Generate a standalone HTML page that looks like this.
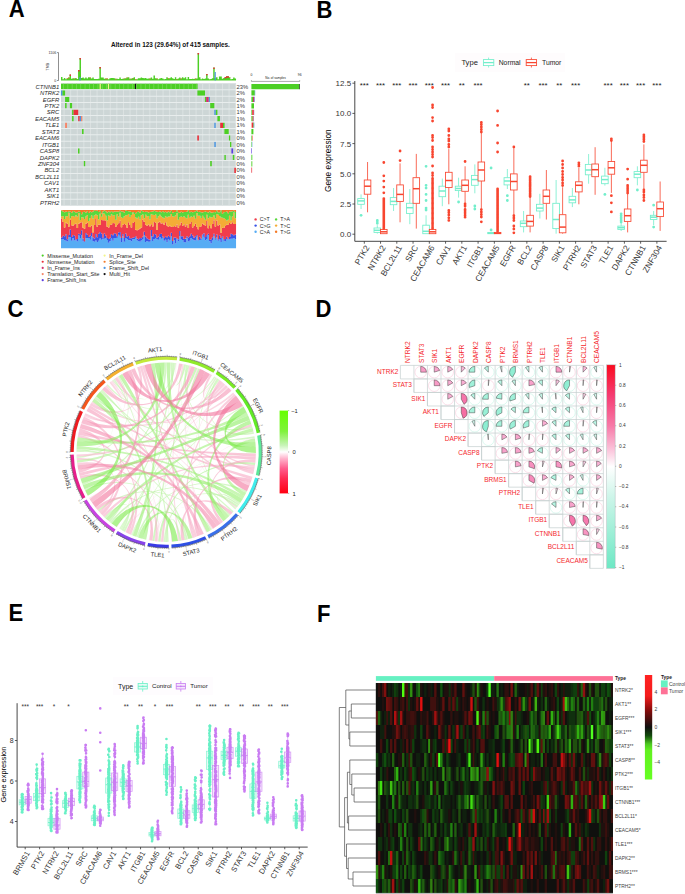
<!DOCTYPE html>
<html><head><meta charset="utf-8"><style>
html,body{margin:0;padding:0;background:#fff;overflow:hidden;width:685px;height:894px;}
svg{display:block;font-family:"Liberation Sans",sans-serif;}
</style></head><body>
<svg width="685" height="894" viewBox="0 0 685 894">
<rect width="685" height="894" fill="#fff"/>
<text x="0" y="0" font-size="24" font-weight="bold" transform="translate(8.8 16.9) scale(0.92 1)">A</text>
<text x="0" y="0" font-size="24" font-weight="bold" transform="translate(316.4 17.9) scale(0.92 1)">B</text>
<text x="0" y="0" font-size="24" font-weight="bold" transform="translate(7.6 316.5) scale(0.92 1)">C</text>
<text x="0" y="0" font-size="24" font-weight="bold" transform="translate(315.5 316.7) scale(0.92 1)">D</text>
<text x="0" y="0" font-size="24" font-weight="bold" transform="translate(8.5 621) scale(0.92 1)">E</text>
<text x="0" y="0" font-size="24" font-weight="bold" transform="translate(317 622.3) scale(0.92 1)">F</text>
<rect x="61" y="83.3" width="175" height="122.36" fill="#cdd6d6"/>
<path fill="#dde3e3" d="M63.6 83.3h0.9v122.36h-0.9zM70.2 83.3h0.9v122.36h-0.9zM76.8 83.3h0.9v122.36h-0.9zM83.4 83.3h0.9v122.36h-0.9zM90 83.3h0.9v122.36h-0.9zM96.6 83.3h0.9v122.36h-0.9zM103.2 83.3h0.9v122.36h-0.9zM109.8 83.3h0.9v122.36h-0.9zM116.4 83.3h0.9v122.36h-0.9zM123 83.3h0.9v122.36h-0.9zM129.6 83.3h0.9v122.36h-0.9zM136.2 83.3h0.9v122.36h-0.9zM142.8 83.3h0.9v122.36h-0.9zM149.4 83.3h0.9v122.36h-0.9zM156 83.3h0.9v122.36h-0.9zM162.6 83.3h0.9v122.36h-0.9zM169.2 83.3h0.9v122.36h-0.9zM175.8 83.3h0.9v122.36h-0.9zM182.4 83.3h0.9v122.36h-0.9zM189 83.3h0.9v122.36h-0.9zM195.6 83.3h0.9v122.36h-0.9zM202.2 83.3h0.9v122.36h-0.9zM208.8 83.3h0.9v122.36h-0.9zM215.4 83.3h0.9v122.36h-0.9zM222 83.3h0.9v122.36h-0.9zM228.6 83.3h0.9v122.36h-0.9zM235.2 83.3h0.9v122.36h-0.9z"/>
<path fill="#4ccf24" d="M61 83.8h136.6v5.44h-136.6zM62.3 90.24h2.8v5.44h-2.8zM197.4 90.24h7.6v5.44h-7.6zM65.1 96.68h4.1v5.44h-4.1zM204.9 96.68h1.2v5.44h-1.2zM65.1 103.12h1.5v5.44h-1.5zM69.9 103.12h2.2v5.44h-2.2zM210.2 103.12h4.1v5.44h-4.1zM72.1 109.56h1.5v5.44h-1.5zM215.7 109.56h1.7v5.44h-1.7zM72.1 116h1.5v5.44h-1.5zM217.4 116h2.5v5.44h-2.5zM223 122.44h1.6v5.44h-1.6zM82 128.88h1.6v5.44h-1.6zM224.4 128.88h4.3v5.44h-4.3zM228.9 135.32h1.3v5.44h-1.3zM230 141.76h1.3v5.44h-1.3zM78 148.2h1.5v5.44h-1.5zM224.4 154.64h1.4v5.44h-1.4zM232.8 154.64h1.5v5.44h-1.5zM83.8 161.08h1.4v5.44h-1.4zM210.2 161.08h1.6v5.44h-1.6z"/>
<path fill="#4b95e0" d="M60.9 90.24h1.4v5.44h-1.4zM208.7 96.68h1.2v5.44h-1.2zM214.3 109.56h1.4v5.44h-1.4zM79.6 116h1.4v5.44h-1.4zM214.3 122.44h1.4v5.44h-1.4zM214.3 141.76h1.5v5.44h-1.5z"/>
<path fill="#d2336e" d="M206.1 96.68h2.6v5.44h-2.6z"/>
<path fill="#e8303a" d="M73.6 109.56h4.6v5.44h-4.6zM78.2 116h1.4v5.44h-1.4zM220.2 122.44h2.8v5.44h-2.8zM197.3 135.32h1.6v5.44h-1.6zM234.3 167.52h1.6v5.44h-1.6z"/>
<path fill="#f5876a" d="M81 116h1.3v5.44h-1.3zM65.1 122.44h1.9v5.44h-1.9z"/>
<path fill="#5b3fe0" d="M231.4 148.2h1.7v5.44h-1.7z"/>
<path fill="#f2f58a" d="M99.6 83.8h1.2v5.44h-1.2zM107.9 83.8h1.2v5.44h-1.2z"/>
<path fill="#111111" d="M134.9 83.8h1.3v5.44h-1.3z"/>
<path fill="#7ada5a" d="M63.2 83.8h0.7v5.44h-0.7zM67.5 83.8h0.7v5.44h-0.7zM71.8 83.8h0.7v5.44h-0.7zM76.1 83.8h0.7v5.44h-0.7zM80.4 83.8h0.7v5.44h-0.7zM84.7 83.8h0.7v5.44h-0.7zM89 83.8h0.7v5.44h-0.7zM93.3 83.8h0.7v5.44h-0.7zM97.6 83.8h0.7v5.44h-0.7zM101.9 83.8h0.7v5.44h-0.7zM106.2 83.8h0.7v5.44h-0.7zM110.5 83.8h0.7v5.44h-0.7zM114.8 83.8h0.7v5.44h-0.7zM119.1 83.8h0.7v5.44h-0.7zM123.4 83.8h0.7v5.44h-0.7zM127.7 83.8h0.7v5.44h-0.7zM132 83.8h0.7v5.44h-0.7zM136.3 83.8h0.7v5.44h-0.7zM140.6 83.8h0.7v5.44h-0.7zM144.9 83.8h0.7v5.44h-0.7zM149.2 83.8h0.7v5.44h-0.7zM153.5 83.8h0.7v5.44h-0.7zM157.8 83.8h0.7v5.44h-0.7zM162.1 83.8h0.7v5.44h-0.7zM166.4 83.8h0.7v5.44h-0.7zM170.7 83.8h0.7v5.44h-0.7zM175 83.8h0.7v5.44h-0.7zM179.3 83.8h0.7v5.44h-0.7zM183.6 83.8h0.7v5.44h-0.7zM187.9 83.8h0.7v5.44h-0.7zM192.2 83.8h0.7v5.44h-0.7zM196.5 83.8h0.7v5.44h-0.7z"/>
<path fill="#e8eded" d="M61 89.24h175v1h-175zM61 95.68h175v1h-175zM61 102.12h175v1h-175zM61 108.56h175v1h-175zM61 115h175v1h-175zM61 121.44h175v1h-175zM61 127.88h175v1h-175zM61 134.32h175v1h-175zM61 140.76h175v1h-175zM61 147.2h175v1h-175zM61 153.64h175v1h-175zM61 160.08h175v1h-175zM61 166.52h175v1h-175zM61 172.96h175v1h-175zM61 179.4h175v1h-175zM61 185.84h175v1h-175zM61 192.28h175v1h-175zM61 198.72h175v1h-175z"/>
<defs><clipPath id="clA"><rect x="35.2" y="80" width="30" height="130"/></clipPath></defs>
<g clip-path="url(#clA)">
<text x="59.2" y="88.72" font-size="5.9" text-anchor="end" fill="#2a2a2a" font-style="italic">CTNNB1</text>
<text x="59.2" y="95.16" font-size="5.9" text-anchor="end" fill="#2a2a2a" font-style="italic">NTRK2</text>
<text x="59.2" y="101.6" font-size="5.9" text-anchor="end" fill="#2a2a2a" font-style="italic">EGFR</text>
<text x="59.2" y="108.04" font-size="5.9" text-anchor="end" fill="#2a2a2a" font-style="italic">PTK2</text>
<text x="59.2" y="114.48" font-size="5.9" text-anchor="end" fill="#2a2a2a" font-style="italic">SRC</text>
<text x="59.2" y="120.92" font-size="5.9" text-anchor="end" fill="#2a2a2a" font-style="italic">CEACAM5</text>
<text x="59.2" y="127.36" font-size="5.9" text-anchor="end" fill="#2a2a2a" font-style="italic">TLE1</text>
<text x="59.2" y="133.8" font-size="5.9" text-anchor="end" fill="#2a2a2a" font-style="italic">STAT3</text>
<text x="59.2" y="140.24" font-size="5.9" text-anchor="end" fill="#2a2a2a" font-style="italic">CEACAM6</text>
<text x="59.2" y="146.68" font-size="5.9" text-anchor="end" fill="#2a2a2a" font-style="italic">ITGB1</text>
<text x="59.2" y="153.12" font-size="5.9" text-anchor="end" fill="#2a2a2a" font-style="italic">CASP8</text>
<text x="59.2" y="159.56" font-size="5.9" text-anchor="end" fill="#2a2a2a" font-style="italic">DAPK2</text>
<text x="59.2" y="166" font-size="5.9" text-anchor="end" fill="#2a2a2a" font-style="italic">ZNF304</text>
<text x="59.2" y="172.44" font-size="5.9" text-anchor="end" fill="#2a2a2a" font-style="italic">BCL2</text>
<text x="59.2" y="178.88" font-size="5.9" text-anchor="end" fill="#2a2a2a" font-style="italic">BCL2L11</text>
<text x="59.2" y="185.32" font-size="5.9" text-anchor="end" fill="#2a2a2a" font-style="italic">CAV1</text>
<text x="59.2" y="191.76" font-size="5.9" text-anchor="end" fill="#2a2a2a" font-style="italic">AKT1</text>
<text x="59.2" y="198.2" font-size="5.9" text-anchor="end" fill="#2a2a2a" font-style="italic">SIK1</text>
<text x="59.2" y="204.64" font-size="5.9" text-anchor="end" fill="#2a2a2a" font-style="italic">PTRH2</text>
</g>
<text x="236.6" y="88.72" font-size="5.8" fill="#3a3a3a">23%</text>
<text x="236.6" y="95.16" font-size="5.8" fill="#3a3a3a">2%</text>
<text x="236.6" y="101.6" font-size="5.8" fill="#3a3a3a">2%</text>
<text x="236.6" y="108.04" font-size="5.8" fill="#3a3a3a">1%</text>
<text x="236.6" y="114.48" font-size="5.8" fill="#3a3a3a">1%</text>
<text x="236.6" y="120.92" font-size="5.8" fill="#3a3a3a">1%</text>
<text x="236.6" y="127.36" font-size="5.8" fill="#3a3a3a">1%</text>
<text x="236.6" y="133.8" font-size="5.8" fill="#3a3a3a">1%</text>
<text x="236.6" y="140.24" font-size="5.8" fill="#3a3a3a">0%</text>
<text x="236.6" y="146.68" font-size="5.8" fill="#3a3a3a">0%</text>
<text x="236.6" y="153.12" font-size="5.8" fill="#3a3a3a">0%</text>
<text x="236.6" y="159.56" font-size="5.8" fill="#3a3a3a">0%</text>
<text x="236.6" y="166" font-size="5.8" fill="#3a3a3a">0%</text>
<text x="236.6" y="172.44" font-size="5.8" fill="#3a3a3a">0%</text>
<text x="236.6" y="178.88" font-size="5.8" fill="#3a3a3a">0%</text>
<text x="236.6" y="185.32" font-size="5.8" fill="#3a3a3a">0%</text>
<text x="236.6" y="191.76" font-size="5.8" fill="#3a3a3a">0%</text>
<text x="236.6" y="198.2" font-size="5.8" fill="#3a3a3a">0%</text>
<text x="236.6" y="204.64" font-size="5.8" fill="#3a3a3a">0%</text>
<path d="M58.5 52.6V80.5M57 52.6h1.5M57 80.5h1.5" stroke="#444" stroke-width="0.6" fill="none"/>
<text x="56.2" y="54" font-size="3.6" text-anchor="end" fill="#333">1106</text>
<text x="56.2" y="81.9" font-size="3.6" text-anchor="end" fill="#333">0</text>
<text x="49.5" y="66.7" font-size="3.6" text-anchor="middle" fill="#333" transform="rotate(-90 49.5 66.7)">TMB</text>
<path fill="#4ccf24" d="M61 77.1h1.47v3.5h-1.47zM62.42 79.3h1.47v1.3h-1.47zM63.85 78h1.47v2.6h-1.47zM65.27 79.3h1.47v1.3h-1.47zM66.69 78.3h1.47v2.3h-1.47zM68.11 77.6h1.47v3h-1.47zM69.54 74.6h1.47v6h-1.47zM70.96 78.8h1.47v1.8h-1.47zM72.38 78.3h1.47v2.3h-1.47zM73.8 78.6h1.47v2h-1.47zM75.23 78h1.47v2.6h-1.47zM76.65 79h1.47v1.6h-1.47zM78.07 70h1.47v10.6h-1.47zM79.5 58.1h1.47v22.5h-1.47zM80.92 78h1.47v2.6h-1.47zM82.34 77.6h1.47v3h-1.47zM83.76 78.6h1.47v2h-1.47zM85.19 77.6h1.47v3h-1.47zM86.61 78.6h1.47v2h-1.47zM88.03 77.2h1.47v3.4h-1.47zM89.46 77.6h1.47v3h-1.47zM90.88 78.6h1.47v2h-1.47zM92.3 77.6h1.47v3h-1.47zM93.72 79h1.47v1.6h-1.47zM95.15 79h1.47v1.6h-1.47zM96.57 79h1.47v1.6h-1.47zM97.99 78.8h1.47v1.8h-1.47zM99.41 67h1.47v13.6h-1.47zM100.84 77.6h1.47v3h-1.47zM102.26 77.6h1.47v3h-1.47zM103.68 78.8h1.47v1.8h-1.47zM105.11 78.6h1.47v2h-1.47zM106.53 78.6h1.47v2h-1.47zM107.95 79.3h1.47v1.3h-1.47zM109.37 78.3h1.47v2.3h-1.47zM110.8 78h1.47v2.6h-1.47zM112.22 78h1.47v2.6h-1.47zM113.64 78.3h1.47v2.3h-1.47zM115.07 78.8h1.47v1.8h-1.47zM116.49 78.8h1.47v1.8h-1.47zM117.91 79h1.47v1.6h-1.47zM119.33 77.6h1.47v3h-1.47zM120.76 79h1.47v1.6h-1.47zM122.18 78.8h1.47v1.8h-1.47zM123.6 78.6h1.47v2h-1.47zM125.02 78.3h1.47v2.3h-1.47zM126.45 77.6h1.47v3h-1.47zM127.87 77.2h1.47v3.4h-1.47zM129.29 78.8h1.47v1.8h-1.47zM130.72 78.6h1.47v2h-1.47zM132.14 78h1.47v2.6h-1.47zM133.56 77.2h1.47v3.4h-1.47zM134.98 79.3h1.47v1.3h-1.47zM136.41 79.3h1.47v1.3h-1.47zM137.83 78.3h1.47v2.3h-1.47zM139.25 78.3h1.47v2.3h-1.47zM140.67 77.6h1.47v3h-1.47zM142.1 78h1.47v2.6h-1.47zM143.52 78.3h1.47v2.3h-1.47zM144.94 78h1.47v2.6h-1.47zM146.37 78.8h1.47v1.8h-1.47zM147.79 78.6h1.47v2h-1.47zM149.21 78.6h1.47v2h-1.47zM150.63 77.6h1.47v3h-1.47zM152.06 78.8h1.47v1.8h-1.47zM153.48 75.5h1.47v5.1h-1.47zM154.9 78.3h1.47v2.3h-1.47zM156.33 78.6h1.47v2h-1.47zM157.75 79.3h1.47v1.3h-1.47zM159.17 78.6h1.47v2h-1.47zM160.59 78h1.47v2.6h-1.47zM162.02 78.6h1.47v2h-1.47zM163.44 79.3h1.47v1.3h-1.47zM164.86 79h1.47v1.6h-1.47zM166.28 77.2h1.47v3.4h-1.47zM167.71 78.3h1.47v2.3h-1.47zM169.13 78.3h1.47v2.3h-1.47zM170.55 77.2h1.47v3.4h-1.47zM171.98 78.3h1.47v2.3h-1.47zM173.4 79h1.47v1.6h-1.47zM174.82 77.2h1.47v3.4h-1.47zM176.24 79h1.47v1.6h-1.47zM177.67 78.6h1.47v2h-1.47zM179.09 77.6h1.47v3h-1.47zM180.51 78.6h1.47v2h-1.47zM181.93 77.2h1.47v3.4h-1.47zM183.36 78.3h1.47v2.3h-1.47zM184.78 77.2h1.47v3.4h-1.47zM186.2 79.3h1.47v1.3h-1.47zM187.63 77h1.47v3.6h-1.47zM189.05 79h1.47v1.6h-1.47zM190.47 79h1.47v1.6h-1.47zM191.89 78.8h1.47v1.8h-1.47zM193.32 79h1.47v1.6h-1.47zM194.74 78.6h1.47v2h-1.47zM196.16 78.6h1.47v2h-1.47zM197.59 53h1.47v27.6h-1.47zM199.01 77.2h1.47v3.4h-1.47zM200.43 79.3h1.47v1.3h-1.47zM201.85 78.6h1.47v2h-1.47zM203.28 79h1.47v1.6h-1.47zM204.7 78.6h1.47v2h-1.47zM206.12 73.9h1.47v6.7h-1.47zM207.54 78.6h1.47v2h-1.47zM208.97 79.3h1.47v1.3h-1.47zM210.39 79h1.47v1.6h-1.47zM211.81 78.3h1.47v2.3h-1.47zM213.24 67.5h1.47v13.1h-1.47zM214.66 78.3h1.47v2.3h-1.47zM216.08 77.2h1.47v3.4h-1.47zM217.5 79.3h1.47v1.3h-1.47zM218.93 76.5h1.47v4.1h-1.47zM220.35 76.5h1.47v4.1h-1.47zM221.77 78.8h1.47v1.8h-1.47zM223.2 78h1.47v2.6h-1.47zM224.62 77h1.47v3.6h-1.47zM226.04 76.3h1.47v4.3h-1.47zM227.46 76.3h1.47v4.3h-1.47zM228.89 77.2h1.47v3.4h-1.47zM230.31 79.3h1.47v1.3h-1.47zM231.73 79h1.47v1.6h-1.47zM233.15 77.6h1.47v3h-1.47zM234.58 78.6h1.47v2h-1.47z"/>
<path fill="#e8704a" d="M66.69 78.3h1.47v0.6h-1.47zM68.11 77.6h1.47v0.6h-1.47zM73.8 78.6h1.47v0.6h-1.47zM89.46 77.6h1.47v0.6h-1.47zM105.11 78.6h1.47v0.6h-1.47zM106.53 78.6h1.47v0.6h-1.47zM115.07 78.8h1.47v0.6h-1.47zM123.6 78.6h1.47v0.6h-1.47zM126.45 77.6h1.47v0.6h-1.47zM129.29 78.8h1.47v0.6h-1.47zM132.14 78h1.47v0.6h-1.47zM134.98 79.3h1.47v0.6h-1.47zM149.21 78.6h1.47v0.6h-1.47zM156.33 78.6h1.47v0.6h-1.47zM167.71 78.3h1.47v0.6h-1.47zM176.24 79h1.47v0.6h-1.47zM180.51 78.6h1.47v0.6h-1.47zM194.74 78.6h1.47v0.6h-1.47zM228.89 77.2h1.47v0.6h-1.47z"/>
<path fill="#e8303a" d="M69.54 74.6h1.47v1.4h-1.47zM78.07 70h1.47v1.4h-1.47zM79.5 58.1h1.47v1.4h-1.47zM99.41 67h1.47v1.4h-1.47zM197.59 53h1.47v1.4h-1.47zM206.12 73.9h1.47v1.4h-1.47zM213.24 67.5h1.47v1.4h-1.47zM224.62 77h1.47v1.4h-1.47zM226.04 76.3h1.47v1.4h-1.47zM227.46 76.3h1.47v1.4h-1.47z"/>
<path fill="#4b95e0" d="M79.4 77h1.2v3.6h-1.2zM214.6 72h1.2v8.6h-1.2z"/>
<text x="170.4" y="47" font-size="6.4" text-anchor="middle" font-weight="bold" fill="#111">Altered in 123 (29.64%) of 415 samples.</text>
<path d="M251.4 81.4H299.7M251.4 80.2v1.2M299.7 80.2v1.2" stroke="#555" stroke-width="0.5" fill="none"/>
<text x="251.4" y="75.8" font-size="3.4" text-anchor="middle" fill="#222">0</text>
<text x="299.7" y="75.8" font-size="3.4" text-anchor="middle" fill="#222">96</text>
<text x="275.5" y="79.3" font-size="3.1" text-anchor="middle" fill="#222">No. of samples</text>
<path fill="#4ccf24" d="M251.4 83.9h48v5.24h-48zM251.4 90.34h3.4v5.24h-3.4zM251.4 96.78h1.6v5.24h-1.6zM251.4 103.22h2.6v5.24h-2.6zM251.4 109.66h0.8v5.24h-0.8zM251.4 116.1h1.2v5.24h-1.2zM253.2 122.54h0.6v5.24h-0.6zM251.4 128.98h2v5.24h-2zM251.4 135.42h0.6v5.24h-0.6zM251.4 141.86h0.5v5.24h-0.5zM251.4 154.74h0.9v5.24h-0.9zM251.4 161.18h0.9v5.24h-0.9z"/>
<path fill="#111111" d="M299.4 83.9h0.6v5.24h-0.6z"/>
<path fill="#4b95e0" d="M254.8 90.34h0.4v5.24h-0.4zM254.2 96.78h0.6v5.24h-0.6zM253.8 109.66h0.4v5.24h-0.4zM253.4 116.1h0.5v5.24h-0.5zM253.8 122.54h0.5v5.24h-0.5zM251.9 141.86h0.4v5.24h-0.4z"/>
<path fill="#d2336e" d="M253 96.78h1.2v5.24h-1.2z"/>
<path fill="#e8303a" d="M252.2 109.66h1.6v5.24h-1.6zM252.6 116.1h0.8v5.24h-0.8zM252 122.54h1.2v5.24h-1.2zM252 135.42h0.5v5.24h-0.5zM251.4 167.62h0.7v5.24h-0.7z"/>
<path fill="#f5876a" d="M251.4 122.54h0.6v5.24h-0.6z"/>
<path fill="#5b3fe0" d="M251.4 148.3h0.6v5.24h-0.6z"/>
<path fill="#56acf4" d="M61 239.55h1.47v8.65h-1.47zM62.42 238.96h1.47v9.24h-1.47zM63.85 240.15h1.47v8.05h-1.47zM65.27 240.69h1.47v7.51h-1.47zM66.69 241.5h1.47v6.7h-1.47zM68.11 237.56h1.47v10.64h-1.47zM69.54 237.13h1.47v11.07h-1.47zM70.96 240.81h1.47v7.39h-1.47zM72.38 237.89h1.47v10.31h-1.47zM73.8 240.58h1.47v7.62h-1.47zM75.23 240.27h1.47v7.93h-1.47zM76.65 241.45h1.47v6.75h-1.47zM78.07 235.54h1.47v12.66h-1.47zM79.5 238.51h1.47v9.69h-1.47zM80.92 235.49h1.47v12.71h-1.47zM82.34 241.36h1.47v6.84h-1.47zM83.76 241.95h1.47v6.25h-1.47zM85.19 238.24h1.47v9.96h-1.47zM86.61 238.22h1.47v9.98h-1.47zM88.03 237.98h1.47v10.22h-1.47zM89.46 239.86h1.47v8.34h-1.47zM90.88 236.32h1.47v11.88h-1.47zM92.3 240.96h1.47v7.24h-1.47zM93.72 241.64h1.47v6.56h-1.47zM95.15 240.54h1.47v7.66h-1.47zM96.57 242h1.47v6.2h-1.47zM97.99 240.83h1.47v7.37h-1.47zM99.41 238.45h1.47v9.75h-1.47zM100.84 239.8h1.47v8.4h-1.47zM102.26 238.78h1.47v9.42h-1.47zM103.68 238.87h1.47v9.33h-1.47zM105.11 238.33h1.47v9.87h-1.47zM106.53 239.95h1.47v8.25h-1.47zM107.95 242.78h1.47v5.42h-1.47zM109.37 241.25h1.47v6.95h-1.47zM110.8 238.44h1.47v9.76h-1.47zM112.22 240.81h1.47v7.39h-1.47zM113.64 238.01h1.47v10.19h-1.47zM115.07 238.12h1.47v10.08h-1.47zM116.49 237.71h1.47v10.49h-1.47zM117.91 234.8h1.47v13.4h-1.47zM119.33 236.86h1.47v11.34h-1.47zM120.76 241.9h1.47v6.3h-1.47zM122.18 236.26h1.47v11.94h-1.47zM123.6 241.66h1.47v6.54h-1.47zM125.02 238.12h1.47v10.08h-1.47zM126.45 239.3h1.47v8.9h-1.47zM127.87 240.05h1.47v8.15h-1.47zM129.29 240.21h1.47v7.99h-1.47zM130.72 241.24h1.47v6.96h-1.47zM132.14 239.18h1.47v9.02h-1.47zM133.56 238.99h1.47v9.21h-1.47zM134.98 237.8h1.47v10.4h-1.47zM136.41 240.53h1.47v7.67h-1.47zM137.83 240.9h1.47v7.3h-1.47zM139.25 241.7h1.47v6.5h-1.47zM140.67 240.6h1.47v7.6h-1.47zM142.1 239.52h1.47v8.68h-1.47zM143.52 235.06h1.47v13.14h-1.47zM144.94 242.05h1.47v6.15h-1.47zM146.37 240.94h1.47v7.26h-1.47zM147.79 241.67h1.47v6.53h-1.47zM149.21 241.86h1.47v6.34h-1.47zM150.63 236.08h1.47v12.12h-1.47zM152.06 241h1.47v7.2h-1.47zM153.48 239.03h1.47v9.17h-1.47zM154.9 238.38h1.47v9.82h-1.47zM156.33 239.53h1.47v8.67h-1.47zM157.75 239.78h1.47v8.42h-1.47zM159.17 236.88h1.47v11.32h-1.47zM160.59 238.84h1.47v9.36h-1.47zM162.02 237.85h1.47v10.35h-1.47zM163.44 240.66h1.47v7.54h-1.47zM164.86 239.79h1.47v8.41h-1.47zM166.28 242.37h1.47v5.83h-1.47zM167.71 239.52h1.47v8.68h-1.47zM169.13 240.88h1.47v7.32h-1.47zM170.55 236.43h1.47v11.77h-1.47zM171.98 244.58h1.47v3.62h-1.47zM173.4 239.93h1.47v8.27h-1.47zM174.82 243.59h1.47v4.61h-1.47zM176.24 239.3h1.47v8.9h-1.47zM177.67 241.22h1.47v6.98h-1.47zM179.09 236.32h1.47v11.88h-1.47zM180.51 239.61h1.47v8.59h-1.47zM181.93 239.93h1.47v8.27h-1.47zM183.36 241.91h1.47v6.29h-1.47zM184.78 242.46h1.47v5.74h-1.47zM186.2 238.33h1.47v9.87h-1.47zM187.63 241.42h1.47v6.78h-1.47zM189.05 240.78h1.47v7.42h-1.47zM190.47 237.9h1.47v10.3h-1.47zM191.89 239.5h1.47v8.7h-1.47zM193.32 240.36h1.47v7.84h-1.47zM194.74 240.57h1.47v7.63h-1.47zM196.16 236.79h1.47v11.41h-1.47zM197.59 240.49h1.47v7.71h-1.47zM199.01 239.92h1.47v8.28h-1.47zM200.43 239.78h1.47v8.42h-1.47zM201.85 235.41h1.47v12.79h-1.47zM203.28 237.58h1.47v10.62h-1.47zM204.7 240.32h1.47v7.88h-1.47zM206.12 238.93h1.47v9.27h-1.47zM207.54 234.99h1.47v13.21h-1.47zM208.97 241.26h1.47v6.94h-1.47zM210.39 243.21h1.47v4.99h-1.47zM211.81 240.41h1.47v7.79h-1.47zM213.24 236.6h1.47v11.6h-1.47zM214.66 239.74h1.47v8.46h-1.47zM216.08 237.47h1.47v10.73h-1.47zM217.5 240.85h1.47v7.35h-1.47zM218.93 239.54h1.47v8.66h-1.47zM220.35 242.01h1.47v6.19h-1.47zM221.77 237.86h1.47v10.34h-1.47zM223.2 240.77h1.47v7.43h-1.47zM224.62 241.5h1.47v6.7h-1.47zM226.04 239.5h1.47v8.7h-1.47zM227.46 239.57h1.47v8.63h-1.47zM228.89 239.42h1.47v8.78h-1.47zM230.31 238.72h1.47v9.48h-1.47zM231.73 238.86h1.47v9.34h-1.47zM233.15 238.11h1.47v10.09h-1.47zM234.58 239.3h1.47v8.9h-1.47z"/>
<path fill="#3a55e6" d="M61 237.45h1.47v2.1h-1.47zM62.42 235.84h1.47v3.13h-1.47zM63.85 236.16h1.47v3.99h-1.47zM65.27 234.19h1.47v6.5h-1.47zM66.69 239.13h1.47v2.37h-1.47zM68.11 235.03h1.47v2.52h-1.47zM69.54 229.42h1.47v7.71h-1.47zM70.96 237h1.47v3.81h-1.47zM72.38 234.88h1.47v3.01h-1.47zM73.8 235.67h1.47v4.91h-1.47zM75.23 239.55h1.47v0.72h-1.47zM76.65 238.99h1.47v2.46h-1.47zM78.07 233.83h1.47v1.71h-1.47zM79.5 234.19h1.47v4.32h-1.47zM80.92 230.34h1.47v5.15h-1.47zM82.34 238.48h1.47v2.89h-1.47zM83.76 241.15h1.47v0.8h-1.47zM85.19 232.91h1.47v5.33h-1.47zM86.61 234.67h1.47v3.55h-1.47zM88.03 236.99h1.47v0.99h-1.47zM89.46 235.42h1.47v4.43h-1.47zM90.88 232.92h1.47v3.39h-1.47zM92.3 237.36h1.47v3.6h-1.47zM93.72 238.43h1.47v3.2h-1.47zM95.15 234.04h1.47v6.5h-1.47zM96.57 237.14h1.47v4.86h-1.47zM97.99 233.82h1.47v7.01h-1.47zM99.41 232.02h1.47v6.42h-1.47zM100.84 233.59h1.47v6.21h-1.47zM102.26 237.38h1.47v1.4h-1.47zM103.68 233.62h1.47v5.25h-1.47zM105.11 235.56h1.47v2.77h-1.47zM106.53 238.05h1.47v1.9h-1.47zM107.95 239.01h1.47v3.77h-1.47zM109.37 237.86h1.47v3.39h-1.47zM110.8 234.31h1.47v4.13h-1.47zM112.22 235.26h1.47v5.55h-1.47zM113.64 233.29h1.47v4.73h-1.47zM115.07 233.84h1.47v4.28h-1.47zM116.49 236.35h1.47v1.36h-1.47zM117.91 232.59h1.47v2.21h-1.47zM119.33 231.93h1.47v4.93h-1.47zM120.76 237.92h1.47v3.97h-1.47zM122.18 233.94h1.47v2.32h-1.47zM123.6 237.98h1.47v3.69h-1.47zM125.02 233.5h1.47v4.61h-1.47zM126.45 236.48h1.47v2.82h-1.47zM127.87 235.98h1.47v4.06h-1.47zM129.29 238.33h1.47v1.88h-1.47zM130.72 238.17h1.47v3.07h-1.47zM132.14 237.87h1.47v1.31h-1.47zM133.56 237.19h1.47v1.8h-1.47zM134.98 236.23h1.47v1.57h-1.47zM136.41 238.49h1.47v2.04h-1.47zM137.83 239.27h1.47v1.63h-1.47zM139.25 237.91h1.47v3.79h-1.47zM140.67 238.22h1.47v2.38h-1.47zM142.1 236.75h1.47v2.77h-1.47zM143.52 231.68h1.47v3.37h-1.47zM144.94 236.52h1.47v5.53h-1.47zM146.37 238.28h1.47v2.66h-1.47zM147.79 239.23h1.47v2.45h-1.47zM149.21 239.75h1.47v2.11h-1.47zM150.63 230h1.47v6.08h-1.47zM152.06 236.46h1.47v4.54h-1.47zM153.48 234h1.47v5.03h-1.47zM154.9 234.39h1.47v3.99h-1.47zM156.33 237.77h1.47v1.76h-1.47zM157.75 236.62h1.47v3.16h-1.47zM159.17 233.98h1.47v2.9h-1.47zM160.59 233.79h1.47v5.05h-1.47zM162.02 236.45h1.47v1.4h-1.47zM163.44 238.09h1.47v2.57h-1.47zM164.86 236.2h1.47v3.59h-1.47zM166.28 237.35h1.47v5.02h-1.47zM167.71 235.69h1.47v3.83h-1.47zM169.13 236.95h1.47v3.92h-1.47zM170.55 232.77h1.47v3.67h-1.47zM171.98 240.93h1.47v3.65h-1.47zM173.4 237.58h1.47v2.35h-1.47zM174.82 237.43h1.47v6.17h-1.47zM176.24 238.38h1.47v0.92h-1.47zM177.67 239.31h1.47v1.91h-1.47zM179.09 231.07h1.47v5.25h-1.47zM180.51 236.2h1.47v3.41h-1.47zM181.93 236.26h1.47v3.67h-1.47zM183.36 239.06h1.47v2.85h-1.47zM184.78 238.63h1.47v3.83h-1.47zM186.2 236.23h1.47v2.1h-1.47zM187.63 237.51h1.47v3.91h-1.47zM189.05 236.13h1.47v4.65h-1.47zM190.47 233.65h1.47v4.25h-1.47zM191.89 235.48h1.47v4.01h-1.47zM193.32 237.7h1.47v2.66h-1.47zM194.74 236.31h1.47v4.26h-1.47zM196.16 235.12h1.47v1.67h-1.47zM197.59 239.63h1.47v0.86h-1.47zM199.01 236.75h1.47v3.17h-1.47zM200.43 238.5h1.47v1.27h-1.47zM201.85 234.55h1.47v0.86h-1.47zM203.28 233.13h1.47v4.45h-1.47zM204.7 236.99h1.47v3.33h-1.47zM206.12 234.93h1.47v4h-1.47zM207.54 233.86h1.47v1.13h-1.47zM208.97 239.91h1.47v1.35h-1.47zM210.39 239.2h1.47v4.01h-1.47zM211.81 237.29h1.47v3.12h-1.47zM213.24 233.79h1.47v2.82h-1.47zM214.66 238.22h1.47v1.52h-1.47zM216.08 234.46h1.47v3.01h-1.47zM217.5 239.21h1.47v1.64h-1.47zM218.93 235.15h1.47v4.39h-1.47zM220.35 237.92h1.47v4.09h-1.47zM221.77 236.3h1.47v1.56h-1.47zM223.2 239.19h1.47v1.57h-1.47zM224.62 239.11h1.47v2.4h-1.47zM226.04 236.69h1.47v2.82h-1.47zM227.46 238.63h1.47v0.94h-1.47zM228.89 237.06h1.47v2.36h-1.47zM230.31 233.84h1.47v4.88h-1.47zM231.73 234.35h1.47v4.51h-1.47zM233.15 235.37h1.47v2.74h-1.47zM234.58 234.62h1.47v4.68h-1.47z"/>
<path fill="#ef3c4c" d="M61 218.46h1.47v18.99h-1.47zM62.42 222.12h1.47v13.72h-1.47zM63.85 227.39h1.47v8.77h-1.47zM65.27 222.72h1.47v11.47h-1.47zM66.69 223.72h1.47v15.42h-1.47zM68.11 226.74h1.47v8.3h-1.47zM69.54 219.63h1.47v9.79h-1.47zM70.96 225.28h1.47v11.71h-1.47zM72.38 225.67h1.47v9.21h-1.47zM73.8 224.36h1.47v11.31h-1.47zM75.23 223.67h1.47v15.87h-1.47zM76.65 227.98h1.47v11.01h-1.47zM78.07 223.86h1.47v9.97h-1.47zM79.5 222.4h1.47v11.8h-1.47zM80.92 222.33h1.47v8h-1.47zM82.34 227.76h1.47v10.72h-1.47zM83.76 228.66h1.47v12.49h-1.47zM85.19 223.68h1.47v9.23h-1.47zM86.61 222.63h1.47v12.03h-1.47zM88.03 226.88h1.47v10.11h-1.47zM89.46 227.12h1.47v8.3h-1.47zM90.88 225.52h1.47v7.4h-1.47zM92.3 232.62h1.47v4.75h-1.47zM93.72 225.12h1.47v13.32h-1.47zM95.15 219.08h1.47v14.96h-1.47zM96.57 226.78h1.47v10.36h-1.47zM97.99 224.45h1.47v9.37h-1.47zM99.41 225.07h1.47v6.95h-1.47zM100.84 220.01h1.47v13.58h-1.47zM102.26 220.15h1.47v17.23h-1.47zM103.68 220.23h1.47v13.38h-1.47zM105.11 220.95h1.47v14.61h-1.47zM106.53 226.78h1.47v11.27h-1.47zM107.95 227.51h1.47v11.5h-1.47zM109.37 225.05h1.47v12.81h-1.47zM110.8 224.61h1.47v9.71h-1.47zM112.22 222.9h1.47v12.36h-1.47zM113.64 223.31h1.47v9.98h-1.47zM115.07 226.75h1.47v7.08h-1.47zM116.49 224.92h1.47v11.43h-1.47zM117.91 223.22h1.47v9.37h-1.47zM119.33 220.72h1.47v11.21h-1.47zM120.76 227.21h1.47v10.72h-1.47zM122.18 224.86h1.47v9.08h-1.47zM123.6 223.89h1.47v14.08h-1.47zM125.02 224.64h1.47v8.86h-1.47zM126.45 227.87h1.47v8.61h-1.47zM127.87 222.2h1.47v13.78h-1.47zM129.29 224.95h1.47v13.37h-1.47zM130.72 227.42h1.47v10.76h-1.47zM132.14 222.99h1.47v14.88h-1.47zM133.56 222.12h1.47v15.07h-1.47zM134.98 229.79h1.47v6.44h-1.47zM136.41 230.27h1.47v8.21h-1.47zM137.83 229.56h1.47v9.71h-1.47zM139.25 228.49h1.47v9.42h-1.47zM140.67 227.56h1.47v10.66h-1.47zM142.1 219.8h1.47v16.95h-1.47zM143.52 221.81h1.47v9.88h-1.47zM144.94 224.74h1.47v11.78h-1.47zM146.37 225.77h1.47v12.51h-1.47zM147.79 224.5h1.47v14.73h-1.47zM149.21 226.15h1.47v13.6h-1.47zM150.63 224.23h1.47v5.77h-1.47zM152.06 226.51h1.47v9.94h-1.47zM153.48 221.93h1.47v12.07h-1.47zM154.9 222.82h1.47v11.58h-1.47zM156.33 229.92h1.47v7.86h-1.47zM157.75 222.45h1.47v14.17h-1.47zM159.17 221.65h1.47v12.33h-1.47zM160.59 223.6h1.47v10.19h-1.47zM162.02 223.13h1.47v13.32h-1.47zM163.44 224.64h1.47v13.45h-1.47zM164.86 222.31h1.47v13.89h-1.47zM166.28 225.46h1.47v11.88h-1.47zM167.71 226.74h1.47v8.96h-1.47zM169.13 225.76h1.47v11.2h-1.47zM170.55 226.67h1.47v6.1h-1.47zM171.98 227.07h1.47v13.86h-1.47zM173.4 225.89h1.47v11.69h-1.47zM174.82 226.81h1.47v10.62h-1.47zM176.24 224.44h1.47v13.94h-1.47zM177.67 227.83h1.47v11.48h-1.47zM179.09 225.34h1.47v5.73h-1.47zM180.51 222.55h1.47v13.65h-1.47zM181.93 225.86h1.47v10.4h-1.47zM183.36 224.18h1.47v14.88h-1.47zM184.78 226.45h1.47v12.17h-1.47zM186.2 224.42h1.47v11.82h-1.47zM187.63 227.89h1.47v9.62h-1.47zM189.05 224.07h1.47v12.06h-1.47zM190.47 222.1h1.47v11.56h-1.47zM191.89 227.38h1.47v8.1h-1.47zM193.32 226.03h1.47v11.67h-1.47zM194.74 223.67h1.47v12.64h-1.47zM196.16 226.85h1.47v8.27h-1.47zM197.59 229.17h1.47v10.46h-1.47zM199.01 227.04h1.47v9.71h-1.47zM200.43 226.35h1.47v12.15h-1.47zM201.85 223.56h1.47v10.99h-1.47zM203.28 224.74h1.47v8.39h-1.47zM204.7 225.45h1.47v11.54h-1.47zM206.12 221.08h1.47v13.85h-1.47zM207.54 228.19h1.47v5.67h-1.47zM208.97 225.22h1.47v14.69h-1.47zM210.39 228.29h1.47v10.91h-1.47zM211.81 224.03h1.47v13.26h-1.47zM213.24 220.35h1.47v13.44h-1.47zM214.66 226.4h1.47v11.83h-1.47zM216.08 220.54h1.47v13.92h-1.47zM217.5 225.45h1.47v13.76h-1.47zM218.93 224.59h1.47v10.56h-1.47zM220.35 232.86h1.47v5.06h-1.47zM221.77 227.73h1.47v8.57h-1.47zM223.2 227.96h1.47v11.23h-1.47zM224.62 226.05h1.47v13.05h-1.47zM226.04 224.5h1.47v12.19h-1.47zM227.46 224.9h1.47v13.73h-1.47zM228.89 223h1.47v14.05h-1.47zM230.31 224.07h1.47v9.77h-1.47zM231.73 222.23h1.47v12.12h-1.47zM233.15 223.96h1.47v11.41h-1.47zM234.58 223.95h1.47v10.67h-1.47z"/>
<path fill="#f4ac36" d="M61 216.5h1.47v1.96h-1.47zM62.42 216.09h1.47v6.03h-1.47zM63.85 218.96h1.47v8.43h-1.47zM65.27 216.21h1.47v6.52h-1.47zM66.69 216.32h1.47v7.4h-1.47zM68.11 212.87h1.47v13.86h-1.47zM69.54 218.32h1.47v1.31h-1.47zM70.96 216.32h1.47v8.96h-1.47zM72.38 215.94h1.47v9.73h-1.47zM73.8 216.86h1.47v7.49h-1.47zM75.23 215.16h1.47v8.51h-1.47zM76.65 216.48h1.47v11.5h-1.47zM78.07 212.96h1.47v10.9h-1.47zM79.5 220.07h1.47v2.33h-1.47zM80.92 217.16h1.47v5.18h-1.47zM82.34 217.58h1.47v10.18h-1.47zM83.76 219.04h1.47v9.62h-1.47zM85.19 216.49h1.47v7.18h-1.47zM86.61 215.28h1.47v7.35h-1.47zM88.03 221.07h1.47v5.81h-1.47zM89.46 217.96h1.47v9.17h-1.47zM90.88 215.58h1.47v9.94h-1.47zM92.3 218.39h1.47v14.22h-1.47zM93.72 215.57h1.47v9.55h-1.47zM95.15 214.47h1.47v4.61h-1.47zM96.57 215.37h1.47v11.4h-1.47zM97.99 219.14h1.47v5.31h-1.47zM99.41 213.79h1.47v11.28h-1.47zM100.84 216.7h1.47v3.31h-1.47zM102.26 213.57h1.47v6.58h-1.47zM103.68 213.79h1.47v6.45h-1.47zM105.11 215.63h1.47v5.32h-1.47zM106.53 220.37h1.47v6.41h-1.47zM107.95 215.44h1.47v12.07h-1.47zM109.37 216.24h1.47v8.81h-1.47zM110.8 214.32h1.47v10.29h-1.47zM112.22 215.76h1.47v7.14h-1.47zM113.64 215.06h1.47v8.25h-1.47zM115.07 219.78h1.47v6.97h-1.47zM116.49 214.23h1.47v10.69h-1.47zM117.91 216.52h1.47v6.7h-1.47zM119.33 212.71h1.47v8.01h-1.47zM120.76 217.33h1.47v9.88h-1.47zM122.18 218.12h1.47v6.74h-1.47zM123.6 216.33h1.47v7.56h-1.47zM125.02 215.56h1.47v9.07h-1.47zM126.45 215.05h1.47v12.82h-1.47zM127.87 214.1h1.47v8.1h-1.47zM129.29 216.89h1.47v8.06h-1.47zM130.72 214.97h1.47v12.44h-1.47zM132.14 213.31h1.47v9.68h-1.47zM133.56 214.12h1.47v8h-1.47zM134.98 217.41h1.47v12.38h-1.47zM136.41 218.62h1.47v11.66h-1.47zM137.83 216.69h1.47v12.87h-1.47zM139.25 219.37h1.47v9.12h-1.47zM140.67 215.28h1.47v12.28h-1.47zM142.1 214.52h1.47v5.28h-1.47zM143.52 218.32h1.47v3.49h-1.47zM144.94 214.77h1.47v9.97h-1.47zM146.37 216.44h1.47v9.33h-1.47zM147.79 216.03h1.47v8.47h-1.47zM149.21 219.17h1.47v6.98h-1.47zM150.63 214.31h1.47v9.91h-1.47zM152.06 214.67h1.47v11.85h-1.47zM153.48 215h1.47v6.93h-1.47zM154.9 214.43h1.47v8.38h-1.47zM156.33 218.36h1.47v11.55h-1.47zM157.75 216.17h1.47v6.28h-1.47zM159.17 214.68h1.47v6.97h-1.47zM160.59 216.44h1.47v7.16h-1.47zM162.02 217.46h1.47v5.66h-1.47zM163.44 218.27h1.47v6.38h-1.47zM164.86 216.26h1.47v6.05h-1.47zM166.28 217.37h1.47v8.1h-1.47zM167.71 216.62h1.47v10.12h-1.47zM169.13 216.53h1.47v9.23h-1.47zM170.55 213.94h1.47v12.73h-1.47zM171.98 216.33h1.47v10.74h-1.47zM173.4 216.81h1.47v9.08h-1.47zM174.82 215.46h1.47v11.35h-1.47zM176.24 213.03h1.47v11.41h-1.47zM177.67 219.7h1.47v8.13h-1.47zM179.09 216.88h1.47v8.46h-1.47zM180.51 216.55h1.47v6h-1.47zM181.93 216.97h1.47v8.88h-1.47zM183.36 216.27h1.47v7.92h-1.47zM184.78 217.83h1.47v8.63h-1.47zM186.2 218.19h1.47v6.23h-1.47zM187.63 214.85h1.47v13.05h-1.47zM189.05 217.8h1.47v6.26h-1.47zM190.47 216.58h1.47v5.52h-1.47zM191.89 216.91h1.47v10.47h-1.47zM193.32 215.75h1.47v10.29h-1.47zM194.74 218.71h1.47v4.95h-1.47zM196.16 212.98h1.47v13.88h-1.47zM197.59 215.71h1.47v13.46h-1.47zM199.01 215.68h1.47v11.35h-1.47zM200.43 217.96h1.47v8.38h-1.47zM201.85 215.72h1.47v7.84h-1.47zM203.28 217.66h1.47v7.08h-1.47zM204.7 219.82h1.47v5.64h-1.47zM206.12 214.65h1.47v6.43h-1.47zM207.54 218.15h1.47v10.04h-1.47zM208.97 216.81h1.47v8.41h-1.47zM210.39 217.45h1.47v10.84h-1.47zM211.81 216.94h1.47v7.08h-1.47zM213.24 215.56h1.47v4.79h-1.47zM214.66 218.52h1.47v7.88h-1.47zM216.08 213.93h1.47v6.61h-1.47zM217.5 214.7h1.47v10.75h-1.47zM218.93 216.02h1.47v8.57h-1.47zM220.35 217.5h1.47v15.36h-1.47zM221.77 217.73h1.47v9.99h-1.47zM223.2 218.32h1.47v9.64h-1.47zM224.62 219.03h1.47v7.02h-1.47zM226.04 220.43h1.47v4.07h-1.47zM227.46 219.71h1.47v5.19h-1.47zM228.89 215.81h1.47v7.19h-1.47zM230.31 220.23h1.47v3.84h-1.47zM231.73 216.41h1.47v5.82h-1.47zM233.15 212.51h1.47v11.45h-1.47zM234.58 218.26h1.47v5.69h-1.47z"/>
<path fill="#58d83e" d="M61 210.44h1.47v6.06h-1.47zM62.42 211.39h1.47v4.7h-1.47zM63.85 212.15h1.47v6.81h-1.47zM65.27 211.39h1.47v4.82h-1.47zM66.69 212.02h1.47v4.3h-1.47zM68.11 211.31h1.47v1.56h-1.47zM69.54 211.63h1.47v6.69h-1.47zM70.96 212.69h1.47v3.63h-1.47zM72.38 210.92h1.47v5.02h-1.47zM73.8 211.81h1.47v5.05h-1.47zM75.23 212.41h1.47v2.75h-1.47zM76.65 212.24h1.47v4.24h-1.47zM78.07 211.62h1.47v1.34h-1.47zM79.5 211.98h1.47v8.09h-1.47zM80.92 214.25h1.47v2.91h-1.47zM82.34 212.02h1.47v5.56h-1.47zM83.76 211.81h1.47v7.23h-1.47zM85.19 212.83h1.47v3.66h-1.47zM86.61 211.16h1.47v4.12h-1.47zM88.03 213.04h1.47v8.03h-1.47zM89.46 211.4h1.47v6.56h-1.47zM90.88 212.16h1.47v3.42h-1.47zM92.3 211.48h1.47v6.91h-1.47zM93.72 210.3h1.47v5.27h-1.47zM95.15 210.89h1.47v3.59h-1.47zM96.57 210.62h1.47v4.75h-1.47zM97.99 211.94h1.47v7.2h-1.47zM99.41 210.85h1.47v2.94h-1.47zM100.84 213.72h1.47v2.99h-1.47zM102.26 211.53h1.47v2.04h-1.47zM103.68 210.61h1.47v3.18h-1.47zM105.11 211.36h1.47v4.27h-1.47zM106.53 212.61h1.47v7.76h-1.47zM107.95 211.53h1.47v3.91h-1.47zM109.37 212.22h1.47v4.03h-1.47zM110.8 211.32h1.47v3h-1.47zM112.22 212.17h1.47v3.59h-1.47zM113.64 211.45h1.47v3.61h-1.47zM115.07 211.68h1.47v8.11h-1.47zM116.49 211.4h1.47v2.84h-1.47zM117.91 211.81h1.47v4.71h-1.47zM119.33 210.71h1.47v2h-1.47zM120.76 211.51h1.47v5.82h-1.47zM122.18 211.62h1.47v6.5h-1.47zM123.6 212.49h1.47v3.84h-1.47zM125.02 210.4h1.47v5.17h-1.47zM126.45 211.02h1.47v4.03h-1.47zM127.87 211.24h1.47v2.85h-1.47zM129.29 211.38h1.47v5.5h-1.47zM130.72 212.05h1.47v2.93h-1.47zM132.14 212.48h1.47v0.83h-1.47zM133.56 212.01h1.47v2.1h-1.47zM134.98 213.16h1.47v4.26h-1.47zM136.41 211.99h1.47v6.63h-1.47zM137.83 211.5h1.47v5.19h-1.47zM139.25 212.86h1.47v6.51h-1.47zM140.67 210.62h1.47v4.66h-1.47zM142.1 211.18h1.47v3.35h-1.47zM143.52 212.07h1.47v6.25h-1.47zM144.94 211.71h1.47v3.05h-1.47zM146.37 211.74h1.47v4.7h-1.47zM147.79 212.45h1.47v3.58h-1.47zM149.21 212.12h1.47v7.05h-1.47zM150.63 211.78h1.47v2.53h-1.47zM152.06 211.54h1.47v3.13h-1.47zM153.48 210.78h1.47v4.22h-1.47zM154.9 211.34h1.47v3.09h-1.47zM156.33 211.76h1.47v6.61h-1.47zM157.75 211.94h1.47v4.23h-1.47zM159.17 211.32h1.47v3.36h-1.47zM160.59 212.29h1.47v4.16h-1.47zM162.02 211.14h1.47v6.32h-1.47zM163.44 212.31h1.47v5.95h-1.47zM164.86 211.75h1.47v4.5h-1.47zM166.28 212.49h1.47v4.87h-1.47zM167.71 211.45h1.47v5.17h-1.47zM169.13 212.34h1.47v4.19h-1.47zM170.55 210.69h1.47v3.25h-1.47zM171.98 212.72h1.47v3.61h-1.47zM173.4 212.12h1.47v4.69h-1.47zM174.82 212.12h1.47v3.34h-1.47zM176.24 210.32h1.47v2.71h-1.47zM177.67 212.24h1.47v7.46h-1.47zM179.09 212.64h1.47v4.24h-1.47zM180.51 211.63h1.47v4.93h-1.47zM181.93 212.54h1.47v4.43h-1.47zM183.36 212h1.47v4.27h-1.47zM184.78 212.12h1.47v5.7h-1.47zM186.2 211.76h1.47v6.42h-1.47zM187.63 210.34h1.47v4.51h-1.47zM189.05 212.17h1.47v5.63h-1.47zM190.47 211.87h1.47v4.71h-1.47zM191.89 212.15h1.47v4.75h-1.47zM193.32 211.96h1.47v3.79h-1.47zM194.74 211.25h1.47v7.46h-1.47zM196.16 210.41h1.47v2.57h-1.47zM197.59 212h1.47v3.7h-1.47zM199.01 211.81h1.47v3.88h-1.47zM200.43 212.28h1.47v5.68h-1.47zM201.85 212.4h1.47v3.32h-1.47zM203.28 211.92h1.47v5.74h-1.47zM204.7 211.42h1.47v8.4h-1.47zM206.12 212.06h1.47v2.6h-1.47zM207.54 212.43h1.47v5.71h-1.47zM208.97 211.5h1.47v5.32h-1.47zM210.39 212.59h1.47v4.86h-1.47zM211.81 212.64h1.47v4.3h-1.47zM213.24 211.98h1.47v3.59h-1.47zM214.66 212.23h1.47v6.29h-1.47zM216.08 210.49h1.47v3.44h-1.47zM217.5 212.17h1.47v2.53h-1.47zM218.93 212.36h1.47v3.66h-1.47zM220.35 210.33h1.47v7.17h-1.47zM221.77 213.66h1.47v4.07h-1.47zM223.2 212.19h1.47v6.13h-1.47zM224.62 211.88h1.47v7.16h-1.47zM226.04 211.45h1.47v8.98h-1.47zM227.46 213.35h1.47v6.37h-1.47zM228.89 211.69h1.47v4.12h-1.47zM230.31 211.61h1.47v8.63h-1.47zM231.73 211.34h1.47v5.07h-1.47zM233.15 210.73h1.47v1.77h-1.47zM234.58 211.99h1.47v6.27h-1.47z"/>
<path fill="#f47a26" d="M61 209.9h1.47v0.54h-1.47zM62.42 209.9h1.47v1.49h-1.47zM63.85 209.9h1.47v2.25h-1.47zM65.27 209.9h1.47v1.49h-1.47zM66.69 209.9h1.47v2.12h-1.47zM68.11 209.9h1.47v1.41h-1.47zM69.54 209.9h1.47v1.73h-1.47zM70.96 209.9h1.47v2.79h-1.47zM72.38 209.9h1.47v1.02h-1.47zM73.8 209.9h1.47v1.91h-1.47zM75.23 209.9h1.47v2.51h-1.47zM76.65 209.9h1.47v2.34h-1.47zM78.07 209.9h1.47v1.72h-1.47zM79.5 209.9h1.47v2.08h-1.47zM80.92 209.9h1.47v4.35h-1.47zM82.34 209.9h1.47v2.12h-1.47zM83.76 209.9h1.47v1.91h-1.47zM85.19 209.9h1.47v2.93h-1.47zM86.61 209.9h1.47v1.26h-1.47zM88.03 209.9h1.47v3.14h-1.47zM89.46 209.9h1.47v1.5h-1.47zM90.88 209.9h1.47v2.26h-1.47zM92.3 209.9h1.47v1.58h-1.47zM93.72 209.9h1.47v0.4h-1.47zM95.15 209.9h1.47v0.99h-1.47zM96.57 209.9h1.47v0.72h-1.47zM97.99 209.9h1.47v2.04h-1.47zM99.41 209.9h1.47v0.95h-1.47zM100.84 209.9h1.47v3.82h-1.47zM102.26 209.9h1.47v1.63h-1.47zM103.68 209.9h1.47v0.71h-1.47zM105.11 209.9h1.47v1.46h-1.47zM106.53 209.9h1.47v2.71h-1.47zM107.95 209.9h1.47v1.63h-1.47zM109.37 209.9h1.47v2.32h-1.47zM110.8 209.9h1.47v1.42h-1.47zM112.22 209.9h1.47v2.27h-1.47zM113.64 209.9h1.47v1.55h-1.47zM115.07 209.9h1.47v1.78h-1.47zM116.49 209.9h1.47v1.5h-1.47zM117.91 209.9h1.47v1.91h-1.47zM119.33 209.9h1.47v0.81h-1.47zM120.76 209.9h1.47v1.61h-1.47zM122.18 209.9h1.47v1.72h-1.47zM123.6 209.9h1.47v2.59h-1.47zM125.02 209.9h1.47v0.5h-1.47zM126.45 209.9h1.47v1.12h-1.47zM127.87 209.9h1.47v1.34h-1.47zM129.29 209.9h1.47v1.48h-1.47zM130.72 209.9h1.47v2.15h-1.47zM132.14 209.9h1.47v2.58h-1.47zM133.56 209.9h1.47v2.11h-1.47zM134.98 209.9h1.47v3.26h-1.47zM136.41 209.9h1.47v2.09h-1.47zM137.83 209.9h1.47v1.6h-1.47zM139.25 209.9h1.47v2.96h-1.47zM140.67 209.9h1.47v0.72h-1.47zM142.1 209.9h1.47v1.28h-1.47zM143.52 209.9h1.47v2.17h-1.47zM144.94 209.9h1.47v1.81h-1.47zM146.37 209.9h1.47v1.84h-1.47zM147.79 209.9h1.47v2.55h-1.47zM149.21 209.9h1.47v2.22h-1.47zM150.63 209.9h1.47v1.88h-1.47zM152.06 209.9h1.47v1.64h-1.47zM153.48 209.9h1.47v0.88h-1.47zM154.9 209.9h1.47v1.44h-1.47zM156.33 209.9h1.47v1.86h-1.47zM157.75 209.9h1.47v2.04h-1.47zM159.17 209.9h1.47v1.42h-1.47zM160.59 209.9h1.47v2.39h-1.47zM162.02 209.9h1.47v1.24h-1.47zM163.44 209.9h1.47v2.41h-1.47zM164.86 209.9h1.47v1.85h-1.47zM166.28 209.9h1.47v2.59h-1.47zM167.71 209.9h1.47v1.55h-1.47zM169.13 209.9h1.47v2.44h-1.47zM170.55 209.9h1.47v0.79h-1.47zM171.98 209.9h1.47v2.82h-1.47zM173.4 209.9h1.47v2.22h-1.47zM174.82 209.9h1.47v2.22h-1.47zM176.24 209.9h1.47v0.42h-1.47zM177.67 209.9h1.47v2.34h-1.47zM179.09 209.9h1.47v2.74h-1.47zM180.51 209.9h1.47v1.73h-1.47zM181.93 209.9h1.47v2.64h-1.47zM183.36 209.9h1.47v2.1h-1.47zM184.78 209.9h1.47v2.22h-1.47zM186.2 209.9h1.47v1.86h-1.47zM187.63 209.9h1.47v0.44h-1.47zM189.05 209.9h1.47v2.27h-1.47zM190.47 209.9h1.47v1.97h-1.47zM191.89 209.9h1.47v2.25h-1.47zM193.32 209.9h1.47v2.06h-1.47zM194.74 209.9h1.47v1.35h-1.47zM196.16 209.9h1.47v0.51h-1.47zM197.59 209.9h1.47v2.1h-1.47zM199.01 209.9h1.47v1.91h-1.47zM200.43 209.9h1.47v2.38h-1.47zM201.85 209.9h1.47v2.5h-1.47zM203.28 209.9h1.47v2.02h-1.47zM204.7 209.9h1.47v1.52h-1.47zM206.12 209.9h1.47v2.16h-1.47zM207.54 209.9h1.47v2.53h-1.47zM208.97 209.9h1.47v1.6h-1.47zM210.39 209.9h1.47v2.69h-1.47zM211.81 209.9h1.47v2.74h-1.47zM213.24 209.9h1.47v2.08h-1.47zM214.66 209.9h1.47v2.33h-1.47zM216.08 209.9h1.47v0.59h-1.47zM217.5 209.9h1.47v2.27h-1.47zM218.93 209.9h1.47v2.46h-1.47zM220.35 209.9h1.47v0.43h-1.47zM221.77 209.9h1.47v3.76h-1.47zM223.2 209.9h1.47v2.29h-1.47zM224.62 209.9h1.47v1.98h-1.47zM226.04 209.9h1.47v1.55h-1.47zM227.46 209.9h1.47v3.45h-1.47zM228.89 209.9h1.47v1.79h-1.47zM230.31 209.9h1.47v1.71h-1.47zM231.73 209.9h1.47v1.44h-1.47zM233.15 209.9h1.47v0.83h-1.47zM234.58 209.9h1.47v2.09h-1.47z"/>
<circle cx="255.6" cy="219.4" r="1.2" fill="#ef3c4c"/>
<text x="259.8" y="221.3" font-size="5.2" fill="#222">C&gt;T</text>
<circle cx="255.6" cy="225.6" r="1.2" fill="#3a55e6"/>
<text x="259.8" y="227.5" font-size="5.2" fill="#222">C&gt;G</text>
<circle cx="255.6" cy="231.8" r="1.2" fill="#56acf4"/>
<text x="259.8" y="233.7" font-size="5.2" fill="#222">C&gt;A</text>
<circle cx="276.1" cy="219.4" r="1.2" fill="#58d83e"/>
<text x="280.3" y="221.3" font-size="5.2" fill="#222">T&gt;A</text>
<circle cx="276.1" cy="225.6" r="1.2" fill="#f4ac36"/>
<text x="280.3" y="227.5" font-size="5.2" fill="#222">T&gt;C</text>
<circle cx="276.1" cy="231.8" r="1.2" fill="#f47a26"/>
<text x="280.3" y="233.7" font-size="5.2" fill="#222">T&gt;G</text>
<circle cx="42.7" cy="255.6" r="1.1" fill="#4ccf24"/>
<text x="47.3" y="257.5" font-size="5.3" fill="#222">Missense_Mutation</text>
<circle cx="42.7" cy="261.75" r="1.1" fill="#e8303a"/>
<text x="47.3" y="263.65" font-size="5.3" fill="#222">Nonsense_Mutation</text>
<circle cx="42.7" cy="267.9" r="1.1" fill="#d2336e"/>
<text x="47.3" y="269.8" font-size="5.3" fill="#222">In_Frame_Ins</text>
<circle cx="42.7" cy="274.05" r="1.1" fill="#f5876a"/>
<text x="47.3" y="275.95" font-size="5.3" fill="#222">Translation_Start_Site</text>
<circle cx="42.7" cy="280.2" r="1.1" fill="#5b3fe0"/>
<text x="47.3" y="282.1" font-size="5.3" fill="#222">Frame_Shift_Ins</text>
<circle cx="104.6" cy="255.6" r="1.1" fill="#f2f58a"/>
<text x="109.3" y="257.5" font-size="5.3" fill="#222">In_Frame_Del</text>
<circle cx="104.6" cy="261.75" r="1.1" fill="#f27a28"/>
<text x="109.3" y="263.65" font-size="5.3" fill="#222">Splice_Site</text>
<circle cx="104.6" cy="267.9" r="1.1" fill="#4b95e0"/>
<text x="109.3" y="269.8" font-size="5.3" fill="#222">Frame_Shift_Del</text>
<circle cx="104.6" cy="274.05" r="1.1" fill="#111111"/>
<text x="109.3" y="275.95" font-size="5.3" fill="#222">Multi_Hit</text>
<path d="M354.8 81V241.3H666.6" stroke="#333" stroke-width="0.9" fill="none"/>
<path d="M352.4 234.2h2.4" stroke="#333" stroke-width="0.8"/>
<text x="351.2" y="237.1" font-size="8" text-anchor="end" fill="#333">0.0</text>
<path d="M352.4 204h2.4" stroke="#333" stroke-width="0.8"/>
<text x="351.2" y="206.9" font-size="8" text-anchor="end" fill="#333">2.5</text>
<path d="M352.4 173.8h2.4" stroke="#333" stroke-width="0.8"/>
<text x="351.2" y="176.7" font-size="8" text-anchor="end" fill="#333">5.0</text>
<path d="M352.4 143.6h2.4" stroke="#333" stroke-width="0.8"/>
<text x="351.2" y="146.5" font-size="8" text-anchor="end" fill="#333">7.5</text>
<path d="M352.4 113.4h2.4" stroke="#333" stroke-width="0.8"/>
<text x="351.2" y="116.3" font-size="8" text-anchor="end" fill="#333">10.0</text>
<path d="M352.4 83.2h2.4" stroke="#333" stroke-width="0.8"/>
<text x="351.2" y="86.1" font-size="8" text-anchor="end" fill="#333">12.5</text>
<text x="331.3" y="160.7" font-size="8.3" text-anchor="middle" transform="rotate(-90 331.3 160.7)">Gene expression</text>
<path d="M364.3 241.3v2.4" stroke="#333" stroke-width="0.8"/>
<path d="M361.05 194.4V198.6M361.05 204.3V209" stroke="#72eecb" stroke-width="0.8"/>
<rect x="357.75" y="198.6" width="6.6" height="5.7" fill="#fff" stroke="#72eecb" stroke-width="0.85"/>
<path d="M357.75 200.9h6.6" stroke="#72eecb" stroke-width="1.5"/>
<path d="M361.05 215.3h0" stroke="#72eecb" stroke-width="2.8" stroke-linecap="round" fill="none"/>
<path d="M367.55 162V180M367.55 194.2V212.3" stroke="#f8452f" stroke-width="0.8"/>
<rect x="364.25" y="180" width="6.6" height="14.2" fill="#fff" stroke="#f8452f" stroke-width="0.85"/>
<path d="M364.25 186.2h6.6" stroke="#f8452f" stroke-width="1.5"/>
<text x="364.3" y="88" font-size="7.8" text-anchor="middle" fill="#1a1a1a">***</text>
<text x="0" y="0" font-size="8.3" text-anchor="end" fill="#333" transform="translate(369.7 247.4) rotate(-60)">PTK2</text>
<path d="M380.56 241.3v2.4" stroke="#333" stroke-width="0.8"/>
<path d="M377.31 225.2V228M377.31 232.4V233.6" stroke="#72eecb" stroke-width="0.8"/>
<rect x="374" y="228" width="6.6" height="4.4" fill="#fff" stroke="#72eecb" stroke-width="0.85"/>
<path d="M374 230.3h6.6" stroke="#72eecb" stroke-width="1.5"/>
<path d="M377.31 220.4h0M377.31 221.9h0M377.31 223.3h0" stroke="#72eecb" stroke-width="2.8" stroke-linecap="round" fill="none"/>
<path d="M383.81 198.6V229.4M383.81 233.7V233.9" stroke="#f8452f" stroke-width="0.8"/>
<rect x="380.5" y="229.4" width="6.6" height="4.3" fill="#fff" stroke="#f8452f" stroke-width="0.85"/>
<path d="M380.5 231.8h6.6" stroke="#f8452f" stroke-width="1.5"/>
<path d="M383.81 198.6h0M383.81 199.6h0M383.81 200.6h0M383.81 201.6h0M383.81 202.6h0M383.81 203.6h0M383.81 204.6h0M383.81 205.6h0M383.81 206.6h0M383.81 207.6h0M383.81 208.6h0M383.81 209.6h0M383.81 210.6h0M383.81 211.6h0M383.81 212.6h0M383.81 213.6h0M383.81 214.6h0M383.81 215.6h0M383.81 216.6h0M383.81 217.6h0M383.81 218.6h0M383.81 219.6h0M383.81 220.6h0M383.81 221.6h0M383.81 222.6h0M383.81 223.6h0M383.81 224.6h0M383.81 225.6h0M383.81 226.6h0M383.81 227.6h0M383.81 228.6h0M383.81 162.5h0M383.81 175.8h0M383.81 181.1h0M383.81 187.1h0M383.81 192.8h0" stroke="#f8452f" stroke-width="2.8" stroke-linecap="round" fill="none"/>
<text x="380.56" y="88" font-size="7.8" text-anchor="middle" fill="#1a1a1a">***</text>
<text x="0" y="0" font-size="8.3" text-anchor="end" fill="#333" transform="translate(385.95 247.4) rotate(-60)">NTRK2</text>
<path d="M396.81 241.3v2.4" stroke="#333" stroke-width="0.8"/>
<path d="M393.56 188V197.6M393.56 204.7V211" stroke="#72eecb" stroke-width="0.8"/>
<rect x="390.26" y="197.6" width="6.6" height="7.1" fill="#fff" stroke="#72eecb" stroke-width="0.85"/>
<path d="M390.26 201.4h6.6" stroke="#72eecb" stroke-width="1.5"/>
<path d="M400.06 163.4V184.9M400.06 201.4V222.3" stroke="#f8452f" stroke-width="0.8"/>
<rect x="396.76" y="184.9" width="6.6" height="16.5" fill="#fff" stroke="#f8452f" stroke-width="0.85"/>
<path d="M396.76 194.4h6.6" stroke="#f8452f" stroke-width="1.5"/>
<path d="M400.06 151h0M400.06 160.6h0" stroke="#f8452f" stroke-width="2.8" stroke-linecap="round" fill="none"/>
<text x="396.81" y="88" font-size="7.8" text-anchor="middle" fill="#1a1a1a">***</text>
<text x="0" y="0" font-size="8.3" text-anchor="end" fill="#333" transform="translate(402.21 247.4) rotate(-60)">BCL2L11</text>
<path d="M413.06 241.3v2.4" stroke="#333" stroke-width="0.8"/>
<path d="M409.81 189V203.3M409.81 213.4V224.2" stroke="#72eecb" stroke-width="0.8"/>
<rect x="406.51" y="203.3" width="6.6" height="10.1" fill="#fff" stroke="#72eecb" stroke-width="0.85"/>
<path d="M406.51 207.7h6.6" stroke="#72eecb" stroke-width="1.5"/>
<path d="M416.31 153.9V177.7M416.31 203.3V228.6" stroke="#f8452f" stroke-width="0.8"/>
<rect x="413.01" y="177.7" width="6.6" height="25.6" fill="#fff" stroke="#f8452f" stroke-width="0.85"/>
<path d="M413.01 188.7h6.6" stroke="#f8452f" stroke-width="1.5"/>
<text x="413.06" y="88" font-size="7.8" text-anchor="middle" fill="#1a1a1a">***</text>
<text x="0" y="0" font-size="8.3" text-anchor="end" fill="#333" transform="translate(418.46 247.4) rotate(-60)">SRC</text>
<path d="M429.32 241.3v2.4" stroke="#333" stroke-width="0.8"/>
<path d="M426.07 215.3V225.2M426.07 233.7V234" stroke="#72eecb" stroke-width="0.8"/>
<rect x="422.77" y="225.2" width="6.6" height="8.5" fill="#fff" stroke="#72eecb" stroke-width="0.85"/>
<path d="M422.77 231.3h6.6" stroke="#72eecb" stroke-width="1.5"/>
<path d="M426.07 166.3h0M426.07 185.3h0M426.07 188.1h0M426.07 194.4h0M426.07 200.5h0M426.07 208.1h0M426.07 210h0" stroke="#72eecb" stroke-width="2.8" stroke-linecap="round" fill="none"/>
<path d="M432.57 229.4V229.4M432.57 233.7V234" stroke="#f8452f" stroke-width="0.8"/>
<rect x="429.27" y="229.4" width="6.6" height="4.3" fill="#fff" stroke="#f8452f" stroke-width="0.85"/>
<path d="M429.27 231.8h6.6" stroke="#f8452f" stroke-width="1.5"/>
<path d="M432.57 178.4h0M432.57 179.65h0M432.57 180.9h0M432.57 182.15h0M432.57 183.4h0M432.57 184.65h0M432.57 185.9h0M432.57 187.15h0M432.57 188.4h0M432.57 189.65h0M432.57 190.9h0M432.57 192.15h0M432.57 193.4h0M432.57 194.65h0M432.57 195.9h0M432.57 197.15h0M432.57 198.4h0M432.57 199.65h0M432.57 200.9h0M432.57 202.15h0M432.57 203.4h0M432.57 204.65h0M432.57 205.9h0M432.57 207.15h0M432.57 208.4h0M432.57 209.65h0M432.57 210.9h0M432.57 212.15h0M432.57 213.4h0M432.57 214.65h0M432.57 215.9h0M432.57 217.15h0M432.57 218.4h0M432.57 219.65h0M432.57 220.9h0M432.57 222.15h0M432.57 223.4h0M432.57 224.65h0M432.57 225.9h0M432.57 227.15h0M432.57 228.4h0M432.57 87.5h0M432.57 105h0M432.57 107.5h0M432.57 117.6h0M432.57 121h0M432.57 135.5h0M432.57 137.5h0M432.57 140.5h0M432.57 147h0M432.57 149.5h0M432.57 152h0M432.57 154.5h0M432.57 157h0M432.57 166h0M432.57 173h0M432.57 175.5h0" stroke="#f8452f" stroke-width="2.8" stroke-linecap="round" fill="none"/>
<text x="429.32" y="88" font-size="7.8" text-anchor="middle" fill="#1a1a1a">***</text>
<text x="0" y="0" font-size="8.3" text-anchor="end" fill="#333" transform="translate(434.72 247.4) rotate(-60)">CEACAM6</text>
<path d="M445.57 241.3v2.4" stroke="#333" stroke-width="0.8"/>
<path d="M442.32 178.6V186.2M442.32 196.7V206.2" stroke="#72eecb" stroke-width="0.8"/>
<rect x="439.02" y="186.2" width="6.6" height="10.5" fill="#fff" stroke="#72eecb" stroke-width="0.85"/>
<path d="M439.02 191h6.6" stroke="#72eecb" stroke-width="1.5"/>
<path d="M448.82 149.1V172.3M448.82 187.5V204.3" stroke="#f8452f" stroke-width="0.8"/>
<rect x="445.52" y="172.3" width="6.6" height="15.2" fill="#fff" stroke="#f8452f" stroke-width="0.85"/>
<path d="M445.52 180.5h6.6" stroke="#f8452f" stroke-width="1.5"/>
<path d="M448.82 129h0M448.82 131h0M448.82 135.5h0M448.82 139h0M448.82 141h0M448.82 144.5h0M448.82 147h0M448.82 210.4h0M448.82 212.5h0M448.82 215h0M448.82 217.8h0M448.82 220.4h0" stroke="#f8452f" stroke-width="2.8" stroke-linecap="round" fill="none"/>
<text x="445.57" y="88" font-size="7.8" text-anchor="middle" fill="#1a1a1a">***</text>
<text x="0" y="0" font-size="8.3" text-anchor="end" fill="#333" transform="translate(450.97 247.4) rotate(-60)">CAV1</text>
<path d="M461.83 241.3v2.4" stroke="#333" stroke-width="0.8"/>
<path d="M458.58 177.7V186.2M458.58 190.6V197.6" stroke="#72eecb" stroke-width="0.8"/>
<rect x="455.28" y="186.2" width="6.6" height="4.4" fill="#fff" stroke="#72eecb" stroke-width="0.85"/>
<path d="M455.28 188.5h6.6" stroke="#72eecb" stroke-width="1.5"/>
<path d="M458.58 202h0" stroke="#72eecb" stroke-width="2.8" stroke-linecap="round" fill="none"/>
<path d="M465.08 166.3V180M465.08 191.3V208.1" stroke="#f8452f" stroke-width="0.8"/>
<rect x="461.78" y="180" width="6.6" height="11.3" fill="#fff" stroke="#f8452f" stroke-width="0.85"/>
<path d="M461.78 185.3h6.6" stroke="#f8452f" stroke-width="1.5"/>
<path d="M465.08 161.5h0M465.08 204h0M465.08 206h0M465.08 209.5h0M465.08 211h0M465.08 213h0M465.08 215.2h0M465.08 217.2h0" stroke="#f8452f" stroke-width="2.8" stroke-linecap="round" fill="none"/>
<text x="461.83" y="88" font-size="7.8" text-anchor="middle" fill="#1a1a1a">**</text>
<text x="0" y="0" font-size="8.3" text-anchor="end" fill="#333" transform="translate(467.23 247.4) rotate(-60)">AKT1</text>
<path d="M478.09 241.3v2.4" stroke="#333" stroke-width="0.8"/>
<path d="M474.84 164.4V175.4M474.84 185.3V193.3" stroke="#72eecb" stroke-width="0.8"/>
<rect x="471.54" y="175.4" width="6.6" height="9.9" fill="#fff" stroke="#72eecb" stroke-width="0.85"/>
<path d="M471.54 179.6h6.6" stroke="#72eecb" stroke-width="1.5"/>
<path d="M474.84 206h0M474.84 209h0" stroke="#72eecb" stroke-width="2.8" stroke-linecap="round" fill="none"/>
<path d="M481.34 133V162M481.34 181V209" stroke="#f8452f" stroke-width="0.8"/>
<rect x="478.04" y="162" width="6.6" height="19" fill="#fff" stroke="#f8452f" stroke-width="0.85"/>
<path d="M478.04 170h6.6" stroke="#f8452f" stroke-width="1.5"/>
<path d="M481.34 122.5h0M481.34 124.5h0M481.34 127h0M481.34 129.5h0M481.34 132h0M481.34 209.6h0M481.34 212h0M481.34 214.5h0M481.34 217h0M481.34 221.8h0" stroke="#f8452f" stroke-width="2.8" stroke-linecap="round" fill="none"/>
<text x="478.09" y="88" font-size="7.8" text-anchor="middle" fill="#1a1a1a">***</text>
<text x="0" y="0" font-size="8.3" text-anchor="end" fill="#333" transform="translate(483.49 247.4) rotate(-60)">ITGB1</text>
<path d="M494.34 241.3v2.4" stroke="#333" stroke-width="0.8"/>
<path d="M491.09 232V232.4M491.09 233.7V234" stroke="#72eecb" stroke-width="0.8"/>
<rect x="487.79" y="232.4" width="6.6" height="1.3" fill="#fff" stroke="#72eecb" stroke-width="0.85"/>
<path d="M487.79 233.2h6.6" stroke="#72eecb" stroke-width="1.5"/>
<path d="M491.09 230h0M491.09 168h0" stroke="#72eecb" stroke-width="2.8" stroke-linecap="round" fill="none"/>
<path d="M497.59 232V232.4M497.59 233.7V234" stroke="#f8452f" stroke-width="0.8"/>
<rect x="494.29" y="232.4" width="6.6" height="1.3" fill="#fff" stroke="#f8452f" stroke-width="0.85"/>
<path d="M494.29 233.2h6.6" stroke="#f8452f" stroke-width="1.5"/>
<path d="M497.59 189h0M497.59 189.9h0M497.59 190.8h0M497.59 191.7h0M497.59 192.6h0M497.59 193.5h0M497.59 194.4h0M497.59 195.3h0M497.59 196.2h0M497.59 197.1h0M497.59 198h0M497.59 198.9h0M497.59 199.8h0M497.59 200.7h0M497.59 201.6h0M497.59 202.5h0M497.59 203.4h0M497.59 204.3h0M497.59 205.2h0M497.59 206.1h0M497.59 207h0M497.59 207.9h0M497.59 208.8h0M497.59 209.7h0M497.59 210.6h0M497.59 211.5h0M497.59 212.4h0M497.59 213.3h0M497.59 214.2h0M497.59 215.1h0M497.59 216h0M497.59 216.9h0M497.59 217.8h0M497.59 218.7h0M497.59 219.6h0M497.59 220.5h0M497.59 221.4h0M497.59 222.3h0M497.59 223.2h0M497.59 224.1h0M497.59 225h0M497.59 225.9h0M497.59 226.8h0M497.59 227.7h0M497.59 228.6h0M497.59 229.5h0M497.59 230.4h0M497.59 231.3h0M497.59 111h0M497.59 125.4h0M497.59 143h0M497.59 152h0" stroke="#f8452f" stroke-width="2.8" stroke-linecap="round" fill="none"/>
<text x="0" y="0" font-size="8.3" text-anchor="end" fill="#333" transform="translate(499.74 247.4) rotate(-60)">CEACAM5</text>
<path d="M510.6 241.3v2.4" stroke="#333" stroke-width="0.8"/>
<path d="M507.35 169V177.7M507.35 184.9V189" stroke="#72eecb" stroke-width="0.8"/>
<rect x="504.05" y="177.7" width="6.6" height="7.2" fill="#fff" stroke="#72eecb" stroke-width="0.85"/>
<path d="M504.05 181h6.6" stroke="#72eecb" stroke-width="1.5"/>
<path d="M507.35 195.7h0M507.35 200.5h0" stroke="#72eecb" stroke-width="2.8" stroke-linecap="round" fill="none"/>
<path d="M513.85 147.2V173.9M513.85 190V215.7" stroke="#f8452f" stroke-width="0.8"/>
<rect x="510.55" y="173.9" width="6.6" height="16.1" fill="#fff" stroke="#f8452f" stroke-width="0.85"/>
<path d="M510.55 181.5h6.6" stroke="#f8452f" stroke-width="1.5"/>
<path d="M513.85 146.9h0M513.85 215.7h0M513.85 218h0M513.85 220.5h0M513.85 226h0M513.85 229h0M513.85 232.8h0" stroke="#f8452f" stroke-width="2.8" stroke-linecap="round" fill="none"/>
<text x="0" y="0" font-size="8.3" text-anchor="end" fill="#333" transform="translate(516 247.4) rotate(-60)">EGFR</text>
<path d="M526.85 241.3v2.4" stroke="#333" stroke-width="0.8"/>
<path d="M523.6 211V221M523.6 226.7V232.4" stroke="#72eecb" stroke-width="0.8"/>
<rect x="520.3" y="221" width="6.6" height="5.7" fill="#fff" stroke="#72eecb" stroke-width="0.85"/>
<path d="M520.3 223.3h6.6" stroke="#72eecb" stroke-width="1.5"/>
<path d="M530.1 196.7V215.3M530.1 226.1V232.4" stroke="#f8452f" stroke-width="0.8"/>
<rect x="526.8" y="215.3" width="6.6" height="10.8" fill="#fff" stroke="#f8452f" stroke-width="0.85"/>
<path d="M526.8 221.4h6.6" stroke="#f8452f" stroke-width="1.5"/>
<path d="M530.1 176.7h0M530.1 177.8h0M530.1 178.9h0M530.1 180h0M530.1 181.1h0M530.1 182.2h0M530.1 183.3h0M530.1 184.4h0M530.1 185.5h0M530.1 186.6h0M530.1 187.7h0M530.1 188.8h0M530.1 189.9h0M530.1 191h0M530.1 192.1h0M530.1 193.2h0M530.1 194.3h0M530.1 195.4h0M530.1 196.5h0" stroke="#f8452f" stroke-width="2.8" stroke-linecap="round" fill="none"/>
<text x="526.85" y="88" font-size="7.8" text-anchor="middle" fill="#1a1a1a">**</text>
<text x="0" y="0" font-size="8.3" text-anchor="end" fill="#333" transform="translate(532.25 247.4) rotate(-60)">BCL2</text>
<path d="M543.11 241.3v2.4" stroke="#333" stroke-width="0.8"/>
<path d="M539.86 193.8V204.3M539.86 211V218.5" stroke="#72eecb" stroke-width="0.8"/>
<rect x="536.56" y="204.3" width="6.6" height="6.7" fill="#fff" stroke="#72eecb" stroke-width="0.85"/>
<path d="M536.56 208.1h6.6" stroke="#72eecb" stroke-width="1.5"/>
<path d="M546.36 170V190M546.36 203.3V219.5" stroke="#f8452f" stroke-width="0.8"/>
<rect x="543.06" y="190" width="6.6" height="13.3" fill="#fff" stroke="#f8452f" stroke-width="0.85"/>
<path d="M543.06 196.3h6.6" stroke="#f8452f" stroke-width="1.5"/>
<text x="543.11" y="88" font-size="7.8" text-anchor="middle" fill="#1a1a1a">***</text>
<text x="0" y="0" font-size="8.3" text-anchor="end" fill="#333" transform="translate(548.5 247.4) rotate(-60)">CASP8</text>
<path d="M559.36 241.3v2.4" stroke="#333" stroke-width="0.8"/>
<path d="M556.11 180V203.3M556.11 228.6V233.7" stroke="#72eecb" stroke-width="0.8"/>
<rect x="552.81" y="203.3" width="6.6" height="25.3" fill="#fff" stroke="#72eecb" stroke-width="0.85"/>
<path d="M552.81 219.5h6.6" stroke="#72eecb" stroke-width="1.5"/>
<path d="M562.61 187.2V214.7M562.61 232.8V233.7" stroke="#f8452f" stroke-width="0.8"/>
<rect x="559.31" y="214.7" width="6.6" height="18.1" fill="#fff" stroke="#f8452f" stroke-width="0.85"/>
<path d="M559.31 227.1h6.6" stroke="#f8452f" stroke-width="1.5"/>
<path d="M562.61 161h0M562.61 164.5h0M562.61 168h0M562.61 171.5h0M562.61 174.5h0M562.61 177.5h0M562.61 180h0M562.61 183h0M562.61 185.5h0" stroke="#f8452f" stroke-width="2.8" stroke-linecap="round" fill="none"/>
<text x="559.36" y="88" font-size="7.8" text-anchor="middle" fill="#1a1a1a">**</text>
<text x="0" y="0" font-size="8.3" text-anchor="end" fill="#333" transform="translate(564.76 247.4) rotate(-60)">SIK1</text>
<path d="M575.62 241.3v2.4" stroke="#333" stroke-width="0.8"/>
<path d="M572.37 188V196.3M572.37 202.8V207.1" stroke="#72eecb" stroke-width="0.8"/>
<rect x="569.07" y="196.3" width="6.6" height="6.5" fill="#fff" stroke="#72eecb" stroke-width="0.85"/>
<path d="M569.07 199.9h6.6" stroke="#72eecb" stroke-width="1.5"/>
<path d="M578.87 168V181.8M578.87 191.9V204.3" stroke="#f8452f" stroke-width="0.8"/>
<rect x="575.57" y="181.8" width="6.6" height="10.1" fill="#fff" stroke="#f8452f" stroke-width="0.85"/>
<path d="M575.57 185.3h6.6" stroke="#f8452f" stroke-width="1.5"/>
<path d="M578.87 162.8h0M578.87 164.5h0M578.87 166.2h0" stroke="#f8452f" stroke-width="2.8" stroke-linecap="round" fill="none"/>
<text x="575.62" y="88" font-size="7.8" text-anchor="middle" fill="#1a1a1a">***</text>
<text x="0" y="0" font-size="8.3" text-anchor="end" fill="#333" transform="translate(581.01 247.4) rotate(-60)">PTRH2</text>
<path d="M591.87 241.3v2.4" stroke="#333" stroke-width="0.8"/>
<path d="M588.62 154V164.4M588.62 174.8V183.7" stroke="#72eecb" stroke-width="0.8"/>
<rect x="585.32" y="164.4" width="6.6" height="10.4" fill="#fff" stroke="#72eecb" stroke-width="0.85"/>
<path d="M585.32 170h6.6" stroke="#72eecb" stroke-width="1.5"/>
<path d="M595.12 147.2V164M595.12 176.7V194.8" stroke="#f8452f" stroke-width="0.8"/>
<rect x="591.82" y="164" width="6.6" height="12.7" fill="#fff" stroke="#f8452f" stroke-width="0.85"/>
<path d="M591.82 169.7h6.6" stroke="#f8452f" stroke-width="1.5"/>
<text x="0" y="0" font-size="8.3" text-anchor="end" fill="#333" transform="translate(597.27 247.4) rotate(-60)">STAT3</text>
<path d="M608.12 241.3v2.4" stroke="#333" stroke-width="0.8"/>
<path d="M604.88 167.8V176.1M604.88 183.7V185.6" stroke="#72eecb" stroke-width="0.8"/>
<rect x="601.58" y="176.1" width="6.6" height="7.6" fill="#fff" stroke="#72eecb" stroke-width="0.85"/>
<path d="M601.58 179.6h6.6" stroke="#72eecb" stroke-width="1.5"/>
<path d="M604.88 194.4h0" stroke="#72eecb" stroke-width="2.8" stroke-linecap="round" fill="none"/>
<path d="M611.38 140.6V161.5M611.38 174.2V192.9" stroke="#f8452f" stroke-width="0.8"/>
<rect x="608.08" y="161.5" width="6.6" height="12.7" fill="#fff" stroke="#f8452f" stroke-width="0.85"/>
<path d="M608.08 167.8h6.6" stroke="#f8452f" stroke-width="1.5"/>
<path d="M611.38 139h0M611.38 140.5h0M611.38 195.7h0M611.38 202.8h0M611.38 211.9h0" stroke="#f8452f" stroke-width="2.8" stroke-linecap="round" fill="none"/>
<text x="608.12" y="88" font-size="7.8" text-anchor="middle" fill="#1a1a1a">***</text>
<text x="0" y="0" font-size="8.3" text-anchor="end" fill="#333" transform="translate(613.52 247.4) rotate(-60)">TLE1</text>
<path d="M624.38 241.3v2.4" stroke="#333" stroke-width="0.8"/>
<path d="M621.13 213.8V226.1M621.13 229.4V231" stroke="#72eecb" stroke-width="0.8"/>
<rect x="617.83" y="226.1" width="6.6" height="3.3" fill="#fff" stroke="#72eecb" stroke-width="0.85"/>
<path d="M617.83 227.7h6.6" stroke="#72eecb" stroke-width="1.5"/>
<path d="M621.13 213.8h0M621.13 215.5h0M621.13 217.2h0M621.13 219h0M621.13 220.5h0M621.13 222h0" stroke="#72eecb" stroke-width="2.8" stroke-linecap="round" fill="none"/>
<path d="M627.63 185.3V209M627.63 221.4V232.4" stroke="#f8452f" stroke-width="0.8"/>
<rect x="624.33" y="209" width="6.6" height="12.4" fill="#fff" stroke="#f8452f" stroke-width="0.85"/>
<path d="M624.33 215.7h6.6" stroke="#f8452f" stroke-width="1.5"/>
<path d="M627.63 169.1h0M627.63 179.2h0M627.63 185.3h0M627.63 187h0M627.63 189h0M627.63 191h0M627.63 193h0" stroke="#f8452f" stroke-width="2.8" stroke-linecap="round" fill="none"/>
<text x="624.38" y="88" font-size="7.8" text-anchor="middle" fill="#1a1a1a">***</text>
<text x="0" y="0" font-size="8.3" text-anchor="end" fill="#333" transform="translate(629.78 247.4) rotate(-60)">DAPK2</text>
<path d="M640.63 241.3v2.4" stroke="#333" stroke-width="0.8"/>
<path d="M637.38 166.3V171.6M637.38 177.7V185.3" stroke="#72eecb" stroke-width="0.8"/>
<rect x="634.09" y="171.6" width="6.6" height="6.1" fill="#fff" stroke="#72eecb" stroke-width="0.85"/>
<path d="M634.09 174.2h6.6" stroke="#72eecb" stroke-width="1.5"/>
<path d="M637.38 190h0" stroke="#72eecb" stroke-width="2.8" stroke-linecap="round" fill="none"/>
<path d="M643.88 144.4V160.2M643.88 172.3V189" stroke="#f8452f" stroke-width="0.8"/>
<rect x="640.59" y="160.2" width="6.6" height="12.1" fill="#fff" stroke="#f8452f" stroke-width="0.85"/>
<path d="M640.59 165.3h6.6" stroke="#f8452f" stroke-width="1.5"/>
<path d="M643.88 134.9h0M643.88 136.5h0M643.88 138h0M643.88 139.5h0M643.88 141.5h0M643.88 190h0M643.88 192h0M643.88 195h0M643.88 197.5h0M643.88 200.5h0" stroke="#f8452f" stroke-width="2.8" stroke-linecap="round" fill="none"/>
<text x="640.63" y="88" font-size="7.8" text-anchor="middle" fill="#1a1a1a">***</text>
<text x="0" y="0" font-size="8.3" text-anchor="end" fill="#333" transform="translate(646.03 247.4) rotate(-60)">CTNNB1</text>
<path d="M656.89 241.3v2.4" stroke="#333" stroke-width="0.8"/>
<path d="M653.64 211V215.3M653.64 219.5V225.2" stroke="#72eecb" stroke-width="0.8"/>
<rect x="650.34" y="215.3" width="6.6" height="4.2" fill="#fff" stroke="#72eecb" stroke-width="0.85"/>
<path d="M650.34 217.2h6.6" stroke="#72eecb" stroke-width="1.5"/>
<path d="M653.64 205.2h0M653.64 227.1h0" stroke="#72eecb" stroke-width="2.8" stroke-linecap="round" fill="none"/>
<path d="M660.14 181.5V202M660.14 216.6V230.9" stroke="#f8452f" stroke-width="0.8"/>
<rect x="656.84" y="202" width="6.6" height="14.6" fill="#fff" stroke="#f8452f" stroke-width="0.85"/>
<path d="M656.84 208.7h6.6" stroke="#f8452f" stroke-width="1.5"/>
<text x="656.89" y="88" font-size="7.8" text-anchor="middle" fill="#1a1a1a">***</text>
<text x="0" y="0" font-size="8.3" text-anchor="end" fill="#333" transform="translate(662.29 247.4) rotate(-60)">ZNF304</text>
<rect x="455" y="53" width="110" height="19" fill="#fefcfd"/>
<text x="461.4" y="65.2" font-size="7.6" fill="#222">Type</text>
<path d="M488.6 57.6v2M488.6 65.6v1.9" stroke="#72eecb" stroke-width="0.8"/>
<rect x="483.4" y="59.6" width="10.4" height="6" fill="#fff" stroke="#72eecb" stroke-width="0.85"/>
<path d="M483.4 62.6h10.4" stroke="#72eecb" stroke-width="1.3"/>
<text x="498.7" y="65" font-size="6.8" fill="#222">Normal</text>
<path d="M531.4 57.6v2M531.4 65.6v1.9" stroke="#f8452f" stroke-width="0.8"/>
<rect x="526.2" y="59.6" width="10.4" height="6" fill="#fff" stroke="#f8452f" stroke-width="0.85"/>
<path d="M526.2 62.6h10.4" stroke="#f8452f" stroke-width="1.3"/>
<text x="542" y="65" font-size="6.8" fill="#222">Tumor</text>
<path d="M122.09 374.1A89.7 89.7 0 0 1 122.38 373.93C151.98 426.81 160.75 480.78 149.39 540.31A89.7 89.7 0 0 1 149.07 540.25C160.64 480.77 151.89 426.86 122.09 374.1Z" fill="#fad5e3" fill-opacity="0.58"/>
<path d="M113.28 379.77A89.7 89.7 0 0 1 113.66 379.49C146.46 424.88 199 444.41 253.47 431.47A89.7 89.7 0 0 1 253.58 431.93C199.04 444.58 146.31 424.98 113.28 379.77Z" fill="#fad3e1" fill-opacity="0.58"/>
<path d="M110.94 381.54A89.7 89.7 0 0 1 111.32 381.25C148.92 429.86 168.07 480.38 172.15 541.7A89.7 89.7 0 0 1 171.68 541.73C167.93 480.39 148.8 429.96 110.94 381.54Z" fill="#fad3e1" fill-opacity="0.58"/>
<path d="M176.03 363.04A89.7 89.7 0 0 1 176.51 363.09C172.45 398.19 196.78 407.25 216.66 378.04A89.7 89.7 0 0 1 217.04 378.3C197.02 407.41 172.16 398.16 176.03 363.04Z" fill="#fad3e1" fill-opacity="0.58"/>
<path d="M170.34 362.6A89.7 89.7 0 0 1 170.83 362.62C167.5 427.1 165.54 477.33 163.85 541.87A89.7 89.7 0 0 1 163.4 541.86C165.41 477.32 167.36 427.09 170.34 362.6Z" fill="#cff6bf" fill-opacity="0.58"/>
<path d="M183.84 364.25A89.7 89.7 0 0 1 184.29 364.34C172.91 419.59 193.04 471.91 238.5 505.29A89.7 89.7 0 0 1 238.21 505.69C192.93 472.06 172.75 419.55 183.84 364.25Z" fill="#cff6bf" fill-opacity="0.58"/>
<path d="M215.2 377.07A89.7 89.7 0 0 1 215.6 377.33C181.93 428.35 167.95 480.72 171.68 541.73A89.7 89.7 0 0 1 171.21 541.76C167.79 480.73 181.81 428.27 215.2 377.07Z" fill="#fad3e1" fill-opacity="0.58"/>
<path d="M225.6 384.99A89.7 89.7 0 0 1 225.95 385.3C184.68 431.51 160.9 479.43 149.07 540.25A89.7 89.7 0 0 1 148.62 540.16C160.76 479.4 184.57 431.42 225.6 384.99Z" fill="#fad3e1" fill-opacity="0.58"/>
<path d="M254.76 437.93A89.7 89.7 0 0 1 254.83 438.4C205.32 446.11 175.98 490.57 188.36 539.12A89.7 89.7 0 0 1 187.9 539.24C175.78 490.62 205.29 445.9 254.76 437.93Z" fill="#fad3e1" fill-opacity="0.58"/>
<path d="M255.9 453.07A89.7 89.7 0 0 1 255.89 453.53C200.02 452.7 153.12 483.39 131.51 534.92A89.7 89.7 0 0 1 131.04 534.72C152.94 483.32 200.02 452.53 255.9 453.07Z" fill="#cff6bf" fill-opacity="0.58"/>
<path d="M223.31 521.37A89.7 89.7 0 0 1 222.94 521.67C194.05 486.3 146.39 491.52 125.84 532.31A89.7 89.7 0 0 1 125.39 532.08C146.17 491.41 194.24 486.15 223.31 521.37Z" fill="#fad3e1" fill-opacity="0.58"/>
<path d="M161 541.75A89.7 89.7 0 0 1 160.55 541.72C162.7 507.67 140.91 501.7 125.39 532.08A89.7 89.7 0 0 1 124.94 531.85C140.64 501.55 162.98 507.69 161 541.75Z" fill="#fad3e1" fill-opacity="0.58"/>
<path d="M104.77 386.84A89.7 89.7 0 0 1 105.22 386.42C142.04 426.14 146.74 481.94 117.08 527.26A89.7 89.7 0 0 1 116.56 526.91C146.53 481.8 141.86 426.3 104.77 386.84Z" fill="#fad0df" fill-opacity="0.58"/>
<path d="M213.06 528.69A89.7 89.7 0 0 1 212.52 529.01C192.7 496.15 159.76 503.12 154.95 541.19A89.7 89.7 0 0 1 154.37 541.12C159.43 503.07 193.01 495.96 213.06 528.69Z" fill="#fad0df" fill-opacity="0.58"/>
<path d="M76.5 452.04A89.7 89.7 0 0 1 76.51 451.13C114.66 451.58 125.58 420.47 95.51 396.99A89.7 89.7 0 0 1 96.06 396.28C125.9 420.07 114.65 452.11 76.5 452.04Z" fill="#c8f5b6" fill-opacity="0.58"/>
<path d="M81.02 424.08A89.7 89.7 0 0 1 81.31 423.21C132.49 440.69 163.01 487.68 158.16 541.54A89.7 89.7 0 0 1 157.33 541.46C162.68 487.65 132.37 441.03 81.02 424.08Z" fill="#f9cbdc" fill-opacity="0.58"/>
<path d="M197.35 368.08A89.7 89.7 0 0 1 198.14 368.38C177.19 423.36 182.14 478.63 212.52 529.01A89.7 89.7 0 0 1 211.75 529.47C181.87 478.79 176.92 423.26 197.35 368.08Z" fill="#f9cbdc" fill-opacity="0.58"/>
<path d="M224.95 384.41A89.7 89.7 0 0 1 225.6 384.99C188.61 426.84 181.55 482.36 206.89 532.14A89.7 89.7 0 0 1 206.08 532.55C181.25 482.51 188.36 426.63 224.95 384.41Z" fill="#f9cbdc" fill-opacity="0.58"/>
<path d="M112.35 380.46A89.7 89.7 0 0 1 113.28 379.77C136.53 411.6 171.05 402.15 174.85 362.92A89.7 89.7 0 0 1 176.03 363.04C171.71 402.22 136.01 411.98 112.35 380.46Z" fill="#c4f4b0" fill-opacity="0.58"/>
<path d="M83.91 416.5A89.7 89.7 0 0 1 84.45 415.27C118 430.43 137.07 408.05 116.8 377.33A89.7 89.7 0 0 1 117.89 376.62C137.71 407.64 117.68 431.15 83.91 416.5Z" fill="#f9c4d6" fill-opacity="0.58"/>
<path d="M106.6 385.16A89.7 89.7 0 0 1 107.59 384.3C138.65 420.29 188.73 416.56 214.13 376.38A89.7 89.7 0 0 1 215.2 377.07C189.23 416.89 138.19 420.69 106.6 385.16Z" fill="#c2f4ac" fill-opacity="0.58"/>
<path d="M111.32 381.25A89.7 89.7 0 0 1 112.35 380.46C150.61 431.43 186.69 468.15 236.98 507.3A89.7 89.7 0 0 1 236.16 508.35C186.45 468.45 150.31 431.66 111.32 381.25Z" fill="#f9c4d6" fill-opacity="0.58"/>
<path d="M113.66 379.49A89.7 89.7 0 0 1 114.72 378.74C147.01 424.82 149.56 481.19 121.54 529.99A89.7 89.7 0 0 1 120.37 529.31C149.12 480.94 146.62 425.1 113.66 379.49Z" fill="#c2f4ac" fill-opacity="0.58"/>
<path d="M117.89 376.62A89.7 89.7 0 0 1 118.98 375.93C142.34 413.66 120.97 455.16 76.69 458.07A89.7 89.7 0 0 1 76.62 456.78C120.93 454.51 141.79 414.01 117.89 376.62Z" fill="#c2f4ac" fill-opacity="0.58"/>
<path d="M215.6 377.33A89.7 89.7 0 0 1 216.66 378.04C187.16 421.39 195.26 475.53 236.16 508.35A89.7 89.7 0 0 1 235.32 509.38C194.91 475.95 186.72 421.09 215.6 377.33Z" fill="#c2f4ac" fill-opacity="0.58"/>
<path d="M218.53 379.34A89.7 89.7 0 0 1 219.56 380.09C181.24 431.87 153.28 473.94 120.37 529.31A89.7 89.7 0 0 1 119.2 528.6C152.95 473.74 180.95 431.66 218.53 379.34Z" fill="#c2f4ac" fill-opacity="0.58"/>
<path d="M227.78 386.98A89.7 89.7 0 0 1 228.7 387.86C184.34 433.53 144.01 465.82 89.76 499.13A89.7 89.7 0 0 1 89.07 498C143.82 465.49 184.07 433.27 227.78 386.98Z" fill="#f9c4d6" fill-opacity="0.58"/>
<path d="M242.93 405.74A89.7 89.7 0 0 1 243.59 406.84C190.89 437.73 155.54 478.75 132.77 535.44A89.7 89.7 0 0 1 131.51 534.92C155.13 478.59 190.68 437.38 242.93 405.74Z" fill="#c2f4ac" fill-opacity="0.58"/>
<path d="M99.96 391.71A89.7 89.7 0 0 1 101.05 390.55C147.94 434.92 185.11 468.76 233.69 511.28A89.7 89.7 0 0 1 232.63 512.47C184.82 469.09 147.64 435.25 99.96 391.71Z" fill="#bdf3a6" fill-opacity="0.58"/>
<path d="M101.05 390.55A89.7 89.7 0 0 1 102.15 389.4C144.91 431.33 167.03 482.01 168.7 541.87A89.7 89.7 0 0 1 167.22 541.89C166.54 482.02 144.54 431.71 101.05 390.55Z" fill="#bdf3a6" fill-opacity="0.58"/>
<path d="M182.38 363.97A89.7 89.7 0 0 1 183.84 364.25C171.39 426.32 170.13 478.31 179.55 540.9A89.7 89.7 0 0 1 178.01 541.12C169.67 478.37 170.96 426.23 182.38 363.97Z" fill="#f8bfd3" fill-opacity="0.58"/>
<path d="M240.36 502.66A89.7 89.7 0 0 1 239.44 503.99C214.93 486.65 208.91 493.88 230.4 514.85A89.7 89.7 0 0 1 229.28 515.98C208.16 494.63 215.54 485.77 240.36 502.66Z" fill="#bdf3a6" fill-opacity="0.58"/>
<path d="M239.44 503.99A89.7 89.7 0 0 1 238.5 505.29C203.96 479.93 165.75 499.05 165.34 541.9A89.7 89.7 0 0 1 163.85 541.87C164.97 499.04 204.46 479.25 239.44 503.99Z" fill="#bdf3a6" fill-opacity="0.58"/>
<path d="M186.12 539.66A89.7 89.7 0 0 1 184.6 539.99C174.68 492.63 128.87 469.88 85.13 490.59A89.7 89.7 0 0 1 84.47 489.17C128.57 469.22 175.37 492.47 186.12 539.66Z" fill="#bdf3a6" fill-opacity="0.58"/>
<path d="M76.51 451.13A89.7 89.7 0 0 1 76.55 449.22C130.91 451.03 174.74 486.46 187.9 539.24A89.7 89.7 0 0 1 186.12 539.66C174.04 486.63 130.9 451.78 76.51 451.13Z" fill="#b9f3a0" fill-opacity="0.58"/>
<path d="M105.22 386.42A89.7 89.7 0 0 1 106.6 385.16C125.23 406.12 127.23 404.42 109.51 382.69A89.7 89.7 0 0 1 110.94 381.54C128.22 403.63 124.28 406.98 105.22 386.42Z" fill="#f8bacf" fill-opacity="0.58"/>
<path d="M91.2 402.99A89.7 89.7 0 0 1 92.24 401.44C137.14 432.26 192.52 428.75 233.17 392.53A89.7 89.7 0 0 1 234.37 393.9C192.99 429.29 136.73 432.87 91.2 402.99Z" fill="#f8bacf" fill-opacity="0.58"/>
<path d="M94.37 398.47A89.7 89.7 0 0 1 95.51 396.99C142.43 433.63 195.88 446.81 254.45 436.16A89.7 89.7 0 0 1 254.76 437.93C195.98 447.4 142.05 434.13 94.37 398.47Z" fill="#b9f3a0" fill-opacity="0.58"/>
<path d="M186.12 364.74A89.7 89.7 0 0 1 187.82 365.15C177.17 408.02 209.78 439.03 252.07 426.26A89.7 89.7 0 0 1 252.58 428.01C210.04 439.92 176.31 407.81 186.12 364.74Z" fill="#b9f3a0" fill-opacity="0.58"/>
<path d="M187.82 365.15A89.7 89.7 0 0 1 189.52 365.58C172.93 427.2 154.29 475.19 124.94 531.85A89.7 89.7 0 0 1 123.23 530.94C153.8 474.93 172.44 427.07 187.82 365.15Z" fill="#b9f3a0" fill-opacity="0.58"/>
<path d="M217.04 378.3A89.7 89.7 0 0 1 218.53 379.34C195.54 411.35 215.19 440.83 253.58 431.93A89.7 89.7 0 0 1 253.97 433.7C215.41 441.83 194.71 410.77 217.04 378.3Z" fill="#b9f3a0" fill-opacity="0.58"/>
<path d="M247 491.15A89.7 89.7 0 0 1 246.16 492.85C201.98 470.39 153.65 490.32 138.16 537.4A89.7 89.7 0 0 1 136.33 536.78C152.83 490.04 202.35 469.63 247 491.15Z" fill="#b9f3a0" fill-opacity="0.58"/>
<path d="M211.75 529.47A89.7 89.7 0 0 1 210.13 530.41C186.23 487.87 135.49 479.22 98.86 511.45A89.7 89.7 0 0 1 97.63 510.03C134.93 478.57 186.97 487.44 211.75 529.47Z" fill="#b9f3a0" fill-opacity="0.58"/>
<path d="M123.23 530.94A89.7 89.7 0 0 1 121.54 529.99C137.05 502.98 126.71 495.42 105.69 518.42A89.7 89.7 0 0 1 104.32 517.13C125.81 494.58 138.16 503.59 123.23 530.94Z" fill="#b9f3a0" fill-opacity="0.58"/>
<path d="M170.83 362.62A89.7 89.7 0 0 1 172.84 362.75C170.65 392.25 178.32 393.32 184.29 364.34A89.7 89.7 0 0 1 186.12 364.74C179.55 393.59 169.3 392.17 170.83 362.62Z" fill="#b6f29d" fill-opacity="0.58"/>
<path d="M172.84 362.75A89.7 89.7 0 0 1 174.85 362.92C168.93 424.05 148.49 474.25 110.03 522.14A89.7 89.7 0 0 1 108.47 520.85C148 473.85 168.29 424 172.84 362.75Z" fill="#b6f29d" fill-opacity="0.58"/>
<path d="M238.21 505.69A89.7 89.7 0 0 1 236.98 507.3C196.38 475.69 142.93 482.55 111.62 523.39A89.7 89.7 0 0 1 110.03 522.14C142.25 482.02 196.9 475 238.21 505.69Z" fill="#b6f29d" fill-opacity="0.58"/>
<path d="M181.48 540.59A89.7 89.7 0 0 1 179.55 540.9C175.12 511.49 166.88 512.16 167.22 541.89A89.7 89.7 0 0 1 165.34 541.9C165.62 512.16 176.42 511.28 181.48 540.59Z" fill="#b6f29d" fill-opacity="0.58"/>
<path d="M164.5 362.52A89.7 89.7 0 0 1 166.66 362.5C166.37 418.06 134.46 464.78 82.81 485.24A89.7 89.7 0 0 1 82.06 483.28C134.17 464.03 165.55 418.06 164.5 362.52Z" fill="#b4f29a" fill-opacity="0.58"/>
<path d="M189.52 365.58A89.7 89.7 0 0 1 191.45 366.13C177.45 413.84 205.76 457.94 254.97 465.08A89.7 89.7 0 0 1 254.65 467.12C205.61 458.85 176.59 413.6 189.52 365.58Z" fill="#f8b5cc" fill-opacity="0.58"/>
<path d="M198.14 368.38A89.7 89.7 0 0 1 200 369.11C175.95 428.24 162.79 477.84 154.37 541.12A89.7 89.7 0 0 1 152.38 540.83C162.22 477.76 175.41 428.02 198.14 368.38Z" fill="#b4f29a" fill-opacity="0.58"/>
<path d="M84.45 415.27A89.7 89.7 0 0 1 85.44 413.16C134.23 436.75 188.1 424.25 221.53 381.6A89.7 89.7 0 0 1 223.26 382.99C188.78 424.8 133.84 437.58 84.45 415.27Z" fill="#f7b2ca" fill-opacity="0.58"/>
<path d="M223.26 382.99A89.7 89.7 0 0 1 224.95 384.41C186 429.35 136 453.74 76.62 456.78A89.7 89.7 0 0 1 76.53 454.55C135.97 452.99 185.43 428.87 223.26 382.99Z" fill="#f7b2ca" fill-opacity="0.58"/>
<path d="M100.4 513.16A89.7 89.7 0 0 1 98.86 511.45C127.45 486.3 114.79 456.86 76.87 460.29A89.7 89.7 0 0 1 76.69 458.07C114.69 455.58 128.33 487.28 100.4 513.16Z" fill="#f7b2ca" fill-opacity="0.58"/>
<path d="M77.74 437.36A89.7 89.7 0 0 1 78.21 434.79C125.43 444.13 149.91 490.43 131.04 534.72A89.7 89.7 0 0 1 128.62 533.65C148.79 489.93 125.21 445.32 77.74 437.36Z" fill="#f7adc6" fill-opacity="0.58"/>
<path d="M89.83 405.15A89.7 89.7 0 0 1 91.2 402.99C123.47 424.17 149.65 403.85 137.14 367.34A89.7 89.7 0 0 1 139.59 366.54C151.04 403.4 122.69 425.39 89.83 405.15Z" fill="#f7adc6" fill-opacity="0.58"/>
<path d="M114.72 378.74A89.7 89.7 0 0 1 116.8 377.33C149.87 427.46 195.28 457.93 254.21 469.55A89.7 89.7 0 0 1 253.7 471.96C195.12 458.73 149.19 427.92 114.72 378.74Z" fill="#f7adc6" fill-opacity="0.58"/>
<path d="M142.06 365.81A89.7 89.7 0 0 1 144.55 365.15C158.63 421.79 195.61 463.02 250.39 483.16A89.7 89.7 0 0 1 249.46 485.58C195.29 463.86 157.77 422.02 142.06 365.81Z" fill="#f7adc6" fill-opacity="0.58"/>
<path d="M139.59 366.54A89.7 89.7 0 0 1 142.06 365.81C159.42 427.93 174.91 475.84 197.2 536.37A89.7 89.7 0 0 1 194.84 537.2C174.25 476.08 158.73 428.14 139.59 366.54Z" fill="#f7adc6" fill-opacity="0.58"/>
<path d="M209.92 373.88A89.7 89.7 0 0 1 212 375.07C196.27 401.56 205.43 408.28 225.95 385.3A89.7 89.7 0 0 1 227.78 386.98C206.63 409.38 194.91 400.77 209.92 373.88Z" fill="#f7adc6" fill-opacity="0.58"/>
<path d="M195.09 367.28A89.7 89.7 0 0 1 197.35 368.08C177.73 421.07 133.24 456.12 77.13 462.79A89.7 89.7 0 0 1 76.87 460.29C133.14 455.2 176.89 420.78 195.09 367.28Z" fill="#adf190" fill-opacity="0.58"/>
<path d="M219.56 380.09A89.7 89.7 0 0 1 221.53 381.6C193.37 417.53 209.17 461.9 253.7 471.96A89.7 89.7 0 0 1 253.12 474.36C208.88 463.08 192.4 416.79 219.56 380.09Z" fill="#f7adc6" fill-opacity="0.58"/>
<path d="M234.37 393.9A89.7 89.7 0 0 1 235.97 395.82C192.55 430.9 177.02 484.31 194.84 537.2A89.7 89.7 0 0 1 192.46 537.97C176.12 484.6 191.95 430.18 234.37 393.9Z" fill="#f7adc6" fill-opacity="0.58"/>
<path d="M251.31 423.88A89.7 89.7 0 0 1 252.07 426.26C198.96 442.3 165.13 486.4 163.4 541.86A89.7 89.7 0 0 1 161 541.75C164.22 486.36 198.67 441.4 251.31 423.88Z" fill="#f7adc6" fill-opacity="0.58"/>
<path d="M255.29 462.64A89.7 89.7 0 0 1 254.97 465.08C204.92 457.82 163.74 491.25 160.55 541.72A89.7 89.7 0 0 1 158.16 541.54C162.69 491.17 205.06 456.75 255.29 462.64Z" fill="#adf190" fill-opacity="0.58"/>
<path d="M254.65 467.12A89.7 89.7 0 0 1 254.21 469.55C197.24 458.32 144.37 475.1 104.32 517.13A89.7 89.7 0 0 1 102.47 515.33C143.72 474.47 197.4 457.46 254.65 467.12Z" fill="#f7adc6" fill-opacity="0.58"/>
<path d="M157.33 541.46A89.7 89.7 0 0 1 154.95 541.19C160.97 493.54 124.98 458.27 77.46 465.27A89.7 89.7 0 0 1 77.13 462.79C124.82 457.12 162.08 493.66 157.33 541.46Z" fill="#f7adc6" fill-opacity="0.58"/>
<path d="M82.75 419.3A89.7 89.7 0 0 1 83.91 416.5C125.8 434.67 134.91 483.19 102.47 515.33A89.7 89.7 0 0 1 100.4 513.16C133.89 482.13 125.23 436.05 82.75 419.3Z" fill="#f6a6c1" fill-opacity="0.58"/>
<path d="M88.31 407.7A89.7 89.7 0 0 1 89.83 405.15C144.13 438.61 191.13 459.3 252.47 476.77A89.7 89.7 0 0 1 251.6 479.65C190.87 460.13 143.7 439.34 88.31 407.7Z" fill="#f6a6c1" fill-opacity="0.58"/>
<path d="M255.58 459.79A89.7 89.7 0 0 1 255.29 462.64C215.19 457.94 197.4 490.41 222.94 521.67A89.7 89.7 0 0 1 220.6 523.52C196.12 491.42 215.35 456.37 255.58 459.79Z" fill="#f6a6c1" fill-opacity="0.58"/>
<path d="M128.62 533.65A89.7 89.7 0 0 1 125.84 532.31C144.24 495.79 119.6 466.71 80.55 478.86A89.7 89.7 0 0 1 79.73 476.07C119.15 465.19 145.75 496.52 128.62 533.65Z" fill="#f6a6c1" fill-opacity="0.58"/>
<path d="M78.21 434.79A89.7 89.7 0 0 1 78.91 431.55C141.25 446.3 191.84 452.58 255.89 453.53A89.7 89.7 0 0 1 255.79 456.66C191.81 453.48 141.05 447.22 78.21 434.79Z" fill="#f6a1bd" fill-opacity="0.58"/>
<path d="M76.55 449.22A89.7 89.7 0 0 1 76.72 445.91C138.91 450.28 190.05 465.59 244.41 496.12A89.7 89.7 0 0 1 242.75 498.96C189.54 466.46 138.86 451.29 76.55 449.22Z" fill="#a2f080" fill-opacity="0.58"/>
<path d="M78.91 431.55A89.7 89.7 0 0 1 79.73 428.33C113.46 437.64 112.98 464.88 78.94 472.98A89.7 89.7 0 0 1 78.26 469.87C112.56 462.98 112.96 439.6 78.91 431.55Z" fill="#f6a1bd" fill-opacity="0.58"/>
<path d="M255.79 456.66A89.7 89.7 0 0 1 255.58 459.79C192.44 454.43 140.82 459.21 79.73 476.07A89.7 89.7 0 0 1 78.94 472.98C140.58 458.3 192.5 453.51 255.79 456.66Z" fill="#f6a1bd" fill-opacity="0.58"/>
<path d="M232.63 512.47A89.7 89.7 0 0 1 230.4 514.85C203.49 488.58 176.89 503.19 184.6 539.99A89.7 89.7 0 0 1 181.48 540.59C175.08 503.54 204.78 487.21 232.63 512.47Z" fill="#f6a1bd" fill-opacity="0.58"/>
<path d="M152.38 540.83A89.7 89.7 0 0 1 149.39 540.31C156.7 501.96 127.47 484.86 97.63 510.03A89.7 89.7 0 0 1 95.56 507.49C126.3 483.42 158.4 502.26 152.38 540.83Z" fill="#f6a1bd" fill-opacity="0.58"/>
<path d="M77.19 441.06A89.7 89.7 0 0 1 77.74 437.36C138.44 447.54 191.42 439.7 246.57 412.36A89.7 89.7 0 0 1 248.09 415.59C191.9 440.71 138.27 448.7 77.19 441.06Z" fill="#9cef77" fill-opacity="0.58"/>
<path d="M102.15 389.4A89.7 89.7 0 0 1 104.77 386.84C133.83 417.76 172.94 405.42 178.99 363.42A89.7 89.7 0 0 1 182.38 363.97C174.73 405.71 132.45 419.11 102.15 389.4Z" fill="#f59ab8" fill-opacity="0.58"/>
<path d="M86.56 410.92A89.7 89.7 0 0 1 88.31 407.7C141.25 437.94 178.25 478.29 203.82 533.63A89.7 89.7 0 0 1 200.54 535.07C177.2 478.75 140.69 438.97 86.56 410.92Z" fill="#f59ab8" fill-opacity="0.58"/>
<path d="M92.24 401.44A89.7 89.7 0 0 1 94.37 398.47C139.01 431.86 158.62 485.3 146.17 539.64A89.7 89.7 0 0 1 142.49 538.71C157.22 484.95 138.2 432.99 92.24 401.44Z" fill="#9cef77" fill-opacity="0.58"/>
<path d="M118.98 375.93A89.7 89.7 0 0 1 122.09 374.1C153.82 430.28 178.53 474.15 210.13 530.41A89.7 89.7 0 0 1 206.89 532.14C177.62 474.64 152.95 430.79 118.98 375.93Z" fill="#9cef77" fill-opacity="0.58"/>
<path d="M166.66 362.5A89.7 89.7 0 0 1 170.34 362.6C167.58 422.41 187.17 473.4 229.28 515.98A89.7 89.7 0 0 1 226.61 518.51C186.28 474.24 166.35 422.38 166.66 362.5Z" fill="#9cef77" fill-opacity="0.58"/>
<path d="M150.87 363.82A89.7 89.7 0 0 1 154.52 363.26C162.61 424.84 157.01 478.22 136.33 536.78A89.7 89.7 0 0 1 132.77 535.44C155.92 477.81 161.49 425.01 150.87 363.82Z" fill="#9cef77" fill-opacity="0.58"/>
<path d="M252.58 428.01A89.7 89.7 0 0 1 253.47 431.47C193.68 445.67 148.02 473.82 108.47 520.85A89.7 89.7 0 0 1 105.69 518.42C147.15 473.05 193.4 444.58 252.58 428.01Z" fill="#9cef77" fill-opacity="0.58"/>
<path d="M254.83 438.4A89.7 89.7 0 0 1 255.31 441.89C217.97 446.21 212.66 475.81 246.16 492.85A89.7 89.7 0 0 1 244.41 496.12C211.64 477.72 217.69 444.18 254.83 438.4Z" fill="#9cef77" fill-opacity="0.58"/>
<path d="M251.6 479.65A89.7 89.7 0 0 1 250.39 483.16C211.57 468.89 184.71 496.86 200.54 535.07A89.7 89.7 0 0 1 197.2 536.37C182.91 497.56 212.22 467 251.6 479.65Z" fill="#f59ab8" fill-opacity="0.58"/>
<path d="M81.31 423.21A89.7 89.7 0 0 1 82.75 419.3C129.9 437.89 177.18 414.76 191.45 366.13A89.7 89.7 0 0 1 195.09 367.28C178.77 415.26 129.27 439.59 81.31 423.21Z" fill="#f592b3" fill-opacity="0.58"/>
<path d="M131.06 369.67A89.7 89.7 0 0 1 134.79 368.18C150.86 411.17 196.72 420.78 228.7 387.86A89.7 89.7 0 0 1 231.48 390.68C198.08 422.16 149.04 411.9 131.06 369.67Z" fill="#f592b3" fill-opacity="0.58"/>
<path d="M127.4 371.33A89.7 89.7 0 0 1 131.06 369.67C151.86 418.53 135.93 472.75 91.99 502.59A89.7 89.7 0 0 1 89.76 499.13C135.02 471.34 150.37 419.21 127.4 371.33Z" fill="#f592b3" fill-opacity="0.58"/>
<path d="M79.73 428.33A89.7 89.7 0 0 1 81.02 424.08C138.99 443.22 183.58 474.99 220.6 523.52A89.7 89.7 0 0 1 217.07 526.08C182.45 475.8 138.58 444.58 79.73 428.33Z" fill="#f48daf" fill-opacity="0.58"/>
<path d="M249.88 419.89A89.7 89.7 0 0 1 251.31 423.88C207.39 438.5 195.43 484.28 226.61 518.51A89.7 89.7 0 0 1 223.31 521.37C193.84 485.67 206.69 436.56 249.88 419.89Z" fill="#90ed67" fill-opacity="0.58"/>
<path d="M242.75 498.96A89.7 89.7 0 0 1 240.36 502.66C192.34 469.99 137.39 465.23 84.47 489.17A89.7 89.7 0 0 1 82.81 485.24C136.8 463.85 193.18 468.68 242.75 498.96Z" fill="#90ed67" fill-opacity="0.58"/>
<path d="M192.46 537.97A89.7 89.7 0 0 1 188.36 539.12C179.31 503.64 152.17 503.39 142.49 538.71A89.7 89.7 0 0 1 138.16 537.4C149.61 502.62 181.74 502.95 192.46 537.97Z" fill="#90ed67" fill-opacity="0.58"/>
<path d="M76.72 445.91A89.7 89.7 0 0 1 77.19 441.06C126.22 447.2 163.28 412.01 159.71 362.74A89.7 89.7 0 0 1 164.5 362.52C165.44 411.91 126 449.37 76.72 445.91Z" fill="#8aec5e" fill-opacity="0.58"/>
<path d="M248.09 415.59A89.7 89.7 0 0 1 249.88 419.89C189.74 443.11 142.53 460.94 82.06 483.28A89.7 89.7 0 0 1 80.55 478.86C142.11 459.7 189.24 441.9 248.09 415.59Z" fill="#8aec5e" fill-opacity="0.58"/>
<path d="M217.07 526.08A89.7 89.7 0 0 1 213.06 528.69C183.77 480.89 133.22 458.83 78.26 469.87A89.7 89.7 0 0 1 77.46 465.27C132.92 457.1 185.28 479.91 217.07 526.08Z" fill="#f386aa" fill-opacity="0.58"/>
<path d="M154.52 363.26A89.7 89.7 0 0 1 159.71 362.74C163.43 414.05 204.2 447.8 255.31 441.89A89.7 89.7 0 0 1 255.74 446.87C204.39 449.93 161.22 414.27 154.52 363.26Z" fill="#83eb54" fill-opacity="0.58"/>
<path d="M122.38 373.93A89.7 89.7 0 0 1 127.4 371.33C145.89 409.87 186.59 409.91 205.15 371.4A89.7 89.7 0 0 1 209.92 373.88C189.08 411.21 143.27 411.24 122.38 373.93Z" fill="#f2749d" fill-opacity="0.58"/>
<path d="M96.06 396.28A89.7 89.7 0 0 1 99.96 391.71C133.95 422.74 128.03 473.44 87.82 495.82A89.7 89.7 0 0 1 85.13 490.59C126.72 470.89 132.05 424.97 96.06 396.28Z" fill="#76ea42" fill-opacity="0.58"/>
<path d="M200 369.11A89.7 89.7 0 0 1 205.15 371.4C178.22 427.27 144.41 469.26 95.56 507.49A89.7 89.7 0 0 1 91.99 502.59C143.31 467.74 176.63 426.57 200 369.11Z" fill="#f2709a" fill-opacity="0.58"/>
<path d="M235.97 395.82A89.7 89.7 0 0 1 239.5 400.5C203.3 426.03 208.34 469.1 249.46 485.58A89.7 89.7 0 0 1 247 491.15C207.1 471.92 201.51 423.66 235.97 395.82Z" fill="#f2709a" fill-opacity="0.58"/>
<path d="M178.01 541.12A89.7 89.7 0 0 1 172.15 541.7C169.56 502.71 138.19 494.36 116.56 526.91A89.7 89.7 0 0 1 111.62 523.39C135.4 492.37 172.86 502.38 178.01 541.12Z" fill="#76ea42" fill-opacity="0.58"/>
<path d="M144.55 365.15A89.7 89.7 0 0 1 150.87 363.82C158.78 409.41 201.69 427.17 239.5 400.5A89.7 89.7 0 0 1 242.93 405.74C203.35 429.71 155.72 410.05 144.55 365.15Z" fill="#f2709a" fill-opacity="0.58"/>
<path d="M243.59 406.84A89.7 89.7 0 0 1 246.57 412.36C215.17 427.92 220.76 448.95 255.74 446.87A89.7 89.7 0 0 1 255.9 453.07C220.85 452.73 213.35 424.56 243.59 406.84Z" fill="#76ea42" fill-opacity="0.58"/>
<path d="M70.5 452.03A95.7 95.7 0 0 1 80.04 410.55L82.92 411.94A92.5 92.5 0 0 0 73.7 452.04Z" fill="#ee1c20"/>
<path d="M70.5 452.03L68.7 452.03M70.53 449.86L69.63 449.84M70.61 447.69L69.71 447.65M70.73 445.52L69.84 445.46M70.91 443.36L70.01 443.28M71.13 441.2L69.35 440.99M71.41 439.05L70.52 438.92M71.73 436.9L70.84 436.76M72.1 434.76L71.22 434.6M72.52 432.63L71.64 432.45M72.99 430.51L71.24 430.1M73.51 428.4L72.63 428.18M74.07 426.3L73.2 426.06M74.68 424.22L73.82 423.96M75.34 422.15L74.49 421.87M76.05 420.1L74.35 419.49M76.8 418.06L75.96 417.74M77.59 416.04L76.76 415.7M78.44 414.04L77.61 413.68M79.33 412.06L78.51 411.68" stroke="#333" stroke-width="0.35" fill="none"/>
<path d="M70.35 452.03A95.7 95.7 0 0 1 79.9 410.48" stroke="#333" stroke-width="0.45" fill="none"/>
<text x="66.9" y="452.93" font-size="2.6" fill="#444" text-anchor="middle" transform="rotate(-89.9 66.9 452.03)">0</text>
<text x="69.48" y="430.59" font-size="2.6" fill="#444" text-anchor="middle" transform="rotate(-76.9 69.48 429.69)">1</text>
<text x="65.82" y="431.12" font-size="5.8" fill="#222" text-anchor="middle" transform="rotate(-77.05 65.82 429.12)">PTK2</text>
<path d="M81.24 408.16A95.7 95.7 0 0 1 103.67 379.76L105.76 382.18A92.5 92.5 0 0 0 84.08 409.63Z" fill="#f4561c"/>
<path d="M81.24 408.16L79.64 407.33M82.26 406.24L81.47 405.81M83.32 404.35L82.54 403.9M84.43 402.48L83.66 402.01M85.58 400.64L84.82 400.15M86.77 398.82L85.27 397.82M88 397.04L87.26 396.52M89.27 395.28L88.55 394.74M90.58 393.54L89.87 392.99M91.93 391.84L91.23 391.28M93.32 390.17L91.95 389.01M94.75 388.54L94.07 387.94M96.21 386.93L95.55 386.32M97.71 385.36L97.06 384.73M99.24 383.82L98.61 383.18M100.81 382.32L99.58 381.01M102.41 380.86L101.81 380.19" stroke="#333" stroke-width="0.35" fill="none"/>
<path d="M81.1 408.09A95.7 95.7 0 0 1 103.57 379.64" stroke="#333" stroke-width="0.45" fill="none"/>
<text x="78.04" y="407.4" font-size="2.6" fill="#444" text-anchor="middle" transform="rotate(-62.6 78.04 406.5)">0</text>
<text x="90.58" y="388.74" font-size="2.6" fill="#444" text-anchor="middle" transform="rotate(-49.6 90.58 387.84)">1</text>
<text x="85.37" y="390.36" font-size="5.8" fill="#222" text-anchor="middle" transform="rotate(-51.7 85.37 388.36)">NTRK2</text>
<path d="M105.71 378.04A95.7 95.7 0 0 1 132.69 362.56L133.81 365.56A92.5 92.5 0 0 0 107.74 380.52Z" fill="#f4b030"/>
<path d="M105.71 378.04L104.58 376.64M107.41 376.68L106.86 375.97M109.14 375.37L108.6 374.65M110.9 374.1L110.38 373.36M112.69 372.86L112.18 372.11M114.5 371.67L113.53 370.15M116.34 370.52L115.87 369.75M118.21 369.41L117.75 368.63M120.1 368.34L119.66 367.55M122.01 367.31L121.6 366.51M123.95 366.33L123.15 364.72M125.91 365.4L125.53 364.58M127.89 364.5L127.53 363.68M129.89 363.66L129.54 362.82M131.9 362.86L131.58 362.02" stroke="#333" stroke-width="0.35" fill="none"/>
<path d="M105.62 377.92A95.7 95.7 0 0 1 132.63 362.42" stroke="#333" stroke-width="0.45" fill="none"/>
<text x="103.44" y="376.15" font-size="2.6" fill="#444" text-anchor="middle" transform="rotate(-39.2 103.44 375.25)">0</text>
<text x="122.36" y="364" font-size="2.6" fill="#444" text-anchor="middle" transform="rotate(-26.2 122.36 363.1)">1</text>
<text x="114.93" y="364.86" font-size="5.8" fill="#222" text-anchor="middle" transform="rotate(-29.85 114.93 362.86)">BCL2L11</text>
<path d="M135.2 361.66A95.7 95.7 0 0 1 177.2 357.13L176.83 360.31A92.5 92.5 0 0 0 136.24 364.69Z" fill="#c2ea3a"/>
<path d="M135.2 361.66L134.62 359.96M137.26 360.98L136.99 360.12M139.34 360.35L139.09 359.48M141.43 359.76L141.2 358.89M143.53 359.22L143.32 358.35M145.65 358.73L145.26 356.97M147.78 358.29L147.6 357.41M149.91 357.9L149.76 357.01M152.05 357.55L151.92 356.66M154.21 357.25L154.09 356.36M156.36 357.01L156.18 355.22M158.52 356.81L158.45 355.91M160.69 356.66L160.64 355.76M162.86 356.56L162.83 355.66M165.03 356.51L165.02 355.61M167.2 356.51L167.22 354.71M169.37 356.55L169.4 355.65M171.54 356.65L171.59 355.75M173.71 356.8L173.78 355.9M175.87 356.99L175.96 356.09" stroke="#333" stroke-width="0.35" fill="none"/>
<path d="M135.15 361.52A95.7 95.7 0 0 1 177.22 356.99" stroke="#333" stroke-width="0.45" fill="none"/>
<text x="134.04" y="359.15" font-size="2.6" fill="#444" text-anchor="middle" transform="rotate(-18.9 134.04 358.25)">0</text>
<text x="155.99" y="354.33" font-size="2.6" fill="#444" text-anchor="middle" transform="rotate(-5.9 155.99 353.43)">1</text>
<text x="155.17" y="351.79" font-size="5.8" fill="#222" text-anchor="middle" transform="rotate(-6.15 155.17 349.79)">AKT1</text>
<path d="M179.85 357.48A95.7 95.7 0 0 1 215.06 369.91L213.43 372.66A92.5 92.5 0 0 0 179.39 360.65Z" fill="#90ea2a"/>
<path d="M179.85 357.48L180.11 355.7M182 357.81L182.14 356.92M184.13 358.2L184.3 357.31M186.26 358.63L186.45 357.75M188.38 359.11L188.59 358.23M190.48 359.63L190.94 357.89M192.58 360.21L192.83 359.34M194.66 360.83L194.93 359.97M196.72 361.5L197.01 360.65M198.77 362.21L199.08 361.37M200.81 362.98L201.46 361.3M202.82 363.78L203.17 362.95M204.82 364.64L205.18 363.81M206.8 365.54L207.18 364.72M208.75 366.48L209.15 365.67M210.69 367.47L211.52 365.87M212.6 368.5L213.03 367.71M214.48 369.57L214.94 368.8" stroke="#333" stroke-width="0.35" fill="none"/>
<path d="M179.87 357.33A95.7 95.7 0 0 1 215.14 369.78" stroke="#333" stroke-width="0.45" fill="none"/>
<text x="180.36" y="354.82" font-size="2.6" fill="#444" text-anchor="middle" transform="rotate(8.2 180.36 353.92)">0</text>
<text x="202.11" y="360.52" font-size="2.6" fill="#444" text-anchor="middle" transform="rotate(21.2 202.11 359.62)">1</text>
<text x="200.5" y="357.08" font-size="5.8" fill="#222" text-anchor="middle" transform="rotate(19.45 200.5 355.08)">ITGB1</text>
<path d="M217.34 371.31A95.7 95.7 0 0 1 235.85 386.57L233.52 388.76A92.5 92.5 0 0 0 215.63 374.01Z" fill="#7aea24"/>
<path d="M217.34 371.31L218.3 369.79M219.16 372.49L219.66 371.74M220.95 373.71L221.47 372.97M222.72 374.97L223.25 374.25M224.46 376.28L225.01 375.56M226.17 377.62L227.29 376.21M227.84 379L228.42 378.31M229.49 380.41L230.08 379.74M231.1 381.87L231.71 381.21M232.68 383.36L233.3 382.71M234.22 384.89L235.5 383.62M235.73 386.45L236.39 385.83" stroke="#333" stroke-width="0.35" fill="none"/>
<path d="M217.42 371.18A95.7 95.7 0 0 1 235.96 386.46" stroke="#333" stroke-width="0.45" fill="none"/>
<text x="219.26" y="369.17" font-size="2.6" fill="#444" text-anchor="middle" transform="rotate(32.3 219.26 368.27)">0</text>
<text x="236.78" y="383.25" font-size="2.6" fill="#444" text-anchor="middle" transform="rotate(45.3 236.78 382.35)">1</text>
<text x="231.72" y="374.72" font-size="5.8" fill="#222" text-anchor="middle" transform="rotate(39.5 231.72 372.72)">CEACAM5</text>
<path d="M237.65 388.54A95.7 95.7 0 0 1 259.84 432.47L256.71 433.13A92.5 92.5 0 0 0 235.26 390.67Z" fill="#62ea26"/>
<path d="M237.65 388.54L239 387.34M239.08 390.17L239.76 389.59M240.47 391.84L241.17 391.28M241.82 393.54L242.53 392.99M243.13 395.28L243.85 394.74M244.4 397.04L245.87 396M245.63 398.82L246.38 398.32M246.82 400.64L247.58 400.15M247.97 402.48L248.74 402.01M249.08 404.35L249.86 403.9M250.14 406.24L251.72 405.38M251.16 408.16L251.96 407.74M252.14 410.1L252.95 409.7M253.07 412.06L253.89 411.68M253.96 414.04L254.79 413.68M254.81 416.04L256.47 415.36M255.6 418.06L256.44 417.74M256.35 420.1L257.2 419.8M257.06 422.15L257.91 421.87M257.72 424.22L258.58 423.96M258.33 426.3L260.06 425.82M258.89 428.4L259.77 428.18M259.41 430.51L260.29 430.31" stroke="#333" stroke-width="0.35" fill="none"/>
<path d="M237.77 388.44A95.7 95.7 0 0 1 259.99 432.44" stroke="#333" stroke-width="0.45" fill="none"/>
<text x="240.34" y="387.04" font-size="2.6" fill="#444" text-anchor="middle" transform="rotate(48.3 240.34 386.14)">0</text>
<text x="253.3" y="405.41" font-size="2.6" fill="#444" text-anchor="middle" transform="rotate(61.3 253.3 404.51)">1</text>
<text x="261.8" y="426.23" font-size="2.6" fill="#444" text-anchor="middle" transform="rotate(74.3 261.8 425.33)">2</text>
<text x="258.14" y="407.76" font-size="5.8" fill="#222" text-anchor="middle" transform="rotate(63.2 258.14 405.76)">EGFR</text>
<path d="M260.36 435.09A95.7 95.7 0 0 1 258.93 475.84L255.83 475.05A92.5 92.5 0 0 0 257.21 435.66Z" fill="#5ee89a"/>
<path d="M260.36 435.09L262.13 434.77M260.72 437.23L261.61 437.09M261.04 439.38L261.93 439.26M261.3 441.53L262.2 441.43M261.52 443.69L262.42 443.61M261.69 445.86L263.49 445.74M261.81 448.03L262.71 447.99M261.88 450.2L262.78 450.18M261.9 452.37L262.8 452.37M261.87 454.54L262.77 454.56M261.79 456.71L263.59 456.79M261.67 458.88L262.56 458.94M261.49 461.04L262.39 461.12M261.27 463.2L262.16 463.3M260.99 465.35L261.88 465.48M260.67 467.5L262.45 467.79M260.3 469.64L261.18 469.8M259.88 471.77L260.76 471.95M259.41 473.89L260.29 474.09" stroke="#333" stroke-width="0.35" fill="none"/>
<path d="M260.51 435.06A95.7 95.7 0 0 1 259.08 475.87" stroke="#333" stroke-width="0.45" fill="none"/>
<text x="263.9" y="435.34" font-size="2.6" fill="#444" text-anchor="middle" transform="rotate(79.7 263.9 434.44)">0</text>
<text x="265.39" y="457.78" font-size="2.6" fill="#444" text-anchor="middle" transform="rotate(-87.3 265.39 456.88)">1</text>
<text x="269.14" y="457.79" font-size="5.8" fill="#222" text-anchor="middle" transform="rotate(-88 269.14 455.79)">CASP8</text>
<path d="M258.24 478.42A95.7 95.7 0 0 1 239.94 513.2L237.47 511.16A92.5 92.5 0 0 0 255.16 477.54Z" fill="#40ecec"/>
<path d="M258.24 478.42L259.97 478.91M257.62 480.5L258.48 480.77M256.95 482.57L257.81 482.85M256.24 484.62L257.09 484.92M255.48 486.65L256.32 486.98M254.68 488.67L256.34 489.35M253.83 490.67L254.65 491.03M252.93 492.64L253.75 493.02M251.99 494.6L252.8 495M251.01 496.54L251.81 496.95M249.98 498.45L251.56 499.32M248.91 500.34L249.69 500.79M247.8 502.2L248.57 502.67M246.64 504.04L247.4 504.53M245.45 505.85L246.19 506.36M244.21 507.64L245.67 508.68M242.93 509.39L243.65 509.93M241.61 511.12L242.32 511.67M240.26 512.81L240.95 513.38" stroke="#333" stroke-width="0.35" fill="none"/>
<path d="M258.38 478.46A95.7 95.7 0 0 1 240.05 513.3" stroke="#333" stroke-width="0.45" fill="none"/>
<text x="261.7" y="480.3" font-size="2.6" fill="#444" text-anchor="middle" transform="rotate(-74.1 261.7 479.4)">0</text>
<text x="253.13" y="501.09" font-size="2.6" fill="#444" text-anchor="middle" transform="rotate(-61.1 253.13 500.19)">1</text>
<text x="257.35" y="502.16" font-size="5.8" fill="#222" text-anchor="middle" transform="rotate(-62.25 257.35 500.16)">SIK1</text>
<path d="M238.21 515.24A95.7 95.7 0 0 1 208.75 537.92L207.33 535.05A92.5 92.5 0 0 0 235.8 513.13Z" fill="#3a70ea"/>
<path d="M238.21 515.24L239.56 516.42M236.76 516.85L237.42 517.46M235.27 518.44L235.92 519.06M233.75 519.99L234.39 520.63M232.2 521.5L232.82 522.16M230.61 522.98L231.82 524.31M228.98 524.43L229.58 525.1M227.33 525.83L227.9 526.52M225.64 527.2L226.2 527.9M223.93 528.53L224.47 529.25M222.18 529.82L223.23 531.28M220.41 531.07L220.91 531.81M218.6 532.28L219.09 533.03M216.77 533.45L217.25 534.21M214.92 534.57L215.37 535.35M213.03 535.66L213.91 537.23M211.13 536.7L211.55 537.49M209.2 537.7L209.6 538.5" stroke="#333" stroke-width="0.35" fill="none"/>
<path d="M238.32 515.34A95.7 95.7 0 0 1 208.82 538.05" stroke="#333" stroke-width="0.45" fill="none"/>
<text x="240.91" y="518.51" font-size="2.6" fill="#444" text-anchor="middle" transform="rotate(-48.8 240.91 517.61)">0</text>
<text x="224.29" y="533.64" font-size="2.6" fill="#444" text-anchor="middle" transform="rotate(-35.8 224.29 532.74)">1</text>
<text x="229.04" y="535.81" font-size="5.8" fill="#222" text-anchor="middle" transform="rotate(-37.6 229.04 533.81)">PTRH2</text>
<path d="M206.34 539.07A95.7 95.7 0 0 1 171.54 547.75L171.36 544.56A92.5 92.5 0 0 0 205 536.17Z" fill="#2e50e4"/>
<path d="M206.34 539.07L207.1 540.71M204.36 539.96L204.72 540.79M202.36 540.81L202.7 541.64M200.34 541.6L200.66 542.44M198.3 542.35L198.6 543.2M196.25 543.06L196.81 544.77M194.18 543.72L194.44 544.58M192.1 544.33L192.34 545.2M190 544.89L190.22 545.77M187.89 545.41L188.09 546.29M185.77 545.88L186.14 547.64M183.64 546.3L183.8 547.18M181.5 546.67L181.64 547.56M179.35 546.99L179.48 547.88M177.2 547.27L177.3 548.16M175.04 547.49L175.21 549.28M172.88 547.67L172.94 548.56" stroke="#333" stroke-width="0.35" fill="none"/>
<path d="M206.4 539.21A95.7 95.7 0 0 1 171.55 547.9" stroke="#333" stroke-width="0.45" fill="none"/>
<text x="207.85" y="543.24" font-size="2.6" fill="#444" text-anchor="middle" transform="rotate(-24.8 207.85 542.34)">0</text>
<text x="186.51" y="550.3" font-size="2.6" fill="#444" text-anchor="middle" transform="rotate(-11.8 186.51 549.4)">1</text>
<text x="191.12" y="554.14" font-size="5.8" fill="#222" text-anchor="middle" transform="rotate(-14 191.12 552.14)">STAT3</text>
<path d="M168.87 547.86A95.7 95.7 0 0 1 147.45 546.04L148.07 542.91A92.5 92.5 0 0 0 168.78 544.66Z" fill="#3a3ae6"/>
<path d="M168.87 547.86L168.92 549.66M166.7 547.9L166.71 548.8M164.53 547.89L164.51 548.79M162.36 547.82L162.32 548.72M160.19 547.71L160.13 548.61M158.03 547.55L157.87 549.34M155.86 547.34L155.77 548.23M153.71 547.08L153.59 547.97M151.56 546.77L151.42 547.66M149.42 546.42L149.26 547.3" stroke="#333" stroke-width="0.35" fill="none"/>
<path d="M168.88 548.01A95.7 95.7 0 0 1 147.42 546.19" stroke="#333" stroke-width="0.45" fill="none"/>
<text x="168.97" y="552.36" font-size="2.6" fill="#444" text-anchor="middle" transform="rotate(-1.6 168.97 551.46)">0</text>
<text x="157.49" y="556.83" font-size="5.8" fill="#222" text-anchor="middle" transform="rotate(4.85 157.49 554.83)">TLE1</text>
<path d="M144.83 545.48A95.7 95.7 0 0 1 116.05 533.71L117.73 530.98A92.5 92.5 0 0 0 145.55 542.37Z" fill="#8844ea"/>
<path d="M144.83 545.48L144.43 547.24M142.72 544.98L142.5 545.85M140.63 544.42L140.38 545.29M138.54 543.82L138.28 544.68M136.47 543.16L136.19 544.02M134.41 542.47L133.81 544.16M132.37 541.72L132.05 542.56M130.35 540.93L130.01 541.77M128.35 540.1L127.99 540.92M126.36 539.21L125.99 540.03M124.4 538.29L123.61 539.91M122.46 537.32L122.04 538.12M120.54 536.3L120.11 537.09M118.64 535.25L118.19 536.03M116.77 534.14L116.3 534.92" stroke="#333" stroke-width="0.35" fill="none"/>
<path d="M144.8 545.63A95.7 95.7 0 0 1 115.98 533.84" stroke="#333" stroke-width="0.45" fill="none"/>
<text x="144.03" y="549.89" font-size="2.6" fill="#444" text-anchor="middle" transform="rotate(12.9 144.03 548.99)">0</text>
<text x="122.83" y="542.43" font-size="2.6" fill="#444" text-anchor="middle" transform="rotate(25.9 122.83 541.53)">1</text>
<text x="127.2" y="549.53" font-size="5.8" fill="#222" text-anchor="middle" transform="rotate(22.25 127.2 547.53)">DAPK2</text>
<path d="M113.8 532.28A95.7 95.7 0 0 1 83.91 501.06L86.66 499.43A92.5 92.5 0 0 0 115.55 529.6Z" fill="#c844e2"/>
<path d="M113.8 532.28L112.81 533.78M111.99 531.07L111.49 531.81M110.22 529.82L109.69 530.55M108.47 528.53L107.93 529.25M106.76 527.2L106.2 527.9M105.07 525.83L103.92 527.22M103.42 524.43L102.82 525.1M101.79 522.98L101.19 523.65M100.2 521.5L99.58 522.16M98.65 519.99L98.01 520.63M97.13 518.44L95.83 519.68M95.64 516.85L94.98 517.46M94.19 515.24L93.52 515.83M92.78 513.59L92.09 514.16M91.41 511.91L90.71 512.47M90.07 510.19L88.64 511.28M88.78 508.45L88.05 508.98M87.52 506.68L86.78 507.19M86.31 504.88L85.55 505.38M85.13 503.05L84.37 503.53M84 501.2L82.45 502.12" stroke="#333" stroke-width="0.35" fill="none"/>
<path d="M113.72 532.4A95.7 95.7 0 0 1 83.78 501.14" stroke="#333" stroke-width="0.45" fill="none"/>
<text x="111.83" y="536.19" font-size="2.6" fill="#444" text-anchor="middle" transform="rotate(33.2 111.83 535.29)">0</text>
<text x="94.53" y="521.83" font-size="2.6" fill="#444" text-anchor="middle" transform="rotate(46.2 94.53 520.93)">1</text>
<text x="80.91" y="503.95" font-size="2.6" fill="#444" text-anchor="middle" transform="rotate(59.2 80.91 503.05)">2</text>
<text x="91.8" y="525.43" font-size="5.8" fill="#222" text-anchor="middle" transform="rotate(46.25 91.8 523.43)">CTNNB1</text>
<path d="M82.58 498.74A95.7 95.7 0 0 1 70.53 454.71L73.73 454.62A92.5 92.5 0 0 0 85.38 497.19Z" fill="#e6208c"/>
<path d="M82.58 498.74L81.01 499.62M81.55 496.83L80.75 497.25M80.55 494.9L79.75 495.3M79.61 492.95L78.79 493.33M78.71 490.97L77.88 491.34M77.85 488.98L76.19 489.67M77.04 486.96L76.2 487.29M76.27 484.93L75.43 485.24M75.55 482.88L74.7 483.17M74.88 480.82L74.02 481.09M74.25 478.74L72.52 479.24M73.68 476.65L72.8 476.88M73.14 474.54L72.27 474.75M72.66 472.42L71.78 472.61M72.23 470.3L71.34 470.47M71.84 468.16L70.07 468.46M71.5 466.01L70.61 466.14M71.21 463.86L70.32 463.97M70.97 461.7L70.08 461.79M70.78 459.54L69.88 459.61M70.64 457.38L68.84 457.47M70.55 455.21L69.65 455.23" stroke="#333" stroke-width="0.35" fill="none"/>
<path d="M82.45 498.82A95.7 95.7 0 0 1 70.38 454.71" stroke="#333" stroke-width="0.45" fill="none"/>
<text x="79.43" y="501.39" font-size="2.6" fill="#444" text-anchor="middle" transform="rotate(60.9 79.43 500.49)">0</text>
<text x="70.79" y="480.64" font-size="2.6" fill="#444" text-anchor="middle" transform="rotate(73.9 70.79 479.74)">1</text>
<text x="67.05" y="458.47" font-size="2.6" fill="#444" text-anchor="middle" transform="rotate(86.9 67.05 457.57)">2</text>
<text x="66.85" y="481.38" font-size="5.8" fill="#222" text-anchor="middle" transform="rotate(74.7 66.85 479.38)">BRMS1</text>
<defs><linearGradient id="cbC" x1="0" y1="0" x2="0" y2="1"><stop offset="0" stop-color="#66ff00"/><stop offset="0.25" stop-color="#80f23c"/><stop offset="0.42" stop-color="#c8f4b8"/><stop offset="0.5" stop-color="#ffffff"/><stop offset="0.58" stop-color="#ffb4cc"/><stop offset="0.7" stop-color="#ff5c8c"/><stop offset="0.82" stop-color="#ff2a52"/><stop offset="1" stop-color="#ff0012"/></linearGradient></defs>
<rect x="279.6" y="410.6" width="8.4" height="82.8" fill="url(#cbC)"/>
<path d="M288 410.6h1.2M288 452h1.2M288 493.4h1.2" stroke="#444" stroke-width="0.4"/>
<text x="291.2" y="412.9" font-size="5.8" fill="#222">−1</text>
<text x="292.6" y="454.3" font-size="5.8" fill="#222">0</text>
<text x="292.6" y="495.7" font-size="5.8" fill="#222">1</text>
<path d="M400.4 365.4H603.35M400.4 365.4V378.93M413.93 378.93H603.35M413.93 378.93V392.46M427.46 392.46H603.35M427.46 392.46V405.99M440.99 405.99H603.35M440.99 405.99V419.52M454.52 419.52H603.35M454.52 419.52V433.05M468.05 433.05H603.35M468.05 433.05V446.58M481.58 446.58H603.35M481.58 446.58V460.11M495.11 460.11H603.35M495.11 460.11V473.64M508.64 473.64H603.35M508.64 473.64V487.17M522.17 487.17H603.35M522.17 487.17V500.7M535.7 500.7H603.35M535.7 500.7V514.23M549.23 514.23H603.35M549.23 514.23V527.76M562.76 527.76H603.35M562.76 527.76V541.29M576.29 541.29H603.35M576.29 541.29V554.82M589.82 554.82H603.35M589.82 554.82V568.35M400.4 378.93H427.46M413.93 392.46H440.99M427.46 405.99H454.52M440.99 419.52H468.05M454.52 433.05H481.58M468.05 446.58H495.11M481.58 460.11H508.64M495.11 473.64H522.17M508.64 487.17H535.7M522.17 500.7H549.23M535.7 514.23H562.76M549.23 527.76H576.29M562.76 541.29H589.82M576.29 554.82H603.35M589.82 568.35H603.35M413.93 365.4V392.46M427.46 365.4V405.99M440.99 365.4V419.52M454.52 365.4V433.05M468.05 365.4V446.58M481.58 365.4V460.11M495.11 365.4V473.64M508.64 365.4V487.17M522.17 365.4V500.7M535.7 365.4V514.23M549.23 365.4V527.76M562.76 365.4V541.29M576.29 365.4V554.82M589.82 365.4V568.35M603.35 365.4V568.35" stroke="#c4d0d0" stroke-width="0.7" fill="none"/>
<circle cx="420.69" cy="372.16" r="5.75" fill="none" stroke="#f7b9d0" stroke-width="0.45"/>
<path d="M420.69 372.16L420.69 366.41A5.75 5.75 0 0 1 426.45 372.16Z" fill="#f89bc6" stroke="#333" stroke-width="0.45"/>
<circle cx="434.22" cy="372.16" r="5.75" fill="none" stroke="#f7b9d0" stroke-width="0.45"/>
<path d="M434.22 372.16L434.22 366.41A5.75 5.75 0 0 1 439.69 370.39Z" fill="#f9a7ce" stroke="#333" stroke-width="0.45"/>
<circle cx="447.75" cy="372.16" r="5.75" fill="none" stroke="#f7b9d0" stroke-width="0.45"/>
<path d="M447.75 372.16L447.75 366.41A5.75 5.75 0 0 1 452.79 369.39Z" fill="#f9add2" stroke="#333" stroke-width="0.45"/>
<circle cx="461.28" cy="372.16" r="5.75" fill="none" stroke="#f7b9d0" stroke-width="0.45"/>
<path d="M461.28 372.16L461.28 366.41A5.75 5.75 0 0 1 465.22 367.97Z" fill="#fab9da" stroke="#333" stroke-width="0.45"/>
<circle cx="474.81" cy="372.16" r="5.75" fill="none" stroke="#b4f2de" stroke-width="0.45"/>
<path d="M474.81 372.16L474.81 366.41A5.75 5.75 0 0 0 469.06 372.16Z" fill="#a7f2dc" stroke="#333" stroke-width="0.45"/>
<circle cx="488.34" cy="372.16" r="5.75" fill="none" stroke="#b4f2de" stroke-width="0.45"/>
<path d="M488.34 372.16L488.34 366.41A5.75 5.75 0 0 0 484.41 367.97Z" fill="#b9f6e4" stroke="#333" stroke-width="0.45"/>
<circle cx="501.87" cy="372.16" r="5.75" fill="none" stroke="#b4f2de" stroke-width="0.45"/>
<path d="M501.87 372.16L501.87 366.41A5.75 5.75 0 0 0 500.1 366.7Z" fill="#e1fbf3" stroke="#333" stroke-width="0.45"/>
<circle cx="515.4" cy="372.16" r="5.75" fill="none" stroke="#b4f2de" stroke-width="0.45"/>
<path d="M515.4 372.16L515.4 366.41A5.75 5.75 0 0 0 512.63 377.2Z" fill="#90eed3" stroke="#333" stroke-width="0.45"/>
<circle cx="528.93" cy="372.16" r="5.75" fill="none" stroke="#b4f2de" stroke-width="0.45"/>
<path d="M528.93 372.16L528.93 366.41A5.75 5.75 0 0 0 525.56 367.51Z" fill="#c4f7e8" stroke="#333" stroke-width="0.45"/>
<circle cx="542.46" cy="372.16" r="5.75" fill="none" stroke="#b4f2de" stroke-width="0.45"/>
<path d="M542.46 372.16L542.46 366.41A5.75 5.75 0 0 0 539.09 367.51Z" fill="#c4f7e8" stroke="#333" stroke-width="0.45"/>
<circle cx="556" cy="372.16" r="5.75" fill="none" stroke="#f7b9d0" stroke-width="0.45"/>
<path d="M556 372.16L556 366.41A5.75 5.75 0 0 1 561.75 372.16Z" fill="#f89bc6" stroke="#333" stroke-width="0.45"/>
<circle cx="569.52" cy="372.16" r="5.75" fill="none" stroke="#f7b9d0" stroke-width="0.45"/>
<path d="M569.52 372.16L569.52 366.41A5.75 5.75 0 0 1 570.6 366.52Z" fill="#fdedf5" stroke="#333" stroke-width="0.45"/>
<circle cx="583.05" cy="372.16" r="5.75" fill="none" stroke="#f7b9d0" stroke-width="0.45"/>
<path d="M583.05 372.16L583.05 366.41A5.75 5.75 0 0 1 586.99 367.97Z" fill="#fab9da" stroke="#333" stroke-width="0.45"/>
<circle cx="596.58" cy="372.16" r="5.75" fill="none" stroke="#b4f2de" stroke-width="0.45"/>
<path d="M596.58 372.16L596.58 366.41A5.75 5.75 0 0 0 593.81 367.13Z" fill="#d0f9ed" stroke="#333" stroke-width="0.45"/>
<circle cx="434.22" cy="385.69" r="5.75" fill="none" stroke="#f7b9d0" stroke-width="0.45"/>
<path d="M434.22 385.69L434.22 379.94A5.75 5.75 0 0 1 439.98 385.69Z" fill="#f89bc6" stroke="#333" stroke-width="0.45"/>
<circle cx="447.75" cy="385.69" r="5.75" fill="none" stroke="#f7b9d0" stroke-width="0.45"/>
<path d="M447.75 385.69L447.75 379.94A5.75 5.75 0 0 1 452.79 382.92Z" fill="#f9add2" stroke="#333" stroke-width="0.45"/>
<circle cx="461.28" cy="385.69" r="5.75" fill="none" stroke="#f7b9d0" stroke-width="0.45"/>
<path d="M461.28 385.69L461.28 379.94A5.75 5.75 0 0 1 466.32 382.92Z" fill="#f9add2" stroke="#333" stroke-width="0.45"/>
<circle cx="474.81" cy="385.69" r="5.75" fill="none" stroke="#b4f2de" stroke-width="0.45"/>
<path d="M474.81 385.69L474.81 379.94A5.75 5.75 0 0 0 469.35 387.47Z" fill="#a0f1da" stroke="#333" stroke-width="0.45"/>
<circle cx="488.34" cy="385.69" r="5.75" fill="none" stroke="#f7b9d0" stroke-width="0.45"/>
<path d="M488.34 385.69L488.34 379.94A5.75 5.75 0 0 1 489.07 379.99Z" fill="#fef3f8" stroke="#333" stroke-width="0.45"/>
<circle cx="501.87" cy="385.69" r="5.75" fill="none" stroke="#b4f2de" stroke-width="0.45"/>
<path d="M501.87 385.69L501.87 379.94A5.75 5.75 0 0 0 497.94 381.5Z" fill="#b9f6e4" stroke="#333" stroke-width="0.45"/>
<circle cx="515.4" cy="385.69" r="5.75" fill="none" stroke="#b4f2de" stroke-width="0.45"/>
<path d="M515.4 385.69L515.4 379.94A5.75 5.75 0 0 0 512.03 381.04Z" fill="#c4f7e8" stroke="#333" stroke-width="0.45"/>
<circle cx="528.93" cy="385.69" r="5.75" fill="none" stroke="#f7b9d0" stroke-width="0.45"/>
<path d="M528.93 385.69L528.93 379.94A5.75 5.75 0 0 1 534.58 384.62Z" fill="#f8a2cb" stroke="#333" stroke-width="0.45"/>
<circle cx="542.46" cy="385.69" r="5.75" fill="none" stroke="#b4f2de" stroke-width="0.45"/>
<path d="M542.46 385.69L542.46 379.94A5.75 5.75 0 0 0 538.27 381.76Z" fill="#b7f5e3" stroke="#333" stroke-width="0.45"/>
<circle cx="556" cy="385.69" r="5.75" fill="none" stroke="#f7b9d0" stroke-width="0.45"/>
<path d="M556 385.69L556 379.94A5.75 5.75 0 0 1 559.37 381.04Z" fill="#fac4e0" stroke="#333" stroke-width="0.45"/>
<circle cx="569.52" cy="385.69" r="5.75" fill="none" stroke="#b4f2de" stroke-width="0.45"/>
<path d="M569.52 385.69L569.52 379.94A5.75 5.75 0 0 0 566.75 390.73Z" fill="#90eed3" stroke="#333" stroke-width="0.45"/>
<circle cx="583.05" cy="385.69" r="5.75" fill="none" stroke="#f7b9d0" stroke-width="0.45"/>
<path d="M583.05 385.69L583.05 379.94A5.75 5.75 0 0 1 583.78 379.99Z" fill="#fef3f8" stroke="#333" stroke-width="0.45"/>
<circle cx="596.58" cy="385.69" r="5.75" fill="none" stroke="#f7b9d0" stroke-width="0.45"/>
<path d="M596.58 385.69L596.58 379.94A5.75 5.75 0 0 1 597.31 379.99Z" fill="#fef3f8" stroke="#333" stroke-width="0.45"/>
<circle cx="447.75" cy="399.22" r="5.75" fill="none" stroke="#f7b9d0" stroke-width="0.45"/>
<path d="M447.75 399.22L447.75 393.47A5.75 5.75 0 0 1 452.79 396.45Z" fill="#f9add2" stroke="#333" stroke-width="0.45"/>
<circle cx="461.28" cy="399.22" r="5.75" fill="none" stroke="#f7b9d0" stroke-width="0.45"/>
<path d="M461.28 399.22L461.28 393.47A5.75 5.75 0 0 1 464.06 404.26Z" fill="#f674aa" stroke="#333" stroke-width="0.45"/>
<circle cx="474.81" cy="399.22" r="5.75" fill="none" stroke="#b4f2de" stroke-width="0.45"/>
<path d="M474.81 399.22L474.81 393.47A5.75 5.75 0 0 0 470.88 395.03Z" fill="#b9f6e4" stroke="#333" stroke-width="0.45"/>
<circle cx="488.34" cy="399.22" r="5.75" fill="none" stroke="#b4f2de" stroke-width="0.45"/>
<path d="M488.34 399.22L488.34 393.47A5.75 5.75 0 0 0 482.59 399.22Z" fill="#a7f2dc" stroke="#333" stroke-width="0.45"/>
<circle cx="501.87" cy="399.22" r="5.75" fill="none" stroke="#b4f2de" stroke-width="0.45"/>
<path d="M501.87 399.22L501.87 393.47A5.75 5.75 0 0 0 496.23 398.15Z" fill="#abf3de" stroke="#333" stroke-width="0.45"/>
<circle cx="515.4" cy="399.22" r="5.75" fill="none" stroke="#b4f2de" stroke-width="0.45"/>
<path d="M515.4 399.22L515.4 393.47A5.75 5.75 0 0 0 509.94 401Z" fill="#a0f1da" stroke="#333" stroke-width="0.45"/>
<circle cx="528.93" cy="399.22" r="5.75" fill="none" stroke="#b4f2de" stroke-width="0.45"/>
<path d="M528.93 399.22L528.93 393.47A5.75 5.75 0 0 0 525.56 394.57Z" fill="#c4f7e8" stroke="#333" stroke-width="0.45"/>
<circle cx="542.46" cy="399.22" r="5.75" fill="none" stroke="#b4f2de" stroke-width="0.45"/>
<path d="M542.46 399.22L542.46 393.47A5.75 5.75 0 0 0 539.09 394.57Z" fill="#c4f7e8" stroke="#333" stroke-width="0.45"/>
<circle cx="556" cy="399.22" r="5.75" fill="none" stroke="#b4f2de" stroke-width="0.45"/>
<path d="M556 399.22L556 393.47A5.75 5.75 0 0 0 555.27 393.52Z" fill="#f3fdfa" stroke="#333" stroke-width="0.45"/>
<circle cx="569.52" cy="399.22" r="5.75" fill="none" stroke="#b4f2de" stroke-width="0.45"/>
<path d="M569.52 399.22L569.52 393.47A5.75 5.75 0 0 0 565.33 395.29Z" fill="#b7f5e3" stroke="#333" stroke-width="0.45"/>
<circle cx="583.05" cy="399.22" r="5.75" fill="none" stroke="#f7b9d0" stroke-width="0.45"/>
<path d="M583.05 399.22L583.05 393.47A5.75 5.75 0 0 1 585.83 394.19Z" fill="#fbd0e6" stroke="#333" stroke-width="0.45"/>
<circle cx="596.58" cy="399.22" r="5.75" fill="none" stroke="#b4f2de" stroke-width="0.45"/>
<path d="M596.58 399.22L596.58 393.47A5.75 5.75 0 0 0 593.81 394.19Z" fill="#d0f9ed" stroke="#333" stroke-width="0.45"/>
<circle cx="461.28" cy="412.75" r="5.75" fill="none" stroke="#f7b9d0" stroke-width="0.45"/>
<path d="M461.28 412.75L461.28 407A5.75 5.75 0 0 1 463.06 418.22Z" fill="#f56da2" stroke="#333" stroke-width="0.45"/>
<circle cx="474.81" cy="412.75" r="5.75" fill="none" stroke="#b4f2de" stroke-width="0.45"/>
<path d="M474.81 412.75L474.81 407A5.75 5.75 0 0 0 469.06 412.75Z" fill="#a7f2dc" stroke="#333" stroke-width="0.45"/>
<circle cx="488.34" cy="412.75" r="5.75" fill="none" stroke="#b4f2de" stroke-width="0.45"/>
<path d="M488.34 412.75L488.34 407A5.75 5.75 0 0 0 483.91 416.42Z" fill="#98f0d6" stroke="#333" stroke-width="0.45"/>
<circle cx="501.87" cy="412.75" r="5.75" fill="none" stroke="#b4f2de" stroke-width="0.45"/>
<path d="M501.87 412.75L501.87 407A5.75 5.75 0 0 0 496.84 415.53Z" fill="#9cf0d8" stroke="#333" stroke-width="0.45"/>
<circle cx="515.4" cy="412.75" r="5.75" fill="none" stroke="#b4f2de" stroke-width="0.45"/>
<path d="M515.4 412.75L515.4 407A5.75 5.75 0 0 0 510.97 409.09Z" fill="#b6f5e2" stroke="#333" stroke-width="0.45"/>
<circle cx="528.93" cy="412.75" r="5.75" fill="none" stroke="#b4f2de" stroke-width="0.45"/>
<path d="M528.93 412.75L528.93 407A5.75 5.75 0 0 0 523.18 412.75Z" fill="#a7f2dc" stroke="#333" stroke-width="0.45"/>
<circle cx="542.46" cy="412.75" r="5.75" fill="none" stroke="#b4f2de" stroke-width="0.45"/>
<path d="M542.46 412.75L542.46 407A5.75 5.75 0 0 0 541.74 407.05Z" fill="#f3fdfa" stroke="#333" stroke-width="0.45"/>
<circle cx="556" cy="412.75" r="5.75" fill="none" stroke="#b4f2de" stroke-width="0.45"/>
<path d="M556 412.75L556 407A5.75 5.75 0 0 0 551.8 408.82Z" fill="#b7f5e3" stroke="#333" stroke-width="0.45"/>
<circle cx="569.52" cy="412.75" r="5.75" fill="none" stroke="#b4f2de" stroke-width="0.45"/>
<path d="M569.52 412.75L569.52 407A5.75 5.75 0 0 0 565.33 408.82Z" fill="#b7f5e3" stroke="#333" stroke-width="0.45"/>
<circle cx="583.05" cy="412.75" r="5.75" fill="none" stroke="#b4f2de" stroke-width="0.45"/>
<path d="M583.05 412.75L583.05 407A5.75 5.75 0 0 0 580.61 407.55Z" fill="#d6f9ef" stroke="#333" stroke-width="0.45"/>
<circle cx="596.58" cy="412.75" r="5.75" fill="none" stroke="#f7b9d0" stroke-width="0.45"/>
<path d="M596.58 412.75L596.58 407A5.75 5.75 0 0 1 597.31 407.05Z" fill="#fef3f8" stroke="#333" stroke-width="0.45"/>
<circle cx="474.81" cy="426.28" r="5.75" fill="none" stroke="#b4f2de" stroke-width="0.45"/>
<path d="M474.81 426.28L474.81 420.53A5.75 5.75 0 0 0 472.04 421.25Z" fill="#d0f9ed" stroke="#333" stroke-width="0.45"/>
<circle cx="488.34" cy="426.28" r="5.75" fill="none" stroke="#b4f2de" stroke-width="0.45"/>
<path d="M488.34 426.28L488.34 420.53A5.75 5.75 0 0 0 486.57 431.75Z" fill="#8ceed2" stroke="#333" stroke-width="0.45"/>
<circle cx="501.87" cy="426.28" r="5.75" fill="none" stroke="#b4f2de" stroke-width="0.45"/>
<path d="M501.87 426.28L501.87 420.53A5.75 5.75 0 0 0 496.12 426.28Z" fill="#a7f2dc" stroke="#333" stroke-width="0.45"/>
<circle cx="515.4" cy="426.28" r="5.75" fill="none" stroke="#b4f2de" stroke-width="0.45"/>
<path d="M515.4 426.28L515.4 420.53A5.75 5.75 0 0 0 510.37 429.06Z" fill="#9cf0d8" stroke="#333" stroke-width="0.45"/>
<circle cx="528.93" cy="426.28" r="5.75" fill="none" stroke="#b4f2de" stroke-width="0.45"/>
<path d="M528.93 426.28L528.93 420.53A5.75 5.75 0 0 0 523.47 428.06Z" fill="#a0f1da" stroke="#333" stroke-width="0.45"/>
<circle cx="542.46" cy="426.28" r="5.75" fill="none" stroke="#f7b9d0" stroke-width="0.45"/>
<path d="M542.46 426.28L542.46 420.53A5.75 5.75 0 0 1 547.5 423.51Z" fill="#f9add2" stroke="#333" stroke-width="0.45"/>
<circle cx="556" cy="426.28" r="5.75" fill="none" stroke="#b4f2de" stroke-width="0.45"/>
<path d="M556 426.28L556 420.53A5.75 5.75 0 0 0 552.06 422.09Z" fill="#b9f6e4" stroke="#333" stroke-width="0.45"/>
<circle cx="569.52" cy="426.28" r="5.75" fill="none" stroke="#b4f2de" stroke-width="0.45"/>
<path d="M569.52 426.28L569.52 420.53A5.75 5.75 0 0 0 563.77 426.28Z" fill="#a7f2dc" stroke="#333" stroke-width="0.45"/>
<circle cx="583.05" cy="426.28" r="5.75" fill="none" stroke="#f7b9d0" stroke-width="0.45"/>
<path d="M583.05 426.28L583.05 420.53A5.75 5.75 0 0 1 583.78 420.58Z" fill="#fef3f8" stroke="#333" stroke-width="0.45"/>
<circle cx="596.58" cy="426.28" r="5.75" fill="none" stroke="#b4f2de" stroke-width="0.45"/>
<path d="M596.58 426.28L596.58 420.53A5.75 5.75 0 0 0 592.65 422.09Z" fill="#b9f6e4" stroke="#333" stroke-width="0.45"/>
<circle cx="488.34" cy="439.81" r="5.75" fill="none" stroke="#b4f2de" stroke-width="0.45"/>
<path d="M488.34 439.81L488.34 434.06A5.75 5.75 0 0 0 487.62 434.11Z" fill="#f3fdfa" stroke="#333" stroke-width="0.45"/>
<circle cx="501.87" cy="439.81" r="5.75" fill="none" stroke="#f7b9d0" stroke-width="0.45"/>
<path d="M501.87 439.81L501.87 434.06A5.75 5.75 0 0 1 506.91 437.04Z" fill="#f9add2" stroke="#333" stroke-width="0.45"/>
<circle cx="515.4" cy="439.81" r="5.75" fill="none" stroke="#f7b9d0" stroke-width="0.45"/>
<path d="M515.4 439.81L515.4 434.06A5.75 5.75 0 0 1 520.87 438.04Z" fill="#f9a7ce" stroke="#333" stroke-width="0.45"/>
<circle cx="528.93" cy="439.81" r="5.75" fill="none" stroke="#f7b9d0" stroke-width="0.45"/>
<path d="M528.93 439.81L528.93 434.06A5.75 5.75 0 0 1 529.66 434.11Z" fill="#fef3f8" stroke="#333" stroke-width="0.45"/>
<circle cx="542.46" cy="439.81" r="5.75" fill="none" stroke="#f7b9d0" stroke-width="0.45"/>
<path d="M542.46 439.81L542.46 434.06A5.75 5.75 0 0 1 543.19 434.11Z" fill="#fef3f8" stroke="#333" stroke-width="0.45"/>
<circle cx="556" cy="439.81" r="5.75" fill="none" stroke="#b4f2de" stroke-width="0.45"/>
<path d="M556 439.81L556 434.06A5.75 5.75 0 0 0 552.06 435.62Z" fill="#b9f6e4" stroke="#333" stroke-width="0.45"/>
<circle cx="569.52" cy="439.81" r="5.75" fill="none" stroke="#b4f2de" stroke-width="0.45"/>
<path d="M569.52 439.81L569.52 434.06A5.75 5.75 0 0 0 565.59 435.62Z" fill="#b9f6e4" stroke="#333" stroke-width="0.45"/>
<circle cx="583.05" cy="439.81" r="5.75" fill="none" stroke="#b4f2de" stroke-width="0.45"/>
<path d="M583.05 439.81L583.05 434.06A5.75 5.75 0 0 0 580.28 434.78Z" fill="#d0f9ed" stroke="#333" stroke-width="0.45"/>
<circle cx="596.58" cy="439.81" r="5.75" fill="none" stroke="#b4f2de" stroke-width="0.45"/>
<path d="M596.58 439.81L596.58 434.06A5.75 5.75 0 0 0 593.81 434.78Z" fill="#d0f9ed" stroke="#333" stroke-width="0.45"/>
<circle cx="501.87" cy="453.34" r="5.75" fill="none" stroke="#f7b9d0" stroke-width="0.45"/>
<path d="M501.87 453.34L501.87 447.59A5.75 5.75 0 0 1 507.52 452.27Z" fill="#f8a2cb" stroke="#333" stroke-width="0.45"/>
<circle cx="515.4" cy="453.34" r="5.75" fill="none" stroke="#f7b9d0" stroke-width="0.45"/>
<path d="M515.4 453.34L515.4 447.59A5.75 5.75 0 0 1 521.05 452.27Z" fill="#f8a2cb" stroke="#333" stroke-width="0.45"/>
<circle cx="528.93" cy="453.34" r="5.75" fill="none" stroke="#f7b9d0" stroke-width="0.45"/>
<path d="M528.93 453.34L528.93 447.59A5.75 5.75 0 0 1 534.4 451.57Z" fill="#f9a7ce" stroke="#333" stroke-width="0.45"/>
<circle cx="542.46" cy="453.34" r="5.75" fill="none" stroke="#b4f2de" stroke-width="0.45"/>
<path d="M542.46 453.34L542.46 447.59A5.75 5.75 0 0 0 537.43 450.57Z" fill="#b2f4e1" stroke="#333" stroke-width="0.45"/>
<circle cx="556" cy="453.34" r="5.75" fill="none" stroke="#f7b9d0" stroke-width="0.45"/>
<path d="M556 453.34L556 447.59A5.75 5.75 0 0 1 560.43 449.68Z" fill="#f9b4d7" stroke="#333" stroke-width="0.45"/>
<circle cx="569.52" cy="453.34" r="5.75" fill="none" stroke="#f7b9d0" stroke-width="0.45"/>
<path d="M569.52 453.34L569.52 447.59A5.75 5.75 0 0 1 574.56 450.57Z" fill="#f9add2" stroke="#333" stroke-width="0.45"/>
<circle cx="583.05" cy="453.34" r="5.75" fill="none" stroke="#f7b9d0" stroke-width="0.45"/>
<path d="M583.05 453.34L583.05 447.59A5.75 5.75 0 0 1 588.09 450.57Z" fill="#f9add2" stroke="#333" stroke-width="0.45"/>
<circle cx="596.58" cy="453.34" r="5.75" fill="none" stroke="#f7b9d0" stroke-width="0.45"/>
<path d="M596.58 453.34L596.58 447.59A5.75 5.75 0 0 1 601.62 450.57Z" fill="#f9add2" stroke="#333" stroke-width="0.45"/>
<circle cx="515.4" cy="466.87" r="5.75" fill="none" stroke="#f7b9d0" stroke-width="0.45"/>
<path d="M515.4 466.87L515.4 461.12A5.75 5.75 0 0 1 521.05 465.8Z" fill="#f8a2cb" stroke="#333" stroke-width="0.45"/>
<circle cx="528.93" cy="466.87" r="5.75" fill="none" stroke="#f7b9d0" stroke-width="0.45"/>
<path d="M528.93 466.87L528.93 461.12A5.75 5.75 0 0 1 534.4 468.65Z" fill="#f890bf" stroke="#333" stroke-width="0.45"/>
<circle cx="542.46" cy="466.87" r="5.75" fill="none" stroke="#f7b9d0" stroke-width="0.45"/>
<path d="M542.46 466.87L542.46 461.12A5.75 5.75 0 0 1 544.24 461.41Z" fill="#fce1ef" stroke="#333" stroke-width="0.45"/>
<circle cx="556" cy="466.87" r="5.75" fill="none" stroke="#f7b9d0" stroke-width="0.45"/>
<path d="M556 466.87L556 461.12A5.75 5.75 0 0 1 561.64 467.95Z" fill="#f895c2" stroke="#333" stroke-width="0.45"/>
<circle cx="569.52" cy="466.87" r="5.75" fill="none" stroke="#f7b9d0" stroke-width="0.45"/>
<path d="M569.52 466.87L569.52 461.12A5.75 5.75 0 0 1 574.99 465.1Z" fill="#f9a7ce" stroke="#333" stroke-width="0.45"/>
<circle cx="583.05" cy="466.87" r="5.75" fill="none" stroke="#f7b9d0" stroke-width="0.45"/>
<path d="M583.05 466.87L583.05 461.12A5.75 5.75 0 0 1 585.83 461.84Z" fill="#fbd0e6" stroke="#333" stroke-width="0.45"/>
<circle cx="596.58" cy="466.87" r="5.75" fill="none" stroke="#f7b9d0" stroke-width="0.45"/>
<path d="M596.58 466.87L596.58 461.12A5.75 5.75 0 0 1 601.24 463.5Z" fill="#f9b2d5" stroke="#333" stroke-width="0.45"/>
<circle cx="528.93" cy="480.4" r="5.75" fill="none" stroke="#f7b9d0" stroke-width="0.45"/>
<path d="M528.93 480.4L528.93 474.65A5.75 5.75 0 0 1 533.97 483.18Z" fill="#f789ba" stroke="#333" stroke-width="0.45"/>
<circle cx="542.46" cy="480.4" r="5.75" fill="none" stroke="#f7b9d0" stroke-width="0.45"/>
<path d="M542.46 480.4L542.46 474.65A5.75 5.75 0 0 1 547.5 477.63Z" fill="#f9add2" stroke="#333" stroke-width="0.45"/>
<circle cx="556" cy="480.4" r="5.75" fill="none" stroke="#b4f2de" stroke-width="0.45"/>
<path d="M556 480.4L556 474.65A5.75 5.75 0 0 0 550.96 477.63Z" fill="#b2f4e1" stroke="#333" stroke-width="0.45"/>
<circle cx="569.52" cy="480.4" r="5.75" fill="none" stroke="#f7b9d0" stroke-width="0.45"/>
<path d="M569.52 480.4L569.52 474.65A5.75 5.75 0 0 1 574.18 477.03Z" fill="#f9b2d5" stroke="#333" stroke-width="0.45"/>
<circle cx="583.05" cy="480.4" r="5.75" fill="none" stroke="#b4f2de" stroke-width="0.45"/>
<path d="M583.05 480.4L583.05 474.65A5.75 5.75 0 0 0 580.28 475.37Z" fill="#d0f9ed" stroke="#333" stroke-width="0.45"/>
<circle cx="596.58" cy="480.4" r="5.75" fill="none" stroke="#f7b9d0" stroke-width="0.45"/>
<path d="M596.58 480.4L596.58 474.65A5.75 5.75 0 0 1 601.24 477.03Z" fill="#f9b2d5" stroke="#333" stroke-width="0.45"/>
<circle cx="542.46" cy="493.93" r="5.75" fill="none" stroke="#f7b9d0" stroke-width="0.45"/>
<path d="M542.46 493.93L542.46 488.18A5.75 5.75 0 0 1 543.54 488.29Z" fill="#fdedf5" stroke="#333" stroke-width="0.45"/>
<circle cx="556" cy="493.93" r="5.75" fill="none" stroke="#f7b9d0" stroke-width="0.45"/>
<path d="M556 493.93L556 488.18A5.75 5.75 0 0 1 557.77 488.47Z" fill="#fce1ef" stroke="#333" stroke-width="0.45"/>
<circle cx="569.52" cy="493.93" r="5.75" fill="none" stroke="#b4f2de" stroke-width="0.45"/>
<path d="M569.52 493.93L569.52 488.18A5.75 5.75 0 0 0 565.59 489.74Z" fill="#b9f6e4" stroke="#333" stroke-width="0.45"/>
<circle cx="583.05" cy="493.93" r="5.75" fill="none" stroke="#b4f2de" stroke-width="0.45"/>
<path d="M583.05 493.93L583.05 488.18A5.75 5.75 0 0 0 577.3 493.93Z" fill="#a7f2dc" stroke="#333" stroke-width="0.45"/>
<circle cx="596.58" cy="493.93" r="5.75" fill="none" stroke="#f7b9d0" stroke-width="0.45"/>
<path d="M596.58 493.93L596.58 488.18A5.75 5.75 0 0 1 598.36 488.47Z" fill="#fce1ef" stroke="#333" stroke-width="0.45"/>
<circle cx="556" cy="507.46" r="5.75" fill="none" stroke="#b4f2de" stroke-width="0.45"/>
<path d="M556 507.46L556 501.71A5.75 5.75 0 0 0 551.56 503.8Z" fill="#b6f5e2" stroke="#333" stroke-width="0.45"/>
<circle cx="569.52" cy="507.46" r="5.75" fill="none" stroke="#f7b9d0" stroke-width="0.45"/>
<path d="M569.52 507.46L569.52 501.71A5.75 5.75 0 0 1 575.17 506.39Z" fill="#f8a2cb" stroke="#333" stroke-width="0.45"/>
<circle cx="583.05" cy="507.46" r="5.75" fill="none" stroke="#f7b9d0" stroke-width="0.45"/>
<path d="M583.05 507.46L583.05 501.71A5.75 5.75 0 0 1 583.42 501.73Z" fill="#fef9fb" stroke="#333" stroke-width="0.45"/>
<circle cx="596.58" cy="507.46" r="5.75" fill="none" stroke="#f7b9d0" stroke-width="0.45"/>
<path d="M596.58 507.46L596.58 501.71A5.75 5.75 0 0 1 597.31 501.76Z" fill="#fef3f8" stroke="#333" stroke-width="0.45"/>
<circle cx="569.52" cy="521" r="5.75" fill="none" stroke="#f7b9d0" stroke-width="0.45"/>
<path d="M569.52 521L569.52 515.24A5.75 5.75 0 0 1 572.3 526.03Z" fill="#f674aa" stroke="#333" stroke-width="0.45"/>
<circle cx="583.05" cy="521" r="5.75" fill="none" stroke="#f7b9d0" stroke-width="0.45"/>
<path d="M583.05 521L583.05 515.24A5.75 5.75 0 0 1 586.43 525.65Z" fill="#f77ab0" stroke="#333" stroke-width="0.45"/>
<circle cx="596.58" cy="521" r="5.75" fill="none" stroke="#f7b9d0" stroke-width="0.45"/>
<path d="M596.58 521L596.58 515.24A5.75 5.75 0 0 1 601.62 518.22Z" fill="#f9add2" stroke="#333" stroke-width="0.45"/>
<circle cx="583.05" cy="534.52" r="5.75" fill="none" stroke="#f7b9d0" stroke-width="0.45"/>
<path d="M583.05 534.52L583.05 528.77A5.75 5.75 0 0 1 588.7 535.6Z" fill="#f895c2" stroke="#333" stroke-width="0.45"/>
<circle cx="596.58" cy="534.52" r="5.75" fill="none" stroke="#f7b9d0" stroke-width="0.45"/>
<path d="M596.58 534.52L596.58 528.77A5.75 5.75 0 0 1 599.36 529.49Z" fill="#fbd0e6" stroke="#333" stroke-width="0.45"/>
<circle cx="596.58" cy="548.05" r="5.75" fill="none" stroke="#f7b9d0" stroke-width="0.45"/>
<path d="M596.58 548.05L596.58 542.3A5.75 5.75 0 0 1 602.23 549.13Z" fill="#f895c2" stroke="#333" stroke-width="0.45"/>
<text x="398.4" y="373.56" font-size="6.5" text-anchor="end" fill="#f41f2c">NTRK2</text>
<text x="410.06" y="363" font-size="6.6" fill="#f41f2c" transform="rotate(-90 410.06 363)">NTRK2</text>
<text x="411.93" y="387.09" font-size="6.5" text-anchor="end" fill="#f41f2c">STAT3</text>
<text x="423.59" y="363" font-size="6.6" fill="#f41f2c" transform="rotate(-90 423.59 363)">STAT3</text>
<text x="425.46" y="400.62" font-size="6.5" text-anchor="end" fill="#f41f2c">SIK1</text>
<text x="437.12" y="363" font-size="6.6" fill="#f41f2c" transform="rotate(-90 437.12 363)">SIK1</text>
<text x="438.99" y="414.15" font-size="6.5" text-anchor="end" fill="#f41f2c">AKT1</text>
<text x="450.65" y="363" font-size="6.6" fill="#f41f2c" transform="rotate(-90 450.65 363)">AKT1</text>
<text x="452.52" y="427.68" font-size="6.5" text-anchor="end" fill="#f41f2c">EGFR</text>
<text x="464.18" y="363" font-size="6.6" fill="#f41f2c" transform="rotate(-90 464.18 363)">EGFR</text>
<text x="466.05" y="441.21" font-size="6.5" text-anchor="end" fill="#f41f2c">DAPK2</text>
<text x="477.71" y="363" font-size="6.6" fill="#f41f2c" transform="rotate(-90 477.71 363)">DAPK2</text>
<text x="479.58" y="454.74" font-size="6.5" text-anchor="end" fill="#f41f2c">CASP8</text>
<text x="491.24" y="363" font-size="6.6" fill="#f41f2c" transform="rotate(-90 491.24 363)">CASP8</text>
<text x="493.11" y="468.27" font-size="6.5" text-anchor="end" fill="#f41f2c">PTK2</text>
<text x="504.77" y="363" font-size="6.6" fill="#f41f2c" transform="rotate(-90 504.77 363)">PTK2</text>
<text x="506.64" y="481.8" font-size="6.5" text-anchor="end" fill="#f41f2c">BRMS1</text>
<text x="518.3" y="363" font-size="6.6" fill="#f41f2c" transform="rotate(-90 518.3 363)">BRMS1</text>
<text x="520.17" y="495.33" font-size="6.5" text-anchor="end" fill="#f41f2c">PTRH2</text>
<text x="531.83" y="363" font-size="6.6" fill="#f41f2c" transform="rotate(-90 531.83 363)">PTRH2</text>
<text x="533.7" y="508.86" font-size="6.5" text-anchor="end" fill="#f41f2c">TLE1</text>
<text x="545.36" y="363" font-size="6.6" fill="#f41f2c" transform="rotate(-90 545.36 363)">TLE1</text>
<text x="547.23" y="522.39" font-size="6.5" text-anchor="end" fill="#f41f2c">ITGB1</text>
<text x="558.89" y="363" font-size="6.6" fill="#f41f2c" transform="rotate(-90 558.89 363)">ITGB1</text>
<text x="560.76" y="535.92" font-size="6.5" text-anchor="end" fill="#f41f2c">CTNNB1</text>
<text x="572.42" y="363" font-size="6.6" fill="#f41f2c" transform="rotate(-90 572.42 363)">CTNNB1</text>
<text x="574.29" y="549.45" font-size="6.5" text-anchor="end" fill="#f41f2c">BCL2L11</text>
<text x="585.95" y="363" font-size="6.6" fill="#f41f2c" transform="rotate(-90 585.95 363)">BCL2L11</text>
<text x="587.82" y="562.98" font-size="6.5" text-anchor="end" fill="#f41f2c">CEACAM5</text>
<text x="599.48" y="363" font-size="6.6" fill="#f41f2c" transform="rotate(-90 599.48 363)">CEACAM5</text>
<defs><linearGradient id="cbD" x1="0" y1="0" x2="0" y2="1"><stop offset="0" stop-color="#fb0a1e"/><stop offset="0.15" stop-color="#f53c72"/><stop offset="0.3" stop-color="#f77aa8"/><stop offset="0.42" stop-color="#fbc6dc"/><stop offset="0.5" stop-color="#ffffff"/><stop offset="0.65" stop-color="#cdf5e9"/><stop offset="1" stop-color="#6ee8c4"/></linearGradient></defs>
<rect x="606.8" y="364.9" width="8.3" height="203.3" fill="url(#cbD)" stroke="#9aa" stroke-width="0.4"/>
<path d="M615.1 365h1.2" stroke="#666" stroke-width="0.4"/>
<text x="619" y="366.7" font-size="4.8" fill="#333">1</text>
<path d="M615.1 385.25h1.2" stroke="#666" stroke-width="0.4"/>
<text x="619" y="386.95" font-size="4.8" fill="#333">0.8</text>
<path d="M615.1 405.5h1.2" stroke="#666" stroke-width="0.4"/>
<text x="619" y="407.2" font-size="4.8" fill="#333">0.6</text>
<path d="M615.1 425.75h1.2" stroke="#666" stroke-width="0.4"/>
<text x="619" y="427.45" font-size="4.8" fill="#333">0.4</text>
<path d="M615.1 446h1.2" stroke="#666" stroke-width="0.4"/>
<text x="619" y="447.7" font-size="4.8" fill="#333">0.2</text>
<path d="M615.1 466.25h1.2" stroke="#666" stroke-width="0.4"/>
<text x="619" y="467.95" font-size="4.8" fill="#333">0</text>
<path d="M615.1 486.5h1.2" stroke="#666" stroke-width="0.4"/>
<text x="619" y="488.2" font-size="4.8" fill="#333">−0.2</text>
<path d="M615.1 506.75h1.2" stroke="#666" stroke-width="0.4"/>
<text x="619" y="508.45" font-size="4.8" fill="#333">−0.4</text>
<path d="M615.1 527h1.2" stroke="#666" stroke-width="0.4"/>
<text x="619" y="528.7" font-size="4.8" fill="#333">−0.6</text>
<path d="M615.1 547.25h1.2" stroke="#666" stroke-width="0.4"/>
<text x="619" y="548.95" font-size="4.8" fill="#333">−0.8</text>
<path d="M615.1 567.5h1.2" stroke="#666" stroke-width="0.4"/>
<text x="619" y="569.2" font-size="4.8" fill="#333">−1</text>
<path d="M17.1 703.2V847.1H307.7" stroke="#333" stroke-width="0.9" fill="none"/>
<path d="M14.9 821.5h2.2" stroke="#333" stroke-width="0.8"/>
<text x="13.6" y="824" font-size="7" text-anchor="end" fill="#333">4</text>
<path d="M14.9 781h2.2" stroke="#333" stroke-width="0.8"/>
<text x="13.6" y="783.5" font-size="7" text-anchor="end" fill="#333">6</text>
<path d="M14.9 740.5h2.2" stroke="#333" stroke-width="0.8"/>
<text x="13.6" y="743" font-size="7" text-anchor="end" fill="#333">8</text>
<text x="6.5" y="774.6" font-size="7.4" text-anchor="middle" transform="rotate(-90 6.5 774.6)">Gene expression</text>
<path d="M25.2 847.1v2.2" stroke="#333" stroke-width="0.8"/>
<rect x="19.15" y="799.8" width="6.2" height="5.1" fill="#68f0c6" fill-opacity="0.18" stroke="#68f0c6" stroke-opacity="0.75" stroke-width="0.7"/>
<path d="M22.25 794V799.8M22.25 804.9V812.4" stroke="#68f0c6" stroke-opacity="0.75" stroke-width="0.7"/>
<path d="M22.36 798.72h0M21.77 801.32h0M21.96 803.94h0M22.62 802.65h0M22.4 799.76h0M22.28 797.12h0M22.44 796.43h0M22.03 802.62h0M22.65 797.11h0M22.49 800.78h0M22.58 801.27h0M22.73 794.44h0M21.85 795.79h0M22.39 806.45h0M22.26 801.45h0M22.34 799.27h0M22.72 806.55h0M22.44 812.23h0M22.65 806.54h0M22.33 810.65h0M22.33 804.14h0M21.77 809.54h0M21.8 812.21h0M21.87 801.55h0M21.75 803.29h0M21.75 794.44h0M22.78 798.41h0M22.8 809.42h0M21.73 807.05h0M22.15 804.82h0M22.65 802.99h0M22.75 803.31h0M22.21 800.95h0M22.32 799.09h0M22.73 798.2h0M21.96 796.66h0M22.78 804.97h0M22.16 801.78h0M21.72 802.17h0M22.39 801.42h0M22.45 801.33h0M21.72 800.63h0M22.44 796.16h0M22.2 798.62h0M22.04 800.76h0M22.36 805.73h0M21.73 797.51h0M22.51 807.06h0M21.96 803.57h0M22.18 809.33h0M22.25 794h0M22.25 812.4h0" stroke="#68f0c6" stroke-width="2.6" stroke-linecap="round" fill="none"/>
<path d="M19.15 802.3h6.2" stroke="#68f0c6" stroke-opacity="0.8" stroke-width="1.0"/>
<rect x="25.05" y="796.5" width="6.2" height="6.7" fill="#c97cf2" fill-opacity="0.18" stroke="#c97cf2" stroke-opacity="0.75" stroke-width="0.7"/>
<path d="M28.15 783.9V796.5M28.15 803.2V809.9" stroke="#c97cf2" stroke-opacity="0.75" stroke-width="0.7"/>
<path d="M27.97 803.49h0M28.54 795.3h0M27.97 802.56h0M27.85 804.08h0M28.18 796.11h0M27.8 803.29h0M28.49 790.63h0M27.74 801.49h0M28.47 795.4h0M28.06 796.8h0M28.61 804.25h0M28.57 809.9h0M28.65 795.19h0M28.42 789.67h0M28.17 801.14h0M27.98 800.21h0M27.92 806.1h0M28.59 785.07h0M28.62 802.7h0M28.23 807.29h0M27.93 799.76h0M28.18 796.69h0M27.98 806.43h0M28.55 797.2h0M27.82 800.82h0M28.5 795.15h0M28.49 802.86h0M28.29 784.1h0M27.9 785.2h0M28.18 788.61h0M27.6 791.06h0M27.74 801.36h0M28.54 809.9h0M28.15 805.67h0M28.31 797.96h0M28 804.26h0M28.21 798.59h0M28.02 802.18h0M28.26 802.01h0M28.48 793.79h0M28.07 804.34h0M28.06 791.82h0M28.11 800.04h0M27.68 792.11h0M28.07 798.08h0M28.01 808.25h0M27.89 804.46h0M28.33 806.6h0M28.33 804.5h0M28.22 806.45h0M27.76 799.41h0M27.7 785.05h0M28.57 799.58h0M27.73 809.64h0M28.52 801.41h0M28.48 798.96h0M28.44 801.3h0M28.42 799.32h0M27.96 785.49h0M28.51 797.46h0M28.28 801.52h0M28 794.14h0M27.99 803.38h0M28.67 805.11h0M28.42 802.88h0M28.34 796.71h0M28.15 783.9h0M28.15 809.9h0" stroke="#c97cf2" stroke-width="2.6" stroke-linecap="round" fill="none"/>
<path d="M25.05 799.3h6.2" stroke="#c97cf2" stroke-opacity="0.8" stroke-width="1.0"/>
<text x="25.2" y="709.4" font-size="6.4" text-anchor="middle" fill="#333">***</text>
<text x="0" y="0" font-size="7.6" text-anchor="end" fill="#333" transform="translate(30.2 853.2) rotate(-60)">BRMS1</text>
<path d="M39.62 847.1v2.2" stroke="#333" stroke-width="0.8"/>
<rect x="33.57" y="793.6" width="6.2" height="7.1" fill="#68f0c6" fill-opacity="0.18" stroke="#68f0c6" stroke-opacity="0.75" stroke-width="0.7"/>
<path d="M36.67 764.6V793.6M36.67 800.7V808.2" stroke="#68f0c6" stroke-opacity="0.75" stroke-width="0.7"/>
<path d="M36.65 788.6h0M36.23 799.63h0M37.13 795.28h0M36.32 789h0M36.34 800.2h0M36.88 795.58h0M36.9 777.5h0M37.06 800.8h0M36.15 796.74h0M36.54 800.95h0M36.97 794.07h0M37.21 800.85h0M37.04 792.16h0M36.65 788.89h0M37.06 793.57h0M36.63 795.72h0M36.38 783.35h0M37.06 790.92h0M36.33 784.85h0M37.06 800.43h0M37.07 775.72h0M36.59 805.02h0M37.04 799.22h0M36.51 798.39h0M36.49 796.86h0M36.65 796.58h0M36.55 785.43h0M36.25 790.21h0M37.1 795.8h0M37.16 768.83h0M36.97 794.85h0M36.86 777.49h0M36.95 798.63h0M36.71 793.94h0M36.66 793.12h0M36.74 795.51h0M36.83 789.09h0M36.84 802.09h0M37.15 807.5h0M36.78 792.88h0M36.83 804.75h0M36.2 795.85h0M36.95 800.29h0M36.41 796.81h0M37.08 792.01h0M36.97 793.04h0M36.49 797.03h0M36.51 788.08h0M36.42 769.49h0M36.24 794.73h0M36.32 796.31h0M37.02 789.35h0M36.77 801.65h0M36.7 794.27h0M36.34 799.28h0M37 797.42h0M36.54 805.99h0M36.76 795.83h0M36.45 805.38h0M36.78 785.71h0M36.12 795.95h0M36.66 793.46h0M36.7 793.68h0M36.67 798.03h0M37.17 790.52h0M36.99 770.51h0M36.18 799.57h0M36.71 797.38h0M37.08 778.69h0M36.27 799.34h0M37.14 790.81h0M37.01 796.83h0M36.6 802.16h0M36.24 785.75h0M36.21 792.15h0M36.89 800.55h0M36.58 802.57h0M36.95 795.1h0M36.32 802.9h0M36.52 795.98h0M36.37 789.92h0M36.35 795.8h0M36.63 770.86h0M36.56 798h0M36.15 800.38h0M36.19 800.27h0M36.61 802.67h0M36.56 796.64h0M36.15 795.46h0M36.22 774.14h0M36.5 801.04h0M36.18 803.71h0M36.63 795.64h0M36.39 777.7h0M37.02 806.65h0M36.87 795.79h0M36.12 790.42h0M36.22 799.16h0M36.84 798.92h0M37.19 773.35h0M37 797.56h0M36.67 764.6h0M36.67 808.2h0" stroke="#68f0c6" stroke-width="2.6" stroke-linecap="round" fill="none"/>
<path d="M33.57 797h6.2" stroke="#68f0c6" stroke-opacity="0.8" stroke-width="1.0"/>
<rect x="39.47" y="778.9" width="6.2" height="14.7" fill="#c97cf2" fill-opacity="0.18" stroke="#c97cf2" stroke-opacity="0.75" stroke-width="0.7"/>
<path d="M42.57 753.7V778.9M42.57 793.6V809" stroke="#c97cf2" stroke-opacity="0.75" stroke-width="0.7"/>
<path d="M42.06 805.69h0M42.12 764.83h0M42.95 769.21h0M42.77 778.4h0M42.83 763.36h0M42.94 792.76h0M42.48 795.77h0M42.88 781.29h0M42.81 785.41h0M42.8 793.1h0M42.8 779.73h0M42.53 786.78h0M42.13 791.16h0M42.99 795.25h0M43.01 778.58h0M42.39 772.76h0M43.07 796.52h0M42.65 791.24h0M42.28 800.55h0M42.19 794.21h0M42.27 784.76h0M42.64 765.87h0M42.88 785.36h0M42.23 789.62h0M42.11 772.66h0M42.05 759.92h0M43 764.72h0M42.93 778.41h0M42.73 787.99h0M42.4 801.91h0M42.94 781.08h0M42.92 788.09h0M42.82 774h0M42.4 783.17h0M42.83 799.17h0M42.73 792.48h0M43.12 788.6h0M42.49 796.49h0M43.04 787.61h0M42.98 792.91h0M43.04 787.55h0M43.01 762.26h0M42.87 780.48h0M43.12 799.69h0M43.05 769.85h0M42.34 801.17h0M42.72 796.51h0M42.5 785.98h0M42.84 777.17h0M42.35 785.02h0M42.11 791.39h0M43.09 787.65h0M42.43 802.15h0M42.36 768.75h0M42.42 772.3h0M42.53 769.47h0M42.35 798.33h0M42.91 783.96h0M42.61 795.68h0M42.08 796.48h0M43.1 787.84h0M42.06 807.85h0M42.03 773.69h0M42.62 784.32h0M42.36 789.37h0M42.31 790.04h0M42.49 775.11h0M42.91 774.95h0M42.17 763.99h0M42.58 797.36h0M42.33 784.22h0M43.01 802.39h0M42.75 779.55h0M42.68 798.71h0M42.59 787.99h0M43.11 793.27h0M42.47 801.91h0M42.52 766.68h0M42.37 762.29h0M42.47 791.95h0M43.04 799.47h0M42.62 800.76h0M42.33 789.07h0M42.76 790.72h0M42.59 783.48h0M42.73 806.81h0M42.44 792.53h0M42.32 771.19h0M42.37 805.89h0M42.33 782.83h0M42.11 786.21h0M42.24 809h0M42.94 767.86h0M42.92 783.19h0M42.1 780.46h0M42.55 809h0M42.28 782.88h0M43.02 761.68h0M43.11 785.25h0M42.08 782.47h0M42.23 763.44h0M42.07 802.08h0M42.44 783.27h0M42.45 781.25h0M42.16 769.23h0M43.03 793.61h0M42.23 793.79h0M43.1 808.83h0M42.55 769.32h0M42.36 808.25h0M42.88 775.66h0M42.53 801.76h0M42.94 773.18h0M42.67 791.21h0M42.22 800.61h0M42.2 800.15h0M43.1 787.35h0M42.98 789.82h0M42.89 808.99h0M42.6 791.61h0M42.61 758.82h0M42.18 788.24h0M42.43 780.29h0M42.41 798.29h0M42.57 753.7h0M42.57 809h0" stroke="#c97cf2" stroke-width="2.6" stroke-linecap="round" fill="none"/>
<path d="M39.47 787.6h6.2" stroke="#c97cf2" stroke-opacity="0.8" stroke-width="1.0"/>
<text x="39.62" y="709.4" font-size="6.4" text-anchor="middle" fill="#333">***</text>
<text x="0" y="0" font-size="7.6" text-anchor="end" fill="#333" transform="translate(44.62 853.2) rotate(-60)">PTK2</text>
<path d="M54.04 847.1v2.2" stroke="#333" stroke-width="0.8"/>
<rect x="47.99" y="818.3" width="6.2" height="7.5" fill="#68f0c6" fill-opacity="0.18" stroke="#68f0c6" stroke-opacity="0.75" stroke-width="0.7"/>
<path d="M51.09 793V818.3M51.09 825.8V830.9" stroke="#68f0c6" stroke-opacity="0.75" stroke-width="0.7"/>
<path d="M51.49 830.9h0M51.61 803.87h0M50.68 820.4h0M51.25 821.46h0M51.6 816.81h0M51.5 815.01h0M51.03 813.03h0M50.62 823.03h0M50.61 827.8h0M51.62 807.55h0M50.78 813.87h0M51.49 826.62h0M50.94 817.96h0M50.95 816.23h0M51.5 821.85h0M50.95 824.52h0M50.69 825.28h0M50.57 820.03h0M51.55 826.3h0M51.46 821.19h0M51.29 809.73h0M51.51 811.25h0M50.86 810.07h0M51.45 823.92h0M50.93 823.24h0M51.46 822.75h0M51.1 821.18h0M51.23 827.71h0M51.62 819.65h0M50.63 823.07h0M50.61 822.45h0M51.07 804.18h0M50.9 830.56h0M51.18 815.4h0M50.97 800.65h0M51.57 821.21h0M51.17 821.01h0M51.48 822.77h0M50.85 828.5h0M51.12 818.07h0M50.69 818.33h0M51.22 830.9h0M51.48 823.53h0M50.76 809.48h0M50.75 817.5h0M51.45 801.19h0M51.54 797.54h0M50.77 824.09h0M50.96 828.64h0M50.6 824.57h0M50.97 823.64h0M51.3 822.03h0M50.66 826.56h0M50.81 815.09h0M50.78 824.69h0M51.37 819.28h0M51.13 819.77h0M50.6 817.73h0M51.08 825.58h0M50.84 817.56h0M50.78 818.99h0M50.92 830.37h0M50.74 811.31h0M51.18 817.09h0M51.12 829.99h0M51.13 811.11h0M51.08 809.93h0M50.64 823.79h0M50.87 813.94h0M51.14 826.53h0M51.36 824.68h0M50.55 818.57h0M51.07 821.55h0M50.81 816.71h0M50.66 816.79h0M50.89 819.87h0M50.76 824.75h0M51.17 827.16h0M50.76 828.28h0M50.72 824.28h0M51.5 809.34h0M50.98 819h0M51.58 821.22h0M51.58 826.99h0M51.6 817.93h0M51.17 823.86h0M51.62 823.33h0M51.53 820.8h0M51.31 825.94h0M51.09 793h0M51.09 830.9h0" stroke="#68f0c6" stroke-width="2.6" stroke-linecap="round" fill="none"/>
<path d="M47.99 822.5h6.2" stroke="#68f0c6" stroke-opacity="0.8" stroke-width="1.0"/>
<rect x="53.89" y="818.3" width="6.2" height="10.9" fill="#c97cf2" fill-opacity="0.18" stroke="#c97cf2" stroke-opacity="0.75" stroke-width="0.7"/>
<path d="M56.99 789V818.3M56.99 829.2V832.5" stroke="#c97cf2" stroke-opacity="0.75" stroke-width="0.7"/>
<path d="M56.94 798.8h0M57.28 803.21h0M57 820.45h0M57.4 817.99h0M56.91 810.97h0M57.04 800.2h0M56.87 823.42h0M56.67 829.53h0M57.49 810.96h0M56.85 820.64h0M57.05 832.5h0M56.61 828.71h0M56.97 821.17h0M56.6 821.06h0M56.62 818.17h0M57.13 813.8h0M56.45 795.01h0M56.94 825.58h0M56.73 815.58h0M56.44 815.61h0M56.48 822.12h0M56.8 818.88h0M57.32 793.42h0M57.17 826.85h0M56.69 815.2h0M56.69 826.14h0M56.55 816.41h0M57.1 814.3h0M56.47 819.1h0M57.07 820.81h0M57.28 828.45h0M57.01 816.59h0M56.78 812.1h0M56.55 826.47h0M57.13 814.32h0M56.58 814.26h0M56.84 796.32h0M56.99 794.31h0M56.9 824.03h0M56.96 832.5h0M57.44 819.39h0M57.18 807.42h0M56.78 816.77h0M57.13 824.96h0M57.5 826.2h0M56.53 823.19h0M57 809.67h0M56.53 820.98h0M56.45 802.35h0M57.18 822.07h0M57.22 807.34h0M57.1 816.49h0M56.78 829.69h0M56.72 823.27h0M57.16 832.5h0M56.66 832.5h0M56.5 821.19h0M56.71 813.81h0M56.55 817.91h0M57.41 817.31h0M56.81 823.69h0M57.27 832.5h0M57.24 827.14h0M56.66 824.9h0M57.15 829.67h0M56.97 832.5h0M56.99 832.42h0M57.15 826.34h0M57.45 831.75h0M57.22 832.5h0M57.29 795h0M57.09 794.31h0M57.38 801.75h0M56.6 807.93h0M57.35 814.23h0M57.46 820.11h0M56.46 832.06h0M56.86 802.79h0M56.53 801.26h0M56.68 799.61h0M57.43 798.98h0M57.04 821.83h0M56.88 829.27h0M57.47 818.99h0M56.52 824.66h0M56.66 832.5h0M57.45 832.5h0M56.57 820.16h0M56.73 832.5h0M57.48 830.04h0M57.17 830.15h0M57.43 820.37h0M57.09 816.88h0M56.58 832.5h0M56.82 832.5h0M56.8 826.37h0M56.89 819.48h0M56.76 832.5h0M57.28 825.36h0M56.57 814.9h0M56.86 829.26h0M56.99 789h0M56.99 832.5h0" stroke="#c97cf2" stroke-width="2.6" stroke-linecap="round" fill="none"/>
<path d="M53.89 825h6.2" stroke="#c97cf2" stroke-opacity="0.8" stroke-width="1.0"/>
<text x="54.04" y="709.4" font-size="6.4" text-anchor="middle" fill="#333">*</text>
<text x="0" y="0" font-size="7.6" text-anchor="end" fill="#333" transform="translate(59.04 853.2) rotate(-60)">NTRK2</text>
<path d="M68.46 847.1v2.2" stroke="#333" stroke-width="0.8"/>
<rect x="62.41" y="800.7" width="6.2" height="6.7" fill="#68f0c6" fill-opacity="0.18" stroke="#68f0c6" stroke-opacity="0.75" stroke-width="0.7"/>
<path d="M65.51 793V800.7M65.51 807.4V813.2" stroke="#68f0c6" stroke-opacity="0.75" stroke-width="0.7"/>
<path d="M65.89 799.24h0M64.97 800.88h0M65.49 807.81h0M65.75 798.49h0M66.04 805.8h0M65.83 806.18h0M65.05 801.67h0M65.92 809.33h0M65.38 794.07h0M65.79 795.61h0M66.06 803.71h0M65.92 794.87h0M65.06 813.2h0M65.87 809.32h0M65.19 803.4h0M65 802.99h0M65.74 807.36h0M65.64 802.68h0M64.98 807.1h0M65.2 793h0M65.1 800.96h0M65.53 801.99h0M65.84 809.5h0M65.22 798.68h0M65.95 810.35h0M65.73 799.24h0M65.33 808.04h0M65.29 808.69h0M65.61 811.55h0M66.01 800.41h0M65.35 804.54h0M65.36 806.37h0M65.46 806.13h0M65.5 798.32h0M65.5 799.79h0M65.82 796.88h0M65.49 805.22h0M65.74 802.42h0M65.58 803.83h0M64.96 806.79h0M65.46 808.08h0M65.28 813.2h0M64.96 807.01h0M65.5 796.96h0M65.28 805.17h0M65.6 799.68h0M65.34 808h0M65.57 799.23h0M64.97 799.41h0M65.13 802.96h0M65.22 808.09h0M65.66 798.59h0M66.06 804.08h0M65.27 800.33h0M65.51 793h0M65.51 813.2h0" stroke="#68f0c6" stroke-width="2.6" stroke-linecap="round" fill="none"/>
<path d="M62.41 803.2h6.2" stroke="#68f0c6" stroke-opacity="0.8" stroke-width="1.0"/>
<rect x="68.31" y="798.2" width="6.2" height="7.5" fill="#c97cf2" fill-opacity="0.18" stroke="#c97cf2" stroke-opacity="0.75" stroke-width="0.7"/>
<path d="M71.41 790.6V798.2M71.41 805.7V818.3" stroke="#c97cf2" stroke-opacity="0.75" stroke-width="0.7"/>
<path d="M71.5 808.86h0M71.33 793.83h0M71.79 814.1h0M71.54 809.95h0M71.2 797.99h0M71.06 806.58h0M71.68 793.24h0M71.62 808.95h0M71.15 791.78h0M71.33 795.18h0M71.88 808.82h0M71.25 795.43h0M71.27 801.85h0M71.54 791.35h0M71.57 802h0M71.07 801.9h0M71.83 790.6h0M71.82 804.34h0M71.77 795.18h0M71.7 818.05h0M71.09 804.22h0M71.77 806.51h0M71.19 810.03h0M71.28 808.95h0M71.43 794.34h0M71.94 805.21h0M71.17 811.62h0M71.58 800.68h0M71.65 791.3h0M71.35 796.57h0M71.69 807.45h0M71.49 793.68h0M71.5 808.8h0M71.73 791.47h0M71.54 797.65h0M71.44 799.44h0M71.38 811.43h0M71.44 801.26h0M71.8 797.61h0M70.95 811.65h0M71.48 790.93h0M71.84 807.57h0M71.21 804.15h0M71.85 800.45h0M70.94 815.56h0M71.71 809.17h0M71.51 790.97h0M71.69 798.82h0M71.55 806.65h0M71.93 790.6h0M71.08 811.78h0M71.05 802.98h0M71.94 795.28h0M71.85 798.23h0M71.72 796.34h0M71.63 802.26h0M71.19 803.69h0M71.35 796.06h0M71.41 794.88h0M71.12 811.63h0M70.93 799.86h0M71.76 807.83h0M70.94 813.82h0M70.98 801.03h0M71.8 814.92h0M71.82 805.97h0M71.47 801h0M71.13 804.42h0M70.99 802.33h0M71.41 790.6h0M71.41 818.3h0" stroke="#c97cf2" stroke-width="2.6" stroke-linecap="round" fill="none"/>
<path d="M68.31 801.5h6.2" stroke="#c97cf2" stroke-opacity="0.8" stroke-width="1.0"/>
<text x="68.46" y="709.4" font-size="6.4" text-anchor="middle" fill="#333">*</text>
<text x="0" y="0" font-size="7.6" text-anchor="end" fill="#333" transform="translate(73.46 853.2) rotate(-60)">BCL2L11</text>
<path d="M82.88 847.1v2.2" stroke="#333" stroke-width="0.8"/>
<rect x="76.83" y="776.3" width="6.2" height="12.6" fill="#68f0c6" fill-opacity="0.18" stroke="#68f0c6" stroke-opacity="0.75" stroke-width="0.7"/>
<path d="M79.93 760.4V776.3M79.93 788.9V802.3" stroke="#68f0c6" stroke-opacity="0.75" stroke-width="0.7"/>
<path d="M80.19 784.56h0M80.35 769.88h0M79.52 771.61h0M80.26 797.68h0M79.64 778.78h0M80.2 779.75h0M80.45 784.75h0M80.28 781.56h0M79.9 800.39h0M79.5 777.81h0M79.45 785.22h0M79.45 773.64h0M79.41 800.3h0M80.07 775.38h0M80.17 794.85h0M79.66 760.4h0M80.19 776.33h0M80.02 780.69h0M79.66 778.69h0M79.61 778.55h0M80.44 791.99h0M80.42 780.5h0M79.59 782.86h0M80.02 767.92h0M80.25 771.22h0M80.15 766.41h0M80.41 764.68h0M79.79 794.97h0M80.03 802.3h0M80.46 771.06h0M80.25 787.29h0M80.2 779.46h0M80.44 763.74h0M79.67 769.78h0M80.3 788.37h0M80.33 786.62h0M79.93 789.96h0M79.71 788.55h0M80.25 775.69h0M80.03 778.56h0M79.95 793.26h0M79.79 785.52h0M79.55 793.26h0M79.5 792.27h0M80.15 780.16h0M79.77 772.42h0M80.42 793.03h0M80.07 786.72h0M80.03 773.69h0M80.21 771.77h0M79.42 776.48h0M80.46 760.4h0M79.46 787.88h0M79.39 770.96h0M80.4 773.07h0M79.82 766.12h0M79.46 782.81h0M80.32 778.27h0M79.99 777.93h0M80.42 792.05h0M79.65 763.53h0M80.3 785.51h0M79.79 796.62h0M79.49 771.29h0M79.76 778.94h0M79.52 785.57h0M80.07 802.1h0M79.59 772.84h0M80 797.98h0M80.38 782.46h0M80.29 789.08h0M79.5 794.55h0M79.76 766.94h0M80.21 793.59h0M79.39 788.45h0M79.43 799.38h0M80.37 774.74h0M79.87 777.1h0M80.32 796.27h0M79.59 798.52h0M80 772.8h0M79.6 777.33h0M79.5 775.77h0M80.12 781.8h0M80.3 787.77h0M80.38 789.61h0M79.87 787.46h0M79.54 778.93h0M79.62 774.64h0M79.73 791.63h0M79.84 763.79h0M79.66 784.37h0M79.53 764.94h0M79.69 764.81h0M80.26 789.75h0M79.48 796.82h0M79.54 784.16h0M79.93 760.4h0M79.93 802.3h0" stroke="#68f0c6" stroke-width="2.6" stroke-linecap="round" fill="none"/>
<path d="M76.83 781.9h6.2" stroke="#68f0c6" stroke-opacity="0.8" stroke-width="1.0"/>
<rect x="82.73" y="772.1" width="6.2" height="14.3" fill="#c97cf2" fill-opacity="0.18" stroke="#c97cf2" stroke-opacity="0.75" stroke-width="0.7"/>
<path d="M85.83 745V772.1M85.83 786.4V807.4" stroke="#c97cf2" stroke-opacity="0.75" stroke-width="0.7"/>
<path d="M85.58 786.43h0M86.05 769.53h0M85.84 779.93h0M86 789.92h0M85.52 787.71h0M85.42 773.48h0M85.77 787.71h0M86.12 805.32h0M85.64 771.57h0M85.51 778.73h0M86.1 789.39h0M85.95 767.54h0M85.31 783.42h0M85.66 773.87h0M85.67 792.21h0M85.69 768.32h0M85.91 783.8h0M85.6 780.26h0M85.37 772.93h0M85.34 765.8h0M86 801.19h0M85.54 765.08h0M85.3 768.32h0M85.75 790.5h0M85.94 784.36h0M85.78 769.44h0M85.83 791.76h0M85.55 783.51h0M85.49 766.8h0M85.67 768.25h0M85.52 777.78h0M85.93 775.4h0M86.36 776.46h0M86.05 753.19h0M86.28 796.44h0M86.36 784.73h0M86.02 793.7h0M85.61 792.97h0M85.88 762.5h0M86.21 766.06h0M85.87 796.66h0M85.42 785.99h0M85.59 784.03h0M85.94 798.05h0M86.24 777.61h0M85.76 774.54h0M85.6 769.88h0M85.31 771.86h0M85.37 781.8h0M85.86 768.32h0M86.07 774.3h0M86.21 779.3h0M85.97 778.87h0M85.94 779.21h0M86.2 768.56h0M86.11 757.55h0M85.49 759.8h0M85.42 805.09h0M85.57 803.03h0M86.15 763.55h0M86 773.66h0M85.6 780.23h0M86.38 786.43h0M86.27 783.84h0M86.32 786.5h0M86.18 806.86h0M86.12 787.34h0M85.32 771.78h0M85.93 788h0M85.55 779.98h0M85.93 770.92h0M85.56 749.39h0M86.3 789.56h0M85.28 768.08h0M85.97 765.74h0M86.1 762.46h0M86.08 777.81h0M85.45 787.46h0M85.93 769.59h0M86.16 784.95h0M86.24 774.85h0M85.31 778.06h0M86.08 780.27h0M85.87 757.16h0M85.51 745h0M86.22 750.51h0M86.09 774.46h0M85.72 799.77h0M86.17 785.79h0M85.5 779.63h0M86.08 768.39h0M85.35 747.67h0M85.49 783.87h0M85.89 796.49h0M85.84 786.47h0M85.72 769.92h0M85.88 796.81h0M85.96 773.89h0M86.27 791.64h0M86.36 785.34h0M85.58 798.09h0M86.26 779.06h0M85.92 795.24h0M86.2 783.37h0M86.19 759.21h0M85.29 780.85h0M86.29 772.51h0M86.05 769.84h0M86.29 762.14h0M85.83 761.47h0M85.36 750.62h0M86.08 776.56h0M86.17 773.82h0M86.04 759.36h0M86.23 788.85h0M86.23 783.3h0M86.31 786.26h0M85.8 784.91h0M86.15 787.77h0M85.5 774.85h0M85.87 779.03h0M85.39 793.28h0M85.31 786.09h0M85.68 795.29h0M85.64 772.6h0M85.85 762.14h0M86.37 799.88h0M86.33 790.76h0M85.42 768.02h0M86.11 783.1h0M86.04 785.97h0M85.55 773.82h0M85.87 773.22h0M86.33 772.96h0M85.94 785.28h0M86.28 790.86h0M85.5 766.85h0M85.78 778.6h0M85.83 745h0M85.83 807.4h0M85.83 730.2h0" stroke="#c97cf2" stroke-width="2.6" stroke-linecap="round" fill="none"/>
<path d="M82.73 781.4h6.2" stroke="#c97cf2" stroke-opacity="0.8" stroke-width="1.0"/>
<text x="0" y="0" font-size="7.6" text-anchor="end" fill="#333" transform="translate(87.88 853.2) rotate(-60)">SRC</text>
<path d="M97.3 847.1v2.2" stroke="#333" stroke-width="0.8"/>
<rect x="91.25" y="815.8" width="6.2" height="5" fill="#68f0c6" fill-opacity="0.18" stroke="#68f0c6" stroke-opacity="0.75" stroke-width="0.7"/>
<path d="M94.35 805.7V815.8M94.35 820.8V825" stroke="#68f0c6" stroke-opacity="0.75" stroke-width="0.7"/>
<path d="M94.87 819.94h0M94.21 807.15h0M93.9 807.3h0M94.28 822.72h0M94.77 817.16h0M94.8 818.97h0M94.13 817.4h0M94.21 820.54h0M94.73 825h0M94.3 812.49h0M94.67 820.38h0M94.73 813.46h0M93.8 817.92h0M94.49 820.08h0M94.1 816.71h0M94.45 821.68h0M94.63 820.84h0M94.64 811.09h0M94.45 817.2h0M94.1 817.92h0M94.58 812.42h0M94.41 820.95h0M94.46 816.27h0M94.39 817.36h0M94.56 816.64h0M94.05 824.7h0M94.35 814.81h0M94.11 820.06h0M94.06 816.16h0M94.2 817.17h0M94.83 823.7h0M94.55 822.91h0M94.01 817.69h0M94.19 818.37h0M93.87 814.47h0M94.87 823.04h0M93.96 815.88h0M94.01 812.04h0M94.73 821.38h0M94.68 818.85h0M94.73 808.62h0M94.17 818.23h0M94.09 814.86h0M94.5 819.69h0M94.58 820.41h0M94.5 822.3h0M94.29 820.32h0M93.98 816.51h0M94.59 815.28h0M94.4 811.57h0M94.64 814.87h0M94.86 806.71h0M94.35 805.7h0M94.35 825h0" stroke="#68f0c6" stroke-width="2.6" stroke-linecap="round" fill="none"/>
<path d="M91.25 818.3h6.2" stroke="#68f0c6" stroke-opacity="0.8" stroke-width="1.0"/>
<rect x="97.15" y="817" width="6.2" height="3.8" fill="#c97cf2" fill-opacity="0.18" stroke="#c97cf2" stroke-opacity="0.75" stroke-width="0.7"/>
<path d="M100.25 809.9V817M100.25 820.8V825.8" stroke="#c97cf2" stroke-opacity="0.75" stroke-width="0.7"/>
<path d="M100.76 817.06h0M100.02 813.43h0M100.76 823.06h0M100.55 815.62h0M100.06 816.28h0M100.32 818.12h0M100.57 816.47h0M100.21 815.63h0M99.82 820.68h0M100.63 821.83h0M100.4 819.62h0M100.02 822.96h0M100.36 816.85h0M100.13 818.41h0M100.52 818.85h0M100.69 820.56h0M100.24 821.66h0M99.76 816.58h0M99.79 813.38h0M100.34 818.44h0M99.99 821.54h0M99.95 816.45h0M100.26 815.23h0M99.87 820.34h0M100.35 814.87h0M100.2 814.22h0M99.96 821.11h0M100.31 820.53h0M100.18 818.78h0M99.97 819.05h0M100.25 820.37h0M100.32 820.78h0M100.75 821.37h0M100.73 817.75h0M100.49 817.06h0M99.81 812.01h0M100.18 822.92h0M100.46 824.09h0M100.45 819.7h0M100.52 810.01h0M100.67 823.72h0M100.57 817.77h0M100.15 818.01h0M100.71 820.18h0M100.65 821.57h0M100.25 809.9h0M100.25 825.8h0M100.25 708.4h0M100.25 732.7h0M100.25 742.3h0M100.25 770.5h0" stroke="#c97cf2" stroke-width="2.6" stroke-linecap="round" fill="none"/>
<path d="M97.15 819.1h6.2" stroke="#c97cf2" stroke-opacity="0.8" stroke-width="1.0"/>
<text x="0" y="0" font-size="7.6" text-anchor="end" fill="#333" transform="translate(102.3 853.2) rotate(-60)">CEACAM6</text>
<path d="M111.72 847.1v2.2" stroke="#333" stroke-width="0.8"/>
<rect x="105.67" y="778" width="6.2" height="15.1" fill="#68f0c6" fill-opacity="0.18" stroke="#68f0c6" stroke-opacity="0.75" stroke-width="0.7"/>
<path d="M108.77 748.7V778M108.77 793.1V815.8" stroke="#68f0c6" stroke-opacity="0.75" stroke-width="0.7"/>
<path d="M108.54 785.38h0M108.57 773.43h0M108.71 794.08h0M109.14 795.39h0M109.31 775.49h0M108.76 786.76h0M109.16 793.37h0M108.74 779.56h0M108.52 789.24h0M108.23 771.99h0M108.63 784.58h0M108.49 784.02h0M109.06 786.95h0M108.42 795.07h0M108.76 784.41h0M108.82 788.9h0M109.24 768.61h0M108.87 786.25h0M108.57 792.69h0M109 801.1h0M108.49 786.62h0M108.37 796.35h0M109.01 796.79h0M108.92 797.82h0M108.41 804.71h0M108.45 782.93h0M108.74 796.47h0M108.77 775.96h0M109.17 783.69h0M109.04 806.95h0M108.68 773.65h0M108.85 772.61h0M108.62 790.28h0M108.23 754.68h0M108.71 776.22h0M109.19 770.04h0M108.3 802.04h0M108.71 798h0M109.08 787.34h0M108.51 776.34h0M108.23 778.28h0M108.47 787.92h0M108.67 789.96h0M109.06 766.93h0M109.22 801.22h0M108.82 797h0M108.6 783.57h0M109.11 809.68h0M108.93 789.78h0M108.99 785.35h0M108.31 774.26h0M108.26 783.52h0M109.01 782.6h0M109.16 778.68h0M109.15 783.73h0M108.78 798.04h0M108.79 793.25h0M108.98 795.89h0M108.33 772.82h0M108.84 813.07h0M108.63 787.66h0M109.26 779.21h0M108.45 792.28h0M108.84 796.39h0M108.28 769.03h0M108.68 749.47h0M109.31 785.91h0M108.63 786.04h0M109.21 795.05h0M108.95 784.62h0M109.27 764.17h0M109.01 776.25h0M109.24 779.82h0M108.88 761.19h0M108.38 795.73h0M109.12 783.41h0M109.21 788.93h0M109.13 790.5h0M108.5 786.45h0M108.51 796.69h0M109.25 787.79h0M108.9 765.06h0M109.13 785.65h0M108.7 783.26h0M108.31 770.04h0M109.23 773.45h0M108.36 799.36h0M109.07 791.39h0M109.18 761.8h0M109.29 751.16h0M108.39 798.25h0M109.3 756.95h0M108.89 797.14h0M109.12 791.75h0M109.27 783.99h0M108.98 775.45h0M108.45 793.79h0M109.08 780.61h0M108.49 769.99h0M108.67 788.42h0M108.94 782.05h0M108.42 795.9h0M109.3 778.33h0M108.86 782.75h0M108.61 804.45h0M108.58 777.09h0M109.17 793.25h0M109.05 793.45h0M108.23 789.56h0M108.29 777.84h0M109.14 763.04h0M108.64 807.89h0M108.94 781.92h0M108.91 784.45h0M108.85 790.21h0M109.16 804.21h0M108.3 779.96h0M109.17 769.18h0M108.82 772.02h0M108.4 788.11h0M108.32 790.8h0M108.62 760.51h0M109.09 772.11h0M108.69 806.19h0M108.59 769.07h0M108.87 784.43h0M109.1 772.28h0M109.24 783.43h0M108.54 793.72h0M108.35 781.32h0M109.01 768.99h0M108.22 801.14h0M108.43 800.56h0M108.69 772.08h0M108.43 788.14h0M108.93 783.44h0M108.29 771.72h0M108.29 791.53h0M108.4 749.45h0M108.6 787.45h0M108.61 786.84h0M108.75 800.62h0M109 796.74h0M108.82 796.31h0M108.74 801.71h0M108.54 800.44h0M109.05 780.87h0M108.3 777.03h0M108.77 748.7h0M108.77 815.8h0" stroke="#68f0c6" stroke-width="2.6" stroke-linecap="round" fill="none"/>
<path d="M105.67 784.7h6.2" stroke="#68f0c6" stroke-opacity="0.8" stroke-width="1.0"/>
<rect x="111.57" y="773" width="6.2" height="17.6" fill="#c97cf2" fill-opacity="0.18" stroke="#c97cf2" stroke-opacity="0.75" stroke-width="0.7"/>
<path d="M114.67 744V773M114.67 790.6V814.9" stroke="#c97cf2" stroke-opacity="0.75" stroke-width="0.7"/>
<path d="M115.21 795.35h0M114.46 782.31h0M114.46 780.43h0M114.45 811.92h0M114.69 802.94h0M114.13 770.24h0M114.49 775.79h0M114.53 767.88h0M114.49 771.14h0M114.85 772.72h0M114.97 757.05h0M115.04 782.64h0M114.25 789.06h0M114.12 787h0M114.69 769.66h0M114.89 797.62h0M114.47 802.82h0M114.42 800.21h0M115.04 784.3h0M114.64 778.92h0M114.55 794.39h0M114.89 801.46h0M114.2 798.28h0M114.83 761.47h0M114.95 801.01h0M114.48 767.09h0M114.17 800.91h0M114.17 780.63h0M115.06 763.79h0M114.37 802.01h0M115.05 788.17h0M114.53 766.56h0M114.23 764.58h0M114.73 789.65h0M114.56 783.65h0M114.79 781.15h0M115.08 790.08h0M114.78 805.13h0M114.4 772.43h0M114.6 779.98h0M114.49 814.59h0M114.5 801.24h0M114.78 787.83h0M114.64 769.99h0M115.18 750.44h0M114.38 785.42h0M114.53 804.65h0M114.5 772.34h0M114.31 784.57h0M115.14 783.02h0M114.7 770.93h0M114.14 790.55h0M114.62 786.95h0M114.77 744.75h0M114.95 779.95h0M114.98 806.59h0M114.45 772.26h0M114.64 767.33h0M114.37 753.87h0M114.88 754.29h0M114.55 800.29h0M114.57 788.2h0M115.05 788.89h0M114.3 767.45h0M114.21 766.65h0M115.19 778.57h0M115.05 767.1h0M114.65 794.74h0M115.12 783.98h0M114.27 811.17h0M114.94 776.92h0M114.24 801.41h0M114.5 756h0M114.36 792.66h0M114.19 787.37h0M114.69 785.43h0M114.68 782.15h0M114.46 812.77h0M114.33 793.2h0M114.86 746.51h0M114.89 790.17h0M114.57 761.41h0M115.01 773.38h0M114.49 812.72h0M114.14 808.03h0M114.22 789.92h0M114.32 761.98h0M114.65 789.23h0M114.13 787.76h0M115.21 787.65h0M115.07 782.42h0M114.48 748.39h0M115.06 789.79h0M115.04 762.24h0M114.51 786.01h0M114.15 764.4h0M114.83 805.96h0M114.39 780.53h0M115.2 767.29h0M114.3 800.58h0M115.11 778.47h0M114.76 798.93h0M115.2 786.57h0M114.88 790.23h0M114.15 791.29h0M115.2 790.87h0M114.36 782.82h0M114.27 784h0M114.29 782.04h0M114.27 776.79h0M114.81 763.89h0M114.89 776.78h0M114.44 778.35h0M114.35 808.64h0M114.16 768.48h0M114.59 788.65h0M114.57 783.3h0M114.97 753.49h0M114.8 780.31h0M115.06 778.99h0M114.19 764.23h0M115 785.54h0M115.07 783.52h0M114.57 769.11h0M114.47 789.89h0M114.8 787.33h0M114.85 783.95h0M114.98 776.23h0M114.83 766.01h0M115.03 784.63h0M114.67 781.53h0M114.69 767.63h0M114.67 810.23h0M114.8 804.89h0M114.13 799.89h0M114.8 799.42h0M115.12 782.46h0M114.17 797.35h0M115.05 805.15h0M114.47 774.52h0M114.4 795.57h0M114.92 772.35h0M115.02 770.88h0M114.41 789.71h0M114.2 750.33h0M114.57 777.4h0M114.53 807.14h0M115.1 753.15h0M114.2 780.02h0M114.25 783.36h0M114.95 792.98h0M114.8 781.56h0M115.03 778.36h0M114.34 774.91h0M115.16 766.68h0M114.67 744h0M114.67 814.9h0" stroke="#c97cf2" stroke-width="2.6" stroke-linecap="round" fill="none"/>
<path d="M111.57 782.2h6.2" stroke="#c97cf2" stroke-opacity="0.8" stroke-width="1.0"/>
<text x="0" y="0" font-size="7.6" text-anchor="end" fill="#333" transform="translate(116.72 853.2) rotate(-60)">CAV1</text>
<path d="M126.14 847.1v2.2" stroke="#333" stroke-width="0.8"/>
<rect x="120.09" y="778.9" width="6.2" height="7.5" fill="#68f0c6" fill-opacity="0.18" stroke="#68f0c6" stroke-opacity="0.75" stroke-width="0.7"/>
<path d="M123.19 765.4V778.9M123.19 786.4V799" stroke="#68f0c6" stroke-opacity="0.75" stroke-width="0.7"/>
<path d="M123.57 775.85h0M122.88 782.78h0M123.5 793.93h0M123.72 780.27h0M122.82 778.14h0M122.71 779.75h0M123.1 772.98h0M123.54 775.55h0M123.38 795.15h0M123.67 781.66h0M123.04 779.65h0M122.77 789.46h0M122.9 788.72h0M122.85 773.99h0M122.85 783.44h0M122.8 783.2h0M123.25 787.6h0M123.69 782.56h0M123.06 767.46h0M123.2 779.47h0M123.63 784.25h0M123.13 782.77h0M122.73 782.76h0M122.64 770.48h0M123.05 785.3h0M123.65 788.68h0M122.98 776.63h0M122.78 782.38h0M122.68 787.09h0M122.69 790.83h0M123.2 771.24h0M123.18 782.67h0M123.69 774.59h0M123.53 798.64h0M123.03 783.79h0M122.97 796.37h0M122.7 777.11h0M123.54 788.39h0M122.97 792.19h0M123.2 768.25h0M123.06 778.42h0M123.73 792.71h0M123.17 779.21h0M123.58 776.82h0M123.52 782.21h0M122.73 785.46h0M123.49 782h0M122.86 775.08h0M122.96 787.75h0M123.24 786.51h0M123.01 783.71h0M122.65 777.55h0M123.28 795.63h0M123.72 791.82h0M123.44 788.33h0M123.17 786.51h0M122.72 771.21h0M122.74 785.57h0M123.52 774.21h0M123.69 778.06h0M123.2 777.52h0M123.02 782.62h0M122.87 796.38h0M123.69 788.99h0M123.61 778.22h0M122.74 772.59h0M123.43 776.81h0M122.92 785.93h0M123.3 785.94h0M122.79 787.93h0M123.32 792.4h0M122.65 788.57h0M123.47 766.15h0M123.44 781.24h0M123.29 779.05h0M122.82 785.43h0M123.52 773.56h0M123.29 788.58h0M123.68 777.63h0M122.99 782.95h0M123.13 783.18h0M123.19 765.4h0M123.19 799h0" stroke="#68f0c6" stroke-width="2.6" stroke-linecap="round" fill="none"/>
<path d="M120.09 782.2h6.2" stroke="#68f0c6" stroke-opacity="0.8" stroke-width="1.0"/>
<rect x="125.99" y="780.5" width="6.2" height="10.9" fill="#c97cf2" fill-opacity="0.18" stroke="#c97cf2" stroke-opacity="0.75" stroke-width="0.7"/>
<path d="M129.09 761.7V780.5M129.09 791.4V807.4" stroke="#c97cf2" stroke-opacity="0.75" stroke-width="0.7"/>
<path d="M128.85 778.47h0M129.2 789.97h0M128.58 776.13h0M129.44 783.87h0M129.08 785.95h0M129.26 782.62h0M129.55 792.08h0M129.49 791.88h0M129.5 789.31h0M128.78 785.66h0M129.57 762.12h0M128.81 799.42h0M128.78 779.08h0M128.83 788.63h0M129.59 791.5h0M129.59 789.91h0M128.59 765.93h0M129.13 790.56h0M129.31 762.93h0M129.38 773.7h0M129.26 765.96h0M129.27 786.58h0M128.58 781.22h0M128.77 780.85h0M129.09 780.65h0M129.51 793.27h0M129.5 790.92h0M129.2 783.66h0M129.4 788.41h0M129.53 780.55h0M128.73 798.34h0M129.43 766.36h0M128.58 767.98h0M129.29 777.71h0M129.11 804.73h0M129.39 803.34h0M129.53 793.53h0M129.07 781.55h0M129.04 801.11h0M129.06 797.81h0M128.89 781.33h0M128.71 785.26h0M129.16 764.47h0M128.7 795.13h0M128.65 783.64h0M129.27 777.66h0M128.82 781.11h0M128.76 762.89h0M129.34 805.31h0M129.33 787.67h0M129.04 770.65h0M129.05 788.33h0M129.2 806.99h0M129.5 778.17h0M129.04 771.51h0M129.55 806.68h0M128.77 795.1h0M128.97 801.05h0M128.96 778.47h0M129.64 794.89h0M129.09 794.5h0M128.59 782.9h0M128.81 795.21h0M129.49 798.65h0M129.62 780.81h0M129.26 783.79h0M128.67 789.31h0M128.85 796.52h0M129.56 774.21h0M129.06 790.61h0M128.95 783.07h0M129.39 778.23h0M128.88 792.57h0M128.98 786.62h0M129.63 791.86h0M128.87 790.82h0M129.42 781.64h0M128.59 786.14h0M128.87 780.98h0M129.64 788.31h0M128.9 785.85h0M129.01 788.1h0M129.56 785.01h0M129.56 794.81h0M129.36 790.88h0M129.32 777.46h0M128.92 789.69h0M128.8 802.68h0M128.55 772.08h0M128.72 788.32h0M128.73 791.05h0M128.55 764.91h0M129.36 779.17h0M129.55 788.27h0M129.03 786.15h0M129.43 780.92h0M129.13 779.53h0M129.59 786h0M129.64 792.05h0M128.82 780.25h0M129.12 769.35h0M129.46 787.39h0M129.38 788.46h0M128.95 791.66h0M129.53 801.57h0M129.09 761.7h0M129.09 807.4h0" stroke="#c97cf2" stroke-width="2.6" stroke-linecap="round" fill="none"/>
<path d="M125.99 785.9h6.2" stroke="#c97cf2" stroke-opacity="0.8" stroke-width="1.0"/>
<text x="126.14" y="709.4" font-size="6.4" text-anchor="middle" fill="#333">**</text>
<text x="0" y="0" font-size="7.6" text-anchor="end" fill="#333" transform="translate(131.14 853.2) rotate(-60)">AKT1</text>
<path d="M140.56 847.1v2.2" stroke="#333" stroke-width="0.8"/>
<rect x="134.51" y="742.8" width="6.2" height="9.2" fill="#68f0c6" fill-opacity="0.18" stroke="#68f0c6" stroke-opacity="0.75" stroke-width="0.7"/>
<path d="M137.61 726V742.8M137.61 752V763.4" stroke="#68f0c6" stroke-opacity="0.75" stroke-width="0.7"/>
<path d="M138.13 738.39h0M137.33 749.9h0M137.41 738.35h0M137.79 740.79h0M137.15 750.91h0M137.36 750.88h0M138.12 732.08h0M137.29 743.49h0M137.36 753.53h0M137.07 742.36h0M137.58 747.03h0M137.81 752.07h0M138.13 735.09h0M137.41 741.26h0M137.97 744.93h0M137.95 748.35h0M137.14 740.56h0M137.55 728.24h0M137.65 754.25h0M137.61 727.31h0M137.8 740.06h0M137.45 734.16h0M137.46 754.74h0M137.29 759.33h0M137.61 748.61h0M137.13 744.18h0M138.16 741.03h0M138.08 740h0M138.01 741.36h0M137.37 738.23h0M137.49 726.95h0M137.61 736.97h0M137.76 733.51h0M137.51 728.23h0M138.13 741.44h0M138.01 743.04h0M137.97 747.28h0M137.13 746.26h0M137.33 755.33h0M137.44 761.21h0M137.7 754.77h0M137.12 744.9h0M137.69 732.88h0M138.08 747.48h0M137.09 755.23h0M137.28 750.5h0M137.8 732.48h0M137.69 750.09h0M137.83 743.86h0M137.64 750.18h0M138.01 754.88h0M138.12 756.72h0M137.07 738.02h0M137.88 745.05h0M137.37 752.73h0M138.08 746.23h0M137.7 747.29h0M138.01 749.99h0M137.38 748.48h0M137.82 733.34h0M137.34 734.9h0M137.07 755.1h0M137.87 754.38h0M137.47 746.09h0M137.11 751.99h0M137.7 743.1h0M137.85 741.58h0M137.35 748.56h0M137.8 751.9h0M137.56 749.13h0M138.09 746.87h0M137.82 758.17h0M138.04 746.38h0M137.3 748.14h0M137.06 744.07h0M137.46 739.07h0M137.26 747.2h0M137.61 758.62h0M138.11 757.6h0M137.52 761.39h0M138 738.93h0M137.67 750.47h0M137.66 745.24h0M137.71 748.18h0M137.36 745.46h0M137.27 741.06h0M137.32 745.72h0M137.67 742.08h0M137.61 726h0M137.61 763.4h0" stroke="#68f0c6" stroke-width="2.6" stroke-linecap="round" fill="none"/>
<path d="M134.51 747h6.2" stroke="#68f0c6" stroke-opacity="0.8" stroke-width="1.0"/>
<rect x="140.41" y="737.2" width="6.2" height="11.5" fill="#c97cf2" fill-opacity="0.18" stroke="#c97cf2" stroke-opacity="0.75" stroke-width="0.7"/>
<path d="M143.51 717.6V737.2M143.51 748.7V763.4" stroke="#c97cf2" stroke-opacity="0.75" stroke-width="0.7"/>
<path d="M143.63 744.44h0M143.18 737.95h0M143.44 734.18h0M143.91 754.32h0M143.45 731.6h0M143.23 745.06h0M143.68 760.43h0M143.81 720.06h0M143.28 735.87h0M143.78 734.32h0M143.6 725.39h0M143.6 743.39h0M143.33 745.91h0M143.59 748.62h0M143.79 738.67h0M143.91 728h0M143.95 729h0M143.71 746.63h0M143.88 757.04h0M143.31 747.27h0M143.16 763.4h0M143.1 734.47h0M143.96 747.59h0M143.65 763.14h0M143.06 726.74h0M143.09 748.5h0M143.46 754.16h0M143.92 752.23h0M143.5 748.03h0M143.88 723.92h0M143.44 730.66h0M143.33 717.9h0M143.95 736.01h0M143.35 744.37h0M143.74 753.16h0M143.16 758.59h0M143.87 750.97h0M143.07 753.57h0M143.19 746.41h0M143.45 729.93h0M143.32 720.93h0M143.55 736.07h0M143.38 741.43h0M143.02 752.14h0M143.21 752.07h0M143.73 744.57h0M143.65 757.4h0M143.93 747.96h0M143.38 743.26h0M143.27 739.97h0M143.46 747.92h0M143.48 744.5h0M143.93 744.26h0M143.55 730.73h0M143.12 733.37h0M143.69 741.87h0M143.08 735.51h0M143.24 734.56h0M143.27 749.65h0M143.75 740.4h0M143.71 750.55h0M143.1 749.44h0M143.13 733.75h0M143.74 750.05h0M143.7 737.17h0M144.02 737.23h0M143.72 746.16h0M143.8 743.83h0M143.89 737.83h0M143.42 750.43h0M143.74 734.38h0M143.27 738.31h0M143.18 737.57h0M143.35 744.53h0M143.26 741.03h0M143.85 740.15h0M144.05 743.7h0M143.08 743.91h0M143.12 763.4h0M143.12 755.64h0M143.12 757.11h0M143.27 750.09h0M144.05 747.53h0M144.05 730.97h0M143.68 745.57h0M143.72 729.21h0M143.86 742.78h0M143.18 743.63h0M143.14 757.12h0M143.04 748.72h0M143.43 738.19h0M143.46 732.72h0M143.04 738.48h0M143.15 763.13h0M143.63 747.7h0M143.42 744.26h0M143.42 739.24h0M143.84 741.17h0M143.82 744.74h0M143.94 756.87h0M143.72 741.01h0M143.21 736.61h0M143.58 725.32h0M143.49 762.08h0M143.96 745.73h0M143.51 717.6h0M143.51 763.4h0" stroke="#c97cf2" stroke-width="2.6" stroke-linecap="round" fill="none"/>
<path d="M140.41 743.3h6.2" stroke="#c97cf2" stroke-opacity="0.8" stroke-width="1.0"/>
<text x="140.56" y="709.4" font-size="6.4" text-anchor="middle" fill="#333">**</text>
<text x="0" y="0" font-size="7.6" text-anchor="end" fill="#333" transform="translate(145.56 853.2) rotate(-60)">ITGB1</text>
<path d="M154.98 847.1v2.2" stroke="#333" stroke-width="0.8"/>
<rect x="148.93" y="832.5" width="6.2" height="3.5" fill="#68f0c6" fill-opacity="0.18" stroke="#68f0c6" stroke-opacity="0.75" stroke-width="0.7"/>
<path d="M152.03 827.9V832.5M152.03 836V841.3" stroke="#68f0c6" stroke-opacity="0.75" stroke-width="0.7"/>
<path d="M151.7 833.09h0M151.6 831.47h0M152.43 836.64h0M152.19 838.74h0M152.32 831.9h0M152.52 835.82h0M151.99 836.06h0M151.89 837.43h0M152.28 831.06h0M151.68 833.26h0M152.03 838.63h0M151.78 829.12h0M152.24 835.82h0M152.29 835.58h0M151.53 831.9h0M151.84 834.72h0M152.41 839.75h0M151.52 836.61h0M151.62 833.8h0M151.69 830.8h0M151.6 829.84h0M151.48 834.22h0M151.5 829.98h0M152 833.52h0M151.57 835.4h0M152.02 834.42h0M152.11 836.04h0M151.99 836.72h0M152.4 837.8h0M152.27 829.15h0M151.67 835.98h0M152.57 827.9h0M152.36 835.4h0M151.76 829.16h0M151.72 837.28h0M152.36 831.11h0M151.84 828.2h0M151.91 833.8h0M151.54 834.46h0M152.5 829.93h0M152.03 827.9h0M152.03 841.3h0" stroke="#68f0c6" stroke-width="2.6" stroke-linecap="round" fill="none"/>
<path d="M148.93 834.2h6.2" stroke="#68f0c6" stroke-opacity="0.8" stroke-width="1.0"/>
<rect x="154.83" y="831.5" width="6.2" height="4.3" fill="#c97cf2" fill-opacity="0.18" stroke="#c97cf2" stroke-opacity="0.75" stroke-width="0.7"/>
<path d="M157.93 820.8V831.5M157.93 835.8V839.3" stroke="#c97cf2" stroke-opacity="0.75" stroke-width="0.7"/>
<path d="M157.79 831.81h0M158.01 836.29h0M157.59 830.4h0M158.07 826.13h0M158.19 831.59h0M158.19 830.28h0M158 834.53h0M157.91 829.18h0M158.04 834.26h0M157.61 832.2h0M158.09 827.15h0M158.13 830.78h0M157.4 835.65h0M157.85 832.33h0M158.32 831.58h0M158.46 838.94h0M158.26 833.56h0M158.01 825.76h0M157.66 835.05h0M158.39 835.02h0M158.02 829.75h0M157.42 828.9h0M158 837.3h0M157.58 836.02h0M158.41 838.65h0M157.96 833.19h0M157.91 832.52h0M157.76 837.83h0M157.66 835.5h0M158.3 829.36h0M157.69 832.93h0M157.78 837.11h0M157.94 839.3h0M158.28 833.55h0M158.26 830.28h0M157.83 835.64h0M157.86 832.94h0M157.75 833.35h0M157.79 825.13h0M157.63 824.62h0M157.66 831.95h0M157.68 832.18h0M157.96 831.35h0M158.17 825.99h0M158.19 837.91h0M158.08 832.11h0M157.78 835.34h0M157.94 832.33h0M157.4 832.7h0M157.59 821.83h0M158.13 839.3h0M157.93 820.8h0M157.93 839.3h0" stroke="#c97cf2" stroke-width="2.6" stroke-linecap="round" fill="none"/>
<path d="M154.83 833.7h6.2" stroke="#c97cf2" stroke-opacity="0.8" stroke-width="1.0"/>
<text x="154.98" y="709.4" font-size="6.4" text-anchor="middle" fill="#333">*</text>
<text x="0" y="0" font-size="7.6" text-anchor="end" fill="#333" transform="translate(159.98 853.2) rotate(-60)">CEACAM5</text>
<path d="M169.4 847.1v2.2" stroke="#333" stroke-width="0.8"/>
<rect x="163.35" y="764.6" width="6.2" height="10.1" fill="#68f0c6" fill-opacity="0.18" stroke="#68f0c6" stroke-opacity="0.75" stroke-width="0.7"/>
<path d="M166.45 745V764.6M166.45 774.7V794.8" stroke="#68f0c6" stroke-opacity="0.75" stroke-width="0.7"/>
<path d="M166.37 777.2h0M166.25 771.57h0M166.48 772.13h0M166.15 765.31h0M166.13 768.29h0M166.24 747h0M166.46 776.69h0M166.5 760.88h0M166.08 769.33h0M166.27 762.94h0M166.61 757.32h0M166.79 759.93h0M165.9 782.02h0M166.78 767.55h0M166.93 771.73h0M166.28 763.05h0M166.31 777.37h0M166.36 761.27h0M166.65 770.02h0M166.76 754.8h0M166.44 791.17h0M166.29 784.37h0M166.52 769.15h0M166.71 771.46h0M166.74 761.07h0M166.63 788.23h0M166.5 773.69h0M166.24 759.45h0M166.97 783.22h0M166.93 754.21h0M166.67 777.79h0M166.86 784.39h0M166.5 755.66h0M166.84 787.76h0M166.65 778.6h0M165.99 775.51h0M166.38 776.77h0M166.46 765.69h0M166.16 777.68h0M166.89 779.03h0M166.87 770.86h0M166.39 756.77h0M166.91 773.82h0M166.45 763.52h0M166.66 772.05h0M166.76 786.87h0M166.78 761.24h0M166.26 763.49h0M166.31 763.83h0M166.19 750.27h0M166.64 772.15h0M166.05 772.61h0M166.59 776.36h0M166.9 761.32h0M166.49 785.16h0M166.59 762.11h0M166.12 770.98h0M166.5 772.63h0M166.8 773.17h0M166.61 772.69h0M166.86 763.72h0M166.17 764.99h0M166.99 770.75h0M166.45 768.03h0M166.7 769.62h0M166.45 776.8h0M166.31 765.86h0M165.92 771.72h0M166.39 745.88h0M166.56 763.75h0M166.89 768.29h0M166.67 788.38h0M166.78 762.44h0M166.76 762.44h0M166.99 774.08h0M166.05 770.52h0M166.38 783.17h0M166.78 765.56h0M166.29 769.64h0M166.63 761.49h0M166.86 767.41h0M166.1 765.9h0M165.9 770.66h0M166.06 776.97h0M166.19 772.53h0M166.94 758.1h0M165.97 763.19h0M166.51 775.69h0M166.86 759.76h0M166.89 775.59h0M166.06 784.83h0M166.9 762.75h0M166.05 771.86h0M166.55 778.08h0M166.78 764.04h0M166.38 773.45h0M166.11 774.01h0M166.79 777.36h0M166.78 792.41h0M166.31 763.02h0M166.65 772.97h0M166.72 767.44h0M166.75 778.24h0M166.22 790.56h0M166.43 768.22h0M166.26 768.37h0M166.87 770.31h0M166.6 747.84h0M166.62 776.38h0M166 764.29h0M166.13 774.17h0M166.99 764.99h0M166.33 774.41h0M166.45 745h0M166.45 794.8h0M166.45 739h0" stroke="#68f0c6" stroke-width="2.6" stroke-linecap="round" fill="none"/>
<path d="M163.35 769.1h6.2" stroke="#68f0c6" stroke-opacity="0.8" stroke-width="1.0"/>
<rect x="169.25" y="766.3" width="6.2" height="20.1" fill="#c97cf2" fill-opacity="0.18" stroke="#c97cf2" stroke-opacity="0.75" stroke-width="0.7"/>
<path d="M172.35 747.8V766.3M172.35 786.4V813.3" stroke="#c97cf2" stroke-opacity="0.75" stroke-width="0.7"/>
<path d="M171.85 771.69h0M172.16 761.17h0M172.36 799.38h0M172.64 780.25h0M172.83 780.39h0M171.89 782.68h0M172.42 796.67h0M172.2 778.75h0M172.56 805.11h0M171.8 792.82h0M172.2 753.62h0M172.74 768.28h0M172.78 747.8h0M172.28 762.7h0M172.8 794.11h0M172.85 759.99h0M172.65 767.42h0M172.19 812.41h0M172.46 760.29h0M171.87 758.91h0M172.46 798.97h0M172.23 765.15h0M171.82 780.08h0M172.15 789.18h0M172.38 753.27h0M172.16 784.79h0M172.55 790.14h0M172.6 766.03h0M172.72 747.8h0M172 762.13h0M171.85 770.84h0M171.9 788.59h0M172.4 763.15h0M172.12 785.05h0M172.51 808.06h0M172.29 780.22h0M172.03 752.82h0M172.49 779.67h0M172.6 759.15h0M172.05 780.46h0M171.84 777.75h0M172.62 757.12h0M172.3 788.72h0M172.89 773.6h0M172.47 796.22h0M172.77 757.43h0M171.85 788.96h0M172.02 778.95h0M171.89 811.3h0M172.37 775.62h0M172.2 794.72h0M172.05 764.82h0M172.01 769.44h0M172.5 752.38h0M172.05 768.45h0M172.81 798.3h0M172.36 793.1h0M172.35 750.74h0M171.89 769.34h0M172.11 747.8h0M172.16 766.22h0M172.21 770.35h0M172.38 799h0M172.78 758.81h0M172.42 760.47h0M172.38 776.88h0M172.82 762.64h0M172.07 761.11h0M172.54 799.25h0M172.73 793.79h0M172.36 791.27h0M171.94 767.2h0M172.47 808.77h0M171.95 775.41h0M172.06 799.62h0M171.92 753.49h0M172.66 763.91h0M172.15 797.37h0M171.9 789.39h0M172.26 761.75h0M172.63 789.88h0M172.02 753.16h0M171.92 777.18h0M172.23 759.45h0M172.69 765.64h0M172.03 782.73h0M172.47 772.16h0M172 758h0M172.47 768.06h0M171.94 756.72h0M172.12 797.23h0M172.64 777.8h0M172.89 764.01h0M172.49 770.81h0M172.4 756.02h0M172.59 773.67h0M172.12 785.83h0M172.31 800.28h0M172.43 799.19h0M172.26 796.81h0M172.78 778.72h0M172.49 775.03h0M172.87 781.47h0M172.83 756.51h0M171.84 759.12h0M171.89 805.15h0M172.88 797.48h0M172.85 788.27h0M171.85 750.66h0M171.96 792.18h0M172.71 794.3h0M172.26 774.93h0M172.07 810.92h0M171.93 772.23h0M172.15 812.19h0M172.67 780.2h0M172.71 758.12h0M172.25 764.42h0M172.74 767.32h0M171.92 797.32h0M172.46 803.24h0M172.73 768.13h0M171.88 802.81h0M172.88 759.1h0M172.26 763.1h0M171.96 748.75h0M172.26 759.38h0M172.53 790.82h0M172.87 791.82h0M172.38 753.44h0M172.89 789.81h0M172.81 789.33h0M172.38 767.53h0M172.71 765.35h0M172.72 783.01h0M172.51 801.75h0M172.09 764.96h0M171.86 778.46h0M172.58 756.91h0M171.92 747.8h0M172.3 754.83h0M172.84 762.14h0M172.75 759.27h0M172.42 767.38h0M172.83 770.27h0M172.35 747.8h0M172.35 813.3h0" stroke="#c97cf2" stroke-width="2.6" stroke-linecap="round" fill="none"/>
<path d="M169.25 776.8h6.2" stroke="#c97cf2" stroke-opacity="0.8" stroke-width="1.0"/>
<text x="169.4" y="709.4" font-size="6.4" text-anchor="middle" fill="#333">***</text>
<text x="0" y="0" font-size="7.6" text-anchor="end" fill="#333" transform="translate(174.4 853.2) rotate(-60)">EGFR</text>
<path d="M183.82 847.1v2.2" stroke="#333" stroke-width="0.8"/>
<rect x="177.77" y="809" width="6.2" height="9.3" fill="#68f0c6" fill-opacity="0.18" stroke="#68f0c6" stroke-opacity="0.75" stroke-width="0.7"/>
<path d="M180.87 787.2V809M180.87 818.3V824.2" stroke="#68f0c6" stroke-opacity="0.75" stroke-width="0.7"/>
<path d="M180.6 817.54h0M180.77 815.51h0M180.65 821.45h0M180.81 815.47h0M180.59 810.83h0M180.93 806.06h0M180.54 815.76h0M180.9 817.78h0M180.65 809.08h0M181.03 824.2h0M180.41 815.67h0M180.43 812.76h0M181.26 801.91h0M180.91 810.18h0M180.71 814.76h0M181.01 818.51h0M181.15 819.92h0M180.57 812.27h0M180.51 795.31h0M180.41 809.44h0M181.35 789.75h0M181.32 819.26h0M180.73 810.17h0M181.35 807.31h0M181.25 818.31h0M180.46 806.8h0M181.1 806.67h0M180.78 815.4h0M180.58 804.33h0M181.14 817.56h0M180.83 791.77h0M180.52 810.73h0M181.19 821.03h0M180.5 813.84h0M181.21 809.74h0M180.81 815.84h0M180.37 797.97h0M180.77 823.24h0M181.18 819.8h0M180.72 824.2h0M180.77 817.43h0M180.85 813.03h0M181.06 813.3h0M181.4 823.1h0M180.66 797.28h0M180.59 806.41h0M181.03 824.2h0M180.74 821.78h0M180.34 817.83h0M180.9 803.96h0M180.84 808.04h0M180.9 817.37h0M180.96 813.88h0M180.88 810.53h0M181.07 807.1h0M180.44 812.64h0M181.02 803.94h0M180.97 819.9h0M180.96 821.47h0M180.38 808.57h0M181.39 812.39h0M180.88 817.89h0M181.39 815.51h0M180.6 810.87h0M181.19 812.49h0M180.64 816.46h0M180.94 820.25h0M180.81 815.82h0M180.97 824.2h0M180.36 810.77h0M181.1 824.2h0M180.97 822.04h0M181.07 805.05h0M181.27 817.41h0M181.04 810.53h0M181.41 805.13h0M181.14 815.38h0M181.01 803.2h0M180.71 807.96h0M181.36 816.26h0M180.68 817.38h0M180.86 808.16h0M181.35 805.25h0M181.11 822.56h0M181.22 818.72h0M180.37 805.56h0M180.84 815.78h0M180.77 806.85h0M180.87 787.2h0M180.87 824.2h0" stroke="#68f0c6" stroke-width="2.6" stroke-linecap="round" fill="none"/>
<path d="M177.77 813.3h6.2" stroke="#68f0c6" stroke-opacity="0.8" stroke-width="1.0"/>
<rect x="183.67" y="810.7" width="6.2" height="7.6" fill="#c97cf2" fill-opacity="0.18" stroke="#c97cf2" stroke-opacity="0.75" stroke-width="0.7"/>
<path d="M186.77 790.6V810.7M186.77 818.3V826.7" stroke="#c97cf2" stroke-opacity="0.75" stroke-width="0.7"/>
<path d="M186.72 811.45h0M186.97 826.7h0M186.79 808.84h0M186.45 818.45h0M186.7 814.35h0M186.86 814.19h0M186.96 809.8h0M187.2 817.22h0M187.1 816.96h0M186.47 820.7h0M186.79 809.71h0M186.58 815.97h0M186.42 822.46h0M186.61 794.11h0M186.6 795.8h0M186.78 814.42h0M186.72 814.36h0M186.35 820.95h0M187 815.63h0M186.29 806.32h0M186.61 820.66h0M187.28 798.65h0M186.48 811.04h0M186.53 809.02h0M186.69 818.18h0M186.86 802.81h0M186.94 818.36h0M187.13 814.11h0M186.45 820.55h0M186.69 814.14h0M186.86 805.56h0M186.88 822.55h0M187.12 815.22h0M186.7 818.27h0M186.29 798.88h0M187.02 825.56h0M186.41 815.98h0M187.11 819.04h0M186.71 810.98h0M186.55 811.8h0M186.7 821.43h0M186.67 807.23h0M186.65 811.18h0M186.93 822.46h0M187.21 817.07h0M187.27 817.9h0M186.81 809.34h0M187.27 812.32h0M187.03 820.79h0M186.79 805.69h0M186.25 819.41h0M187.03 812.32h0M186.42 812.67h0M186.79 814.37h0M186.93 814.47h0M187.16 822.92h0M187.06 815.13h0M186.58 810.26h0M187.08 804.17h0M186.46 819.06h0M186.24 816.46h0M186.62 805.57h0M187.16 814.53h0M186.5 817.78h0M186.82 793.5h0M186.55 809.24h0M186.78 822.44h0M187.16 801.85h0M186.51 813.45h0M186.84 819.86h0M187.06 816.42h0M186.79 800.2h0M186.85 818.14h0M187.19 811.58h0M186.37 820.59h0M186.83 808.42h0M186.69 809.2h0M186.62 797.93h0M186.22 811.57h0M186.84 797.22h0M186.26 818.28h0M187.15 819.22h0M186.33 812.93h0M186.26 806.65h0M186.32 812.9h0M186.9 810.83h0M186.77 790.6h0M186.77 826.7h0" stroke="#c97cf2" stroke-width="2.6" stroke-linecap="round" fill="none"/>
<path d="M183.67 814.9h6.2" stroke="#c97cf2" stroke-opacity="0.8" stroke-width="1.0"/>
<text x="0" y="0" font-size="7.6" text-anchor="end" fill="#333" transform="translate(188.82 853.2) rotate(-60)">BCL2</text>
<path d="M198.24 847.1v2.2" stroke="#333" stroke-width="0.8"/>
<rect x="192.19" y="804.9" width="6.2" height="7.5" fill="#68f0c6" fill-opacity="0.18" stroke="#68f0c6" stroke-opacity="0.75" stroke-width="0.7"/>
<path d="M195.29 777.2V804.9M195.29 812.4V820" stroke="#68f0c6" stroke-opacity="0.75" stroke-width="0.7"/>
<path d="M194.95 805.47h0M194.91 803.65h0M195.65 817.38h0M194.8 800.01h0M195.83 806.13h0M194.85 805.72h0M195.2 780.83h0M194.92 810.45h0M195.48 808.08h0M194.9 805.41h0M194.75 787.75h0M195.8 801.27h0M195.36 807.83h0M195.42 786.08h0M194.95 810.29h0M194.84 808.09h0M195.45 804.03h0M195.77 815.61h0M194.79 813.29h0M195.82 810.39h0M195.53 807.53h0M195.32 809.76h0M195.43 788.96h0M195.14 820h0M194.79 784.66h0M195.08 801.62h0M195.12 807.06h0M194.99 812.4h0M194.85 812.57h0M194.88 803.01h0M195.24 807.1h0M195.37 799.89h0M195.34 796.39h0M194.82 795.08h0M195.77 812.01h0M195.23 815.24h0M194.9 818.64h0M194.81 805.35h0M195.46 803.51h0M194.78 807.23h0M195.44 806.4h0M194.79 814.19h0M195.78 818.18h0M195.59 796.44h0M194.82 809.99h0M195.45 809.03h0M195.04 801.69h0M195.34 802.19h0M195.55 808.54h0M195.19 811.67h0M194.75 806.33h0M194.89 815.44h0M195.37 808.7h0M195.06 787.46h0M195.75 811.39h0M195.29 777.64h0M195.75 798.11h0M194.96 808.05h0M195.24 810.87h0M195.41 810.35h0M195.06 805.89h0M195.33 799.67h0M194.98 813.3h0M195.45 809.9h0M195.11 800.25h0M195.5 806.73h0M195.64 811.29h0M195.72 813.08h0M195.11 812.45h0M195.26 820h0M195.53 806.8h0M194.96 779.72h0M195.37 811.35h0M194.88 800.38h0M195.27 793.07h0M195.71 808.92h0M195.15 815.46h0M195.61 801.83h0M195.84 777.99h0M195.51 805.32h0M195.35 801.87h0M195.18 806.98h0M194.9 795.92h0M195.75 807.51h0M194.74 814.38h0M195.21 816.64h0M195.65 780.79h0M194.77 805.66h0M194.75 813.64h0M195.36 819.9h0M195.31 811.73h0M194.96 784.81h0M195.7 805.15h0M195.82 806.22h0M195.82 814.93h0M194.93 806.54h0M195.23 791.76h0M194.77 810.93h0M195.77 803.53h0M195.29 777.2h0M195.29 820h0" stroke="#68f0c6" stroke-width="2.6" stroke-linecap="round" fill="none"/>
<path d="M192.19 808.7h6.2" stroke="#68f0c6" stroke-opacity="0.8" stroke-width="1.0"/>
<rect x="198.09" y="799.8" width="6.2" height="9.2" fill="#c97cf2" fill-opacity="0.18" stroke="#c97cf2" stroke-opacity="0.75" stroke-width="0.7"/>
<path d="M201.19 770.5V799.8M201.19 809V822.5" stroke="#c97cf2" stroke-opacity="0.75" stroke-width="0.7"/>
<path d="M201.45 795.2h0M201.53 796.11h0M201.47 806.18h0M200.86 795.8h0M200.77 798.3h0M200.66 790.76h0M201.2 805.31h0M200.71 797.46h0M200.91 793.44h0M201.55 808.21h0M201.53 808.96h0M200.98 804.99h0M200.67 812.44h0M201.72 797.65h0M201.44 795.63h0M201.58 798.39h0M200.67 799.38h0M201.17 805.74h0M201.57 798.51h0M201.37 808.89h0M200.97 802.44h0M201.64 821.44h0M200.89 804.31h0M201.03 796.08h0M200.86 803.6h0M201.18 804.94h0M201.62 805.01h0M201.1 799.66h0M200.71 803.81h0M201.57 799.29h0M200.94 811.51h0M201.04 809.94h0M200.88 792.33h0M201.52 808.7h0M201.68 810.84h0M200.97 793.11h0M201.16 800.05h0M201.25 809.78h0M201.72 801.31h0M201.42 812.33h0M200.96 808.92h0M201.3 805.31h0M201.56 800.16h0M201.69 805.66h0M201.44 795.25h0M200.9 813.16h0M201.14 813.38h0M201.18 802.25h0M201.59 794.19h0M201.39 815.28h0M201 780.75h0M201.49 802.59h0M201.58 814.82h0M201.39 781.11h0M201.05 803.76h0M201.36 802.2h0M201.27 811.24h0M201.58 815.28h0M201.45 800.99h0M200.89 797.74h0M200.65 798.97h0M201.48 806.73h0M201.08 799.21h0M201.68 799.61h0M201.53 795.59h0M201 812.65h0M200.96 788.18h0M201.67 804.57h0M201.38 818.05h0M201.17 807.37h0M201.63 774.87h0M200.87 804.85h0M201.14 806.88h0M200.79 817.43h0M201.69 796.89h0M201.7 777.37h0M201.74 810.3h0M201.23 782.22h0M201.43 800.73h0M201.63 802.41h0M201.13 813.31h0M201.71 806.54h0M201.74 800.32h0M201.46 801.05h0M200.74 808.52h0M201.6 812.46h0M201.53 804.46h0M200.88 809.85h0M200.91 814.92h0M201.37 809.46h0M200.82 774.76h0M200.86 803.46h0M201.66 796.36h0M201.22 803.76h0M201.67 809.55h0M201.47 802.1h0M201.29 810.25h0M201.53 798.01h0M200.98 798.01h0M201.65 770.96h0M201.13 811.01h0M200.8 800.82h0M201.05 816.08h0M201.61 815.11h0M201.56 770.68h0M201.4 819.48h0M201.33 813.32h0M201.53 804.76h0M200.81 808.7h0M201.36 793.41h0M200.94 822.5h0M201.26 799.91h0M201.21 804.93h0M201.62 805.87h0M201.36 794.23h0M201.41 810.15h0M201.23 789.42h0M201.57 816.84h0M201.19 770.5h0M201.19 822.5h0" stroke="#c97cf2" stroke-width="2.6" stroke-linecap="round" fill="none"/>
<path d="M198.09 804.4h6.2" stroke="#c97cf2" stroke-opacity="0.8" stroke-width="1.0"/>
<text x="198.24" y="709.4" font-size="6.4" text-anchor="middle" fill="#333">**</text>
<text x="0" y="0" font-size="7.6" text-anchor="end" fill="#333" transform="translate(203.24 853.2) rotate(-60)">CASP8</text>
<path d="M212.66 847.1v2.2" stroke="#333" stroke-width="0.8"/>
<rect x="206.61" y="751.2" width="6.2" height="18.4" fill="#68f0c6" fill-opacity="0.18" stroke="#68f0c6" stroke-opacity="0.75" stroke-width="0.7"/>
<path d="M209.71 726V751.2M209.71 769.6V809.9" stroke="#68f0c6" stroke-opacity="0.75" stroke-width="0.7"/>
<path d="M209.21 743.94h0M210.12 773.85h0M209.67 748.8h0M209.86 752.1h0M209.95 762.26h0M209.45 786.02h0M210.23 784.21h0M209.9 785.14h0M210.11 767.53h0M210.02 747.32h0M209.3 769.96h0M209.69 759.02h0M210.02 768.66h0M209.91 772h0M209.16 758.58h0M209.28 759.03h0M209.76 804.27h0M209.83 742.03h0M209.87 776.42h0M209.99 768.84h0M210.17 757.45h0M209.35 803.65h0M209.92 754.73h0M210.23 774.83h0M210.17 754.91h0M209.86 766.07h0M209.61 759.58h0M209.64 762.12h0M209.3 761.14h0M209.36 809.17h0M209.36 769.96h0M209.37 730.46h0M210.15 752.88h0M210.03 791.2h0M209.76 742.85h0M209.44 768.26h0M209.36 759.53h0M209.5 739.46h0M209.46 726h0M209.4 730.19h0M209.94 761.67h0M209.48 755.72h0M209.31 762.73h0M209.61 773.24h0M209.6 756.46h0M210.05 751.66h0M210.2 745.97h0M209.54 790.01h0M209.87 729.08h0M209.93 749.63h0M210.16 781.63h0M209.61 762.85h0M210.05 780.24h0M209.87 727.65h0M209.39 779.71h0M210.23 757h0M209.96 755.01h0M209.61 794.81h0M210.01 781.59h0M210.24 776.73h0M209.18 781.81h0M209.99 753.87h0M209.66 750.62h0M209.77 795.6h0M209.18 748.68h0M209.36 778.19h0M210.14 753.92h0M209.26 762.09h0M209.79 753.73h0M209.42 768.85h0M209.97 774.85h0M209.24 757.94h0M209.8 770.38h0M209.86 730.3h0M210.13 795.65h0M210.18 758.93h0M209.88 780.03h0M209.68 751.67h0M209.83 768.56h0M209.88 757.08h0M209.23 756.87h0M210.21 782.07h0M210.18 750.29h0M209.56 738.64h0M209.32 751.14h0M210.13 757.38h0M209.78 731.28h0M209.43 774.2h0M210.16 775.25h0M210.11 779.72h0M209.59 785.38h0M209.61 771.4h0M209.26 740.19h0M209.71 761.01h0M209.35 766.65h0M210.02 757.92h0M210.15 749.52h0M209.97 758.74h0M209.79 758.17h0M209.45 759.3h0M210.12 748.17h0M210.22 742.64h0M209.53 777.53h0M209.73 761.11h0M209.97 809.49h0M209.34 755.52h0M209.91 769.48h0M209.55 747.52h0M209.18 757.66h0M209.78 761.01h0M209.45 735.33h0M209.87 757.67h0M209.63 769.46h0M210.26 753.75h0M209.26 765.79h0M209.19 745.38h0M209.22 748.91h0M209.9 743.35h0M209.46 744.82h0M209.26 733.31h0M209.97 799.19h0M209.53 802.25h0M209.82 763.13h0M210.04 755.13h0M210.05 761.77h0M209.69 736.37h0M209.63 760.48h0M209.7 766.31h0M210.24 772.51h0M209.5 802.6h0M210.13 788.78h0M210.23 726h0M209.81 763.35h0M210.19 756.48h0M209.85 751.66h0M209.52 773.53h0M209.96 745.6h0M209.61 761.01h0M209.17 766.34h0M209.39 756.47h0M209.67 767.99h0M209.84 770.48h0M209.81 757.11h0M209.37 750.81h0M209.51 779.96h0M210.02 726h0M210.08 777.7h0M209.51 763.62h0M209.83 798.72h0M209.43 752.95h0M209.7 745.17h0M210.17 759.7h0M209.76 762.93h0M209.3 753.32h0M209.65 797.42h0M209.76 726h0M209.82 754.28h0M209.49 763.3h0M210.11 760.3h0M209.29 784.21h0M209.98 757.96h0M209.57 767.35h0M209.83 769.63h0M209.35 768.9h0M209.92 726.37h0M209.21 794.31h0M210.16 764.85h0M209.74 749.04h0M209.85 774.87h0M209.44 763.63h0M209.31 743.45h0M210.24 762.98h0M209.22 750.51h0M209.44 803.81h0M209.88 746.96h0M209.17 808.97h0M209.74 746.28h0M209.55 768.22h0M210.17 808.82h0M210.1 775.91h0M210.03 782.4h0M209.71 726h0M209.71 809.9h0" stroke="#68f0c6" stroke-width="2.6" stroke-linecap="round" fill="none"/>
<path d="M206.61 757.9h6.2" stroke="#68f0c6" stroke-opacity="0.8" stroke-width="1.0"/>
<rect x="212.51" y="765.4" width="6.2" height="31.6" fill="#c97cf2" fill-opacity="0.18" stroke="#c97cf2" stroke-opacity="0.75" stroke-width="0.7"/>
<path d="M215.61 728.9V765.4M215.61 797V824.2" stroke="#c97cf2" stroke-opacity="0.75" stroke-width="0.7"/>
<path d="M215.78 788.63h0M215.46 750.72h0M215.26 818.04h0M215.99 758.65h0M215.64 822.43h0M215.18 756.86h0M215.84 816.12h0M215.44 764.13h0M216.04 786.1h0M215.66 800.07h0M215.93 733.64h0M215.68 801.87h0M215.55 749.18h0M215.24 810.47h0M215.51 740.41h0M215.96 807.51h0M215.23 785.19h0M216.1 804.03h0M215.33 754.38h0M215.49 782.51h0M215.42 805.34h0M215.47 729.55h0M215.78 791.31h0M216.04 756.81h0M215.85 804.76h0M215.49 758.13h0M216.08 776.17h0M215.96 804.39h0M215.4 809.88h0M215.8 819.07h0M216.13 736.47h0M215.81 789.07h0M215.55 807.55h0M215.81 806.36h0M215.18 775.55h0M215.69 728.9h0M215.67 760.5h0M215.49 757.05h0M215.23 751.03h0M215.41 786.82h0M215.28 752.16h0M215.37 816.05h0M216.1 801.27h0M215.53 795.12h0M215.07 796.07h0M215.41 804.85h0M215.72 785.14h0M215.13 777.96h0M216.11 748.1h0M215.27 815.11h0M215.85 780.65h0M215.25 785.83h0M215.39 735.26h0M215.57 759.27h0M215.74 808.4h0M215.41 754.45h0M215.48 789.69h0M215.27 769.69h0M215.11 809.78h0M215.96 776.59h0M215.31 781.15h0M216.14 800.47h0M215.12 808.09h0M215.55 805.4h0M216.15 791.5h0M215.5 823.94h0M215.45 789.21h0M215.69 789.08h0M215.93 728.9h0M215.13 775.58h0M215.18 808.35h0M215.57 782.97h0M215.45 776.81h0M215.17 758.94h0M215.09 782.62h0M216.13 805.87h0M215.84 730.79h0M215.92 814.08h0M215.44 786.26h0M215.79 806.58h0M215.44 778.77h0M215.52 792.25h0M215.27 772.48h0M215.4 784.04h0M215.9 762.69h0M215.95 824.2h0M215.49 755.14h0M215.18 730.28h0M215.15 781.11h0M215.67 810.19h0M215.87 799.07h0M215.43 772.36h0M215.24 793.16h0M215.6 801.16h0M215.44 804.55h0M215.22 802.12h0M215.4 748.96h0M215.94 775.04h0M215.33 752.88h0M215.61 736.82h0M215.1 771.21h0M215.46 782.63h0M215.44 731.43h0M215.62 806.31h0M215.16 802.97h0M216.02 779.23h0M215.34 771.2h0M215.44 757.83h0M215.48 768.19h0M215.08 734.86h0M215.76 806.58h0M215.99 756.83h0M215.9 811.38h0M216.05 824.2h0M215.2 771.91h0M216.04 787.84h0M215.48 793.38h0M215.9 821.25h0M215.9 809.74h0M215.07 801.98h0M216.12 771.88h0M215.32 780.48h0M215.12 796.54h0M215.4 778.7h0M215.72 824.2h0M215.36 796.13h0M215.9 772.57h0M215.45 796.25h0M215.96 804.8h0M215.33 779.88h0M216.15 803.78h0M215.43 774.45h0M215.27 782.43h0M215.25 794.71h0M215.49 794.13h0M215.51 813.8h0M215.33 748.01h0M215.72 793h0M215.18 779.59h0M215.22 763.76h0M215.91 823.61h0M215.34 761.63h0M216.16 790.13h0M216.02 787.97h0M215.55 795.23h0M216.05 742.06h0M216.13 824.2h0M215.47 811.3h0M215.33 818.48h0M215.19 769.07h0M215.53 824.2h0M215.84 776.38h0M216.03 781.53h0M215.7 765.81h0M216.08 749.89h0M215.22 736.17h0M215.78 786.24h0M215.56 775.93h0M215.68 795.39h0M215.96 824.2h0M215.09 755.6h0M216.16 781.25h0M215.51 806.61h0M215.67 753.74h0M215.78 756.27h0M215.62 818.41h0M215.68 774.01h0M215.62 754.24h0M215.78 735.53h0M216.04 801.32h0M215.97 780.98h0M215.32 817.26h0M215.9 800.73h0M215.1 776.37h0M215.75 790.36h0M215.73 806.91h0M215.8 787.42h0M215.58 786.42h0M215.98 801.73h0M216.05 803.09h0M215.77 777.06h0M215.66 742.39h0M216.12 789.06h0M216.07 823.8h0M216.14 750.45h0M215.73 807.23h0M215.92 803.15h0M215.63 806.48h0M215.9 771.1h0M215.22 818.61h0M215.18 799.88h0M215.42 824.2h0M215.77 789.41h0M215.5 797.33h0M215.36 770.26h0M215.18 766h0M215.5 788.08h0M215.54 731.96h0M215.94 761.79h0M216.11 797.1h0M215.25 783.98h0M215.45 802.63h0M215.49 745h0M215.51 806.78h0M215.61 728.9h0M215.61 824.2h0" stroke="#c97cf2" stroke-width="2.6" stroke-linecap="round" fill="none"/>
<path d="M212.51 779.7h6.2" stroke="#c97cf2" stroke-opacity="0.8" stroke-width="1.0"/>
<text x="212.66" y="709.4" font-size="6.4" text-anchor="middle" fill="#333">***</text>
<text x="0" y="0" font-size="7.6" text-anchor="end" fill="#333" transform="translate(217.66 853.2) rotate(-60)">SIK1</text>
<path d="M227.08 847.1v2.2" stroke="#333" stroke-width="0.8"/>
<rect x="221.03" y="751.2" width="6.2" height="8.4" fill="#68f0c6" fill-opacity="0.18" stroke="#68f0c6" stroke-opacity="0.75" stroke-width="0.7"/>
<path d="M224.13 740V751.2M224.13 759.6V774.7" stroke="#68f0c6" stroke-opacity="0.75" stroke-width="0.7"/>
<path d="M223.86 754.15h0M224.33 750.95h0M223.73 757.45h0M224.33 762.61h0M223.93 758.48h0M224.03 760.5h0M223.59 762.64h0M224.2 758.53h0M224.65 752.62h0M224.54 761.67h0M224.05 745.24h0M224.49 752.89h0M223.93 742.67h0M224.15 758.95h0M224.16 761.88h0M224.53 755.01h0M224.35 756h0M224.19 743.6h0M224.62 746.03h0M223.94 774.01h0M224.66 752.65h0M223.86 754.64h0M223.85 753.75h0M224.68 757.52h0M223.67 765.28h0M224.64 760.68h0M223.93 757.38h0M224.28 754.32h0M224.28 764.01h0M224.08 748.1h0M224.4 751.63h0M223.69 742.33h0M224.63 745h0M224.01 750.12h0M223.78 754.1h0M224.26 756.42h0M223.83 755.34h0M224.08 753.26h0M224.16 764.17h0M223.76 747.46h0M224.04 760.75h0M224.58 748.36h0M224.59 757.34h0M224.33 759.11h0M224 762.61h0M223.96 757.15h0M223.65 763.44h0M224.22 752.13h0M224.07 757.59h0M224.07 755.79h0M224.33 763.39h0M224.31 746.44h0M223.77 755.26h0M224.6 768.61h0M223.67 752.31h0M223.6 755.35h0M224.07 754.99h0M223.88 749.81h0M223.66 765.63h0M223.96 750.23h0M223.63 773.45h0M224.61 746.47h0M223.91 769.39h0M223.82 755h0M223.78 754.76h0M224.46 754.29h0M223.99 749.51h0M223.83 743.12h0M224.41 748.12h0M223.71 772.65h0M223.82 760.88h0M223.68 757.02h0M224.34 765.1h0M223.94 754.81h0M224.11 771.97h0M224.41 745.75h0M223.71 773.92h0M224.21 756.33h0M224.24 755.55h0M223.84 758.11h0M223.92 749.97h0M223.93 762.65h0M224.24 754.74h0M224.13 740h0M224.13 774.7h0" stroke="#68f0c6" stroke-width="2.6" stroke-linecap="round" fill="none"/>
<path d="M221.03 755.4h6.2" stroke="#68f0c6" stroke-opacity="0.8" stroke-width="1.0"/>
<rect x="226.93" y="747.3" width="6.2" height="11.4" fill="#c97cf2" fill-opacity="0.18" stroke="#c97cf2" stroke-opacity="0.75" stroke-width="0.7"/>
<path d="M230.03 729.4V747.3M230.03 758.7V778" stroke="#c97cf2" stroke-opacity="0.75" stroke-width="0.7"/>
<path d="M230.24 745.2h0M230.3 763.57h0M229.6 754.18h0M230.44 764.47h0M229.87 763.95h0M230.53 761.42h0M230.17 761.22h0M230.38 733.76h0M229.62 757.4h0M230.32 747.45h0M230.19 739.33h0M230.48 745.81h0M229.74 759.71h0M230.07 751.31h0M229.98 751.64h0M230.21 743.54h0M229.9 763.14h0M230.12 729.47h0M230.18 761.39h0M230.43 759.41h0M230.17 752.37h0M229.77 730.96h0M230.46 760.94h0M229.91 743.25h0M229.7 758.15h0M230.09 759.2h0M229.65 752.15h0M229.65 762.21h0M230.51 758.63h0M229.65 763.62h0M229.88 743.5h0M229.92 740.66h0M229.63 771.07h0M229.78 744.85h0M229.9 755.83h0M229.8 749.11h0M230.44 757.75h0M230.46 751.43h0M229.71 769h0M230.43 738.94h0M230.47 738.04h0M230.36 763.39h0M229.69 744.45h0M230.57 747.8h0M229.84 761.65h0M230.2 750.3h0M229.64 748.37h0M230.51 765.22h0M229.73 731.72h0M230.18 748.65h0M230.11 756.13h0M230.28 729.4h0M229.73 757.51h0M230.39 751.56h0M229.56 756.76h0M229.7 757.11h0M229.63 753.82h0M229.57 746.3h0M229.87 758.06h0M230.54 754.81h0M230.48 742.01h0M230.31 749.69h0M229.91 757.62h0M229.91 747.6h0M229.87 763.78h0M229.77 749.14h0M229.55 751.79h0M230.09 746.75h0M230.18 757.74h0M230.5 749.63h0M229.63 751.57h0M229.56 753.37h0M229.75 759.51h0M230.49 762.17h0M230.14 744.14h0M230.58 764.51h0M229.95 761.49h0M229.89 769.75h0M230.46 744.59h0M230.24 750.11h0M229.72 756.43h0M229.7 761.42h0M229.87 739.3h0M230.28 757.43h0M230.02 731.05h0M229.87 755.32h0M230.23 731.49h0M230.58 746.74h0M229.83 741.79h0M230.07 756.64h0M230.1 736.28h0M229.72 765.04h0M229.69 744.65h0M230.17 743h0M229.83 741.82h0M229.55 767.13h0M229.76 749.86h0M230.49 748.31h0M229.99 741.8h0M230.19 743.93h0M230.28 737.56h0M230.26 756.75h0M229.49 756.59h0M230.57 764.94h0M230.06 746.45h0M230.2 749.96h0M229.59 773.55h0M230.2 740.32h0M230.29 745.77h0M229.88 736.07h0M230.23 746.78h0M230.03 729.4h0M230.03 778h0" stroke="#c97cf2" stroke-width="2.6" stroke-linecap="round" fill="none"/>
<path d="M226.93 752.3h6.2" stroke="#c97cf2" stroke-opacity="0.8" stroke-width="1.0"/>
<text x="227.08" y="709.4" font-size="6.4" text-anchor="middle" fill="#333">**</text>
<text x="0" y="0" font-size="7.6" text-anchor="end" fill="#333" transform="translate(232.08 853.2) rotate(-60)">PTRH2</text>
<path d="M241.5 847.1v2.2" stroke="#333" stroke-width="0.8"/>
<rect x="235.45" y="747.8" width="6.2" height="8.4" fill="#68f0c6" fill-opacity="0.18" stroke="#68f0c6" stroke-opacity="0.75" stroke-width="0.7"/>
<path d="M238.55 732.7V747.8M238.55 756.2V766.3" stroke="#68f0c6" stroke-opacity="0.75" stroke-width="0.7"/>
<path d="M238.55 747.25h0M238.02 751.75h0M238.87 741.46h0M238.77 748.03h0M239.01 754.89h0M238.54 740.15h0M238.22 755.53h0M238.01 739.39h0M238.67 748.67h0M238.95 745.95h0M238.11 734.36h0M238.24 760.85h0M239.04 766.3h0M238.09 750.05h0M238.97 761.66h0M238.54 743.48h0M238.67 753.62h0M239.07 749.53h0M238.28 753.37h0M239.05 758.31h0M238.46 754.36h0M238.59 751.51h0M238.35 749.2h0M238.73 754.2h0M238.91 749.99h0M238.24 762.2h0M238.35 746.28h0M238.68 752.12h0M239.05 733.39h0M238.03 763.51h0M238.17 749.23h0M238 751.66h0M238.82 755.45h0M238.82 748.15h0M238.41 758.01h0M238.99 758.62h0M238.46 766.3h0M238.44 749.13h0M238.45 762.68h0M238.06 766.3h0M238.63 753.89h0M238.44 749.46h0M238.8 745.19h0M238.33 763.63h0M238.77 753.46h0M238.93 755.24h0M238.01 759.23h0M238.63 736.01h0M239.04 746.62h0M238.64 765.71h0M238.24 738.09h0M238.51 756.37h0M239.02 762.75h0M238.43 744.31h0M238.62 736.49h0M238.79 757.3h0M238.57 746.49h0M238.98 758.99h0M238.61 733.71h0M239.03 757.56h0M238.17 749.42h0M238.7 738.13h0M238.09 766.06h0M239.08 747.71h0M238.45 733.03h0M238.8 751.11h0M238.49 756.88h0M238.57 740.56h0M238.98 746.39h0M238.42 756.91h0M238.73 738.58h0M238.15 761.36h0M238.63 766.3h0M238.49 757.33h0M238.51 751.61h0M238.39 760.29h0M238.27 748.53h0M238.23 736.07h0M238.62 740.51h0M238.02 762.05h0M238.58 746.58h0M238.55 732.7h0M238.55 766.3h0" stroke="#68f0c6" stroke-width="2.6" stroke-linecap="round" fill="none"/>
<path d="M235.45 751.2h6.2" stroke="#68f0c6" stroke-opacity="0.8" stroke-width="1.0"/>
<rect x="241.35" y="749" width="6.2" height="14.4" fill="#c97cf2" fill-opacity="0.18" stroke="#c97cf2" stroke-opacity="0.75" stroke-width="0.7"/>
<path d="M244.45 736V749M244.45 763.4V791.4" stroke="#c97cf2" stroke-opacity="0.75" stroke-width="0.7"/>
<path d="M244.49 737.71h0M244.92 738.25h0M244.35 736h0M244.85 759.33h0M244.19 753.93h0M244.9 744.46h0M244.17 737.2h0M244.38 769.47h0M244.22 764.47h0M244.08 736h0M244.98 762.19h0M244.99 766.04h0M244.28 765.12h0M244.03 748.24h0M244.4 760.7h0M244.26 751.76h0M244.62 756.86h0M244.28 758.36h0M243.99 759.61h0M244.38 770.93h0M244.52 761.52h0M244.32 772.25h0M244.08 736h0M244.39 744.93h0M244.41 753.45h0M244.09 782.04h0M244.16 739.15h0M244.15 753.82h0M244.46 780.56h0M244.27 756.2h0M244.58 756.84h0M244.13 755.46h0M244.94 766.51h0M244.78 776.2h0M244.45 739.35h0M244.53 772.26h0M244.96 763.85h0M244.05 749.15h0M243.93 752.38h0M244.57 770.71h0M244.1 749.82h0M244.96 757.32h0M244.2 753.83h0M244.67 770.33h0M244.74 749.9h0M244.38 777.69h0M244.92 757.93h0M244 736h0M244.19 772.91h0M244.3 774.8h0M243.94 751.67h0M244.15 788.72h0M244.49 759.49h0M244.93 753.01h0M244.17 753.72h0M244.05 789.42h0M244.31 752.82h0M244.64 755.59h0M243.96 783.23h0M243.92 740.62h0M244.02 756.64h0M243.95 754.56h0M243.92 755.03h0M244.17 763.63h0M244.77 775.17h0M244.55 778.85h0M244.84 771.71h0M244.32 741.53h0M244.91 745.36h0M244.79 756.28h0M243.97 763.03h0M243.9 786.6h0M244.19 759.86h0M244.34 756.54h0M244.23 755.54h0M244.26 755.96h0M244.82 787.01h0M244.15 763.33h0M244.79 748.78h0M244.41 758.56h0M244.21 740.88h0M244.85 743.28h0M244.5 750.83h0M244.66 746.12h0M244.25 768.56h0M244.87 736.14h0M243.93 752.06h0M243.99 755.51h0M244.88 771.24h0M244.61 751.4h0M244.58 761.67h0M244.54 746.72h0M244.31 755.29h0M244.91 748.5h0M244.85 748.33h0M244.25 768.97h0M244.92 755.9h0M244.54 777.83h0M244.44 756.72h0M244.69 763.76h0M244.13 746.52h0M244.03 741.01h0M244.08 770.9h0M244.99 756.38h0M244.58 754.81h0M244.69 753.96h0M244.48 761.88h0M244.06 765.39h0M244.28 757.05h0M244.53 761.49h0M244.98 741.49h0M244.23 756.26h0M244.79 738.62h0M244.67 790.35h0M244.47 775.78h0M244.44 772.93h0M244.67 788.86h0M244.06 753.37h0M244.72 752.45h0M244.69 778h0M244.07 765.68h0M244.35 769.31h0M244.1 771.42h0M244.44 739.21h0M244.45 736h0M244.45 791.4h0" stroke="#c97cf2" stroke-width="2.6" stroke-linecap="round" fill="none"/>
<path d="M241.35 755.4h6.2" stroke="#c97cf2" stroke-opacity="0.8" stroke-width="1.0"/>
<text x="241.5" y="709.4" font-size="6.4" text-anchor="middle" fill="#333">**</text>
<text x="0" y="0" font-size="7.6" text-anchor="end" fill="#333" transform="translate(246.5 853.2) rotate(-60)">STAT3</text>
<path d="M255.92 847.1v2.2" stroke="#333" stroke-width="0.8"/>
<rect x="249.87" y="783.9" width="6.2" height="14.3" fill="#68f0c6" fill-opacity="0.18" stroke="#68f0c6" stroke-opacity="0.75" stroke-width="0.7"/>
<path d="M252.97 763.8V783.9M252.97 798.2V815.4" stroke="#68f0c6" stroke-opacity="0.75" stroke-width="0.7"/>
<path d="M253.26 789.75h0M253.28 790.34h0M253.22 801.12h0M252.42 793.5h0M253.39 778.77h0M252.84 769.12h0M252.86 798.85h0M253.31 782.21h0M252.84 777.5h0M252.94 775.97h0M253.5 774.86h0M253.14 790.26h0M253.09 775.18h0M253 775.75h0M252.82 805.32h0M253.09 782.63h0M252.61 792.47h0M252.53 797.49h0M253.44 775.5h0M253.4 807.88h0M253.4 780.97h0M252.92 786.57h0M253.06 803.98h0M253.32 791.41h0M253.05 786.75h0M253.13 782.51h0M253.11 795.42h0M252.77 789.72h0M252.86 792h0M253.38 794.33h0M252.92 769.88h0M252.69 782.9h0M252.8 785.04h0M252.99 799.23h0M253.29 773.19h0M252.93 797.48h0M253.16 814.98h0M252.75 782.77h0M252.89 806.87h0M252.46 791.19h0M252.8 777.39h0M252.51 790.45h0M253.49 783.24h0M252.47 787.55h0M252.69 791.96h0M253.29 775.9h0M252.68 783.19h0M253.44 808.33h0M252.87 795.51h0M253.44 798.48h0M253.18 764.43h0M252.65 793.19h0M253.16 774.49h0M252.88 813.18h0M252.55 797.26h0M252.58 774.01h0M253.28 771.79h0M252.52 809.09h0M253.46 779.01h0M253.33 800.79h0M252.49 795.11h0M253.33 791.84h0M253.22 780.75h0M253.37 794.73h0M252.54 796.71h0M253.06 810.13h0M253.05 772h0M252.72 791.8h0M253.37 791.1h0M253.38 802.66h0M252.98 790.84h0M253.39 809.62h0M252.97 792.55h0M253.46 796.63h0M253.13 778.47h0M253.43 797.78h0M253.17 793.35h0M252.82 787.84h0M253.42 787.51h0M253.01 789.65h0M252.77 796.11h0M253.07 768.57h0M252.91 776.31h0M253.01 793.35h0M253.27 799.04h0M253.29 802.18h0M253.11 815.03h0M253.1 785.15h0M252.52 804.73h0M253.35 793.56h0M253.14 778.04h0M252.43 806.34h0M252.86 802.72h0M252.92 785.84h0M253.29 790.16h0M252.73 786.28h0M252.95 784.55h0M253.28 770.86h0M253.12 785.47h0M252.84 779.9h0M253.14 788.24h0M253.25 772.38h0M252.48 770.5h0M253.17 796.6h0M252.83 788.56h0M253.4 779.59h0M252.45 771.73h0M252.87 774.76h0M253.01 805.21h0M252.74 798.6h0M253.32 796.06h0M253.24 781.17h0M252.7 800.26h0M252.75 807.46h0M252.78 778.3h0M253.37 794.03h0M252.86 780.94h0M252.97 763.8h0M252.97 815.4h0" stroke="#68f0c6" stroke-width="2.6" stroke-linecap="round" fill="none"/>
<path d="M249.87 791.4h6.2" stroke="#68f0c6" stroke-opacity="0.8" stroke-width="1.0"/>
<rect x="255.77" y="772.1" width="6.2" height="19.3" fill="#c97cf2" fill-opacity="0.18" stroke="#c97cf2" stroke-opacity="0.75" stroke-width="0.7"/>
<path d="M258.87 749.5V772.1M258.87 791.4V813.3" stroke="#c97cf2" stroke-opacity="0.75" stroke-width="0.7"/>
<path d="M258.65 782.41h0M259.15 770.65h0M258.97 773.81h0M259.19 752.48h0M258.44 781.89h0M258.7 780.88h0M259.09 772.22h0M258.84 769.13h0M258.79 800.45h0M258.69 790.3h0M258.6 767.26h0M258.46 781.7h0M258.87 764.38h0M259.29 782.4h0M258.37 777.72h0M258.59 781.83h0M259.32 772.31h0M259.35 782.6h0M259.12 759.41h0M258.91 782.2h0M258.63 782.88h0M258.55 788.59h0M259.02 793.13h0M258.93 794.33h0M258.52 782.67h0M258.98 776.02h0M258.34 762.35h0M259.13 809.91h0M258.43 751.05h0M259.11 780.43h0M259.25 758.5h0M259.06 759.56h0M259.02 795.04h0M258.58 772.2h0M259.12 804.21h0M259.11 768.98h0M259.28 792.34h0M258.34 756.46h0M258.51 775.71h0M259.4 801.07h0M259.18 753.6h0M259 765.31h0M258.89 764.91h0M259.41 794.69h0M258.61 806.04h0M259.11 790.23h0M258.46 780.99h0M258.79 785.26h0M258.96 787.51h0M258.41 781.94h0M258.77 778.61h0M259 782.84h0M258.64 774.44h0M258.93 788.21h0M258.44 793.53h0M258.75 780.38h0M258.64 754.21h0M258.41 772.54h0M259.09 784.23h0M259.25 793.69h0M258.85 813.3h0M258.54 791.17h0M258.88 802.26h0M259.31 766.1h0M258.49 779.25h0M258.33 766.38h0M259.01 773.85h0M259.01 803.86h0M258.69 795.06h0M259.01 791.31h0M259.22 790.09h0M259.18 780.57h0M259.2 778.06h0M258.85 792.87h0M258.97 780.97h0M258.73 761.31h0M258.87 806.18h0M258.52 806.73h0M259.15 761.7h0M259.29 785.91h0M258.53 771.1h0M259.29 782.47h0M258.94 772.91h0M258.52 804.65h0M258.72 793.25h0M259.14 774.38h0M259.24 792.51h0M259.27 813.3h0M259.4 783.31h0M258.88 767.01h0M258.64 796.62h0M259.06 790.09h0M258.99 775.17h0M258.68 794.22h0M258.91 775.84h0M258.62 801.25h0M258.49 783.75h0M258.33 806.77h0M258.46 775.26h0M258.49 796.77h0M259.04 781.99h0M258.37 772.45h0M259.08 813.3h0M258.89 759.55h0M259.3 790.19h0M259.33 770.57h0M258.93 762.52h0M259.34 798.22h0M258.52 780.7h0M259.03 792.83h0M258.71 782.79h0M258.33 775.96h0M259.16 785.89h0M258.82 771.33h0M258.71 779.07h0M258.42 811.07h0M259.34 774.69h0M259.34 776.94h0M258.47 812.81h0M258.81 768.94h0M259.35 777.44h0M259.23 774.14h0M259.01 782.04h0M258.39 773.79h0M258.36 762.48h0M258.84 781.3h0M258.53 789.83h0M258.38 783.29h0M258.58 804.95h0M258.48 781.88h0M258.35 771.96h0M259.21 772.98h0M258.34 802.65h0M259.2 765.59h0M259.22 761.22h0M258.47 750.02h0M258.98 791.18h0M259.06 780.35h0M258.35 772.92h0M258.89 810.66h0M258.81 760.11h0M258.87 749.5h0M258.87 813.3h0" stroke="#c97cf2" stroke-width="2.6" stroke-linecap="round" fill="none"/>
<path d="M255.77 781.9h6.2" stroke="#c97cf2" stroke-opacity="0.8" stroke-width="1.0"/>
<text x="255.92" y="709.4" font-size="6.4" text-anchor="middle" fill="#333">***</text>
<text x="0" y="0" font-size="7.6" text-anchor="end" fill="#333" transform="translate(260.92 853.2) rotate(-60)">TLE1</text>
<path d="M270.34 847.1v2.2" stroke="#333" stroke-width="0.8"/>
<rect x="264.29" y="817.1" width="6.2" height="2.9" fill="#68f0c6" fill-opacity="0.18" stroke="#68f0c6" stroke-opacity="0.75" stroke-width="0.7"/>
<path d="M267.39 802.7V817.1M267.39 820V822.5" stroke="#68f0c6" stroke-opacity="0.75" stroke-width="0.7"/>
<path d="M267.54 814.69h0M267 815.95h0M267.58 807.43h0M267.27 822.48h0M266.89 820.34h0M267.13 820.51h0M267.93 815.86h0M267.66 819.63h0M267.06 818.43h0M267.36 820.61h0M267.78 818.62h0M267.56 816.51h0M266.91 821.04h0M267.92 817.99h0M267.4 817.94h0M267.01 819.32h0M267.49 815.83h0M267.32 816.05h0M267.4 815.74h0M267.73 814.26h0M267.09 808.53h0M267.79 817.05h0M267.78 816.46h0M266.85 819.89h0M267.87 819.71h0M267.31 808.9h0M267.04 819.42h0M267.93 820.01h0M267.24 818.24h0M267.14 818.21h0M267.34 821.11h0M267.19 819.52h0M267.68 816.11h0M267.41 816.27h0M267.74 818.15h0M267.46 816.11h0M267.87 811.88h0M267.79 817.43h0M267.76 818.35h0M267.5 817.97h0M267.07 818.85h0M267.31 822.5h0M267.09 819.69h0M267 817.57h0M267.76 820h0M267.4 821.38h0M267.17 816.06h0M267.64 805.81h0M267.9 817.81h0M267.43 819.06h0M267.33 818.09h0M267 813.52h0M267.09 817.79h0M267.39 802.7h0M267.39 822.5h0" stroke="#68f0c6" stroke-width="2.6" stroke-linecap="round" fill="none"/>
<path d="M264.29 818.5h6.2" stroke="#68f0c6" stroke-opacity="0.8" stroke-width="1.0"/>
<rect x="270.19" y="814.1" width="6.2" height="4.2" fill="#c97cf2" fill-opacity="0.18" stroke="#c97cf2" stroke-opacity="0.75" stroke-width="0.7"/>
<path d="M273.29 797.3V814.1M273.29 818.3V824.2" stroke="#c97cf2" stroke-opacity="0.75" stroke-width="0.7"/>
<path d="M273.69 812.73h0M273.39 812.55h0M273.4 823.65h0M273.71 819.44h0M273.38 822.87h0M273 820.33h0M273.74 814.49h0M272.86 805.86h0M272.97 805.38h0M273.25 823.03h0M273.09 818.7h0M272.82 817.16h0M273.22 817.59h0M273.57 818.88h0M273.33 818.37h0M273.32 819.96h0M272.85 803.1h0M273.69 813.18h0M273.36 815.58h0M273.42 820.41h0M273.36 820.48h0M273.14 813.59h0M273.5 815.39h0M273.64 816.05h0M273.44 801.6h0M273.23 814.95h0M272.81 816.29h0M272.83 815.68h0M273.48 802.48h0M273.47 822.84h0M273.42 813.98h0M272.91 805.71h0M272.79 820.06h0M272.82 811.96h0M273.8 817.07h0M273.78 799.21h0M272.86 812.65h0M273.16 815.45h0M273.32 811.13h0M273.36 810.86h0M273.46 815.04h0M273.22 813.92h0M273.64 814.6h0M272.82 820.26h0M273.03 805.83h0M273.47 815.77h0M272.97 810.2h0M273.5 818.45h0M273.41 822.12h0M273.46 817.91h0M273.83 818.23h0M273.7 816.19h0M273.2 814.48h0M273.45 822.79h0M273.05 800.27h0M273.36 814.5h0M273.73 817.52h0M272.87 815.35h0M273.81 816.18h0M272.95 815.54h0M273.14 815.18h0M273.8 808.38h0M273.02 804.23h0M273.01 816.57h0M273.78 810.6h0M273.13 815.88h0M273.67 819.33h0M273.29 797.3h0M273.29 824.2h0" stroke="#c97cf2" stroke-width="2.6" stroke-linecap="round" fill="none"/>
<path d="M270.19 816.3h6.2" stroke="#c97cf2" stroke-opacity="0.8" stroke-width="1.0"/>
<text x="270.34" y="709.4" font-size="6.4" text-anchor="middle" fill="#333">**</text>
<text x="0" y="0" font-size="7.6" text-anchor="end" fill="#333" transform="translate(275.34 853.2) rotate(-60)">DAPK2</text>
<path d="M284.76 847.1v2.2" stroke="#333" stroke-width="0.8"/>
<rect x="278.71" y="761.2" width="6.2" height="6.8" fill="#68f0c6" fill-opacity="0.18" stroke="#68f0c6" stroke-opacity="0.75" stroke-width="0.7"/>
<path d="M281.81 748.7V761.2M281.81 768V778.9" stroke="#68f0c6" stroke-opacity="0.75" stroke-width="0.7"/>
<path d="M281.31 751.68h0M282.26 773.63h0M281.44 757.75h0M282.35 771.51h0M282.34 767.66h0M282.34 776.95h0M281.68 758.27h0M281.83 778.38h0M282.13 771.55h0M281.61 757.81h0M282.32 765.94h0M282.34 765.19h0M282.32 772.52h0M281.55 759.95h0M282.35 767.16h0M281.88 777.47h0M281.27 765.38h0M282.04 772.32h0M281.32 756.44h0M282.34 765.82h0M282.29 771.35h0M281.56 761.94h0M281.51 764.01h0M282.35 765.99h0M281.4 774.84h0M281.89 766.13h0M282.05 761.95h0M282.18 762.64h0M281.79 771.9h0M281.49 756.64h0M282.2 761.68h0M281.95 766.22h0M281.59 767.68h0M281.94 765.66h0M281.29 760.97h0M282.23 759.98h0M281.89 762.25h0M282.25 761.38h0M281.52 771.16h0M281.68 766.96h0M282.17 760.52h0M282.1 771.85h0M281.45 763.62h0M281.42 756.9h0M282.06 764.93h0M281.61 765.09h0M282.21 759.79h0M281.55 763.53h0M282.03 767.82h0M281.41 768.11h0M281.97 769.71h0M281.76 772.92h0M282.05 759.26h0M281.45 768.15h0M282.18 771.94h0M282.25 758.44h0M282.17 758.22h0M281.47 772.7h0M282.01 756.77h0M282.08 764.44h0M282.35 760.77h0M281.3 761.17h0M282.01 768.32h0M282.15 767.86h0M282.08 764.87h0M282.2 768.8h0M281.53 766.29h0M282.3 756.39h0M281.28 756.67h0M281.53 765.67h0M281.78 758.35h0M281.41 763.07h0M281.33 766.85h0M281.48 764.32h0M281.81 748.7h0M281.81 778.9h0" stroke="#68f0c6" stroke-width="2.6" stroke-linecap="round" fill="none"/>
<path d="M278.71 765.8h6.2" stroke="#68f0c6" stroke-opacity="0.8" stroke-width="1.0"/>
<rect x="284.61" y="752" width="6.2" height="10.4" fill="#c97cf2" fill-opacity="0.18" stroke="#c97cf2" stroke-opacity="0.75" stroke-width="0.7"/>
<path d="M287.71 733.6V752M287.71 762.4V786.4" stroke="#c97cf2" stroke-opacity="0.75" stroke-width="0.7"/>
<path d="M287.85 761.97h0M287.9 772.36h0M287.6 761.59h0M287.94 774.53h0M287.67 744.58h0M288.03 757.56h0M287.67 761.11h0M287.18 765.82h0M287.75 749.89h0M288.24 754.61h0M287.17 761.36h0M287.82 770.8h0M287.32 750.37h0M287.69 736.11h0M287.9 779.28h0M288.08 761.02h0M287.34 753.44h0M287.8 756.8h0M287.36 753.87h0M287.57 742.31h0M287.43 766.64h0M287.21 750.97h0M287.19 749.04h0M287.23 747.93h0M287.19 756.82h0M288.13 750.15h0M287.5 767.36h0M287.76 783.38h0M288.17 759.99h0M287.38 740.94h0M287.65 749.27h0M287.84 762.03h0M287.95 766.79h0M288.1 734.67h0M287.51 757.12h0M287.35 749.38h0M288.21 756.23h0M288.25 752.63h0M287.77 762.03h0M288.17 750.33h0M287.56 743.21h0M287.49 759.4h0M287.65 762.54h0M287.31 772.95h0M287.8 773.22h0M287.62 734.44h0M287.21 755.06h0M287.8 756.83h0M288.14 757.24h0M287.79 750.78h0M287.84 755.46h0M287.26 753.5h0M287.73 763.75h0M287.84 766.61h0M288.12 752.4h0M288.15 747.86h0M287.23 766.75h0M288.08 751.97h0M288.11 761.86h0M287.65 759.98h0M287.57 760.75h0M288.2 765.32h0M287.41 765.28h0M287.25 759.63h0M288.03 764.55h0M287.46 769.38h0M287.5 767.27h0M288.1 763.67h0M287.94 769.62h0M287.53 752.48h0M288 743.2h0M287.65 767.96h0M287.3 754.12h0M287.8 744.31h0M287.71 760.19h0M287.24 761.91h0M287.69 755.05h0M287.42 760.23h0M288.22 765.84h0M287.48 746.01h0M287.49 743.81h0M288.24 748.7h0M287.67 765.35h0M287.99 772.93h0M287.65 758.74h0M287.57 755.73h0M287.99 760.84h0M287.36 753.37h0M287.36 763.6h0M287.48 764.16h0M287.52 757.1h0M287.23 765.34h0M287.73 753.62h0M287.94 760.29h0M287.69 756.1h0M288.23 751.61h0M287.44 756.94h0M287.97 735.84h0M287.63 747.23h0M287.77 750.96h0M287.87 759.65h0M288.06 763.85h0M287.48 757.12h0M287.41 762.5h0M287.51 752.32h0M287.76 780.27h0M287.29 759.36h0M287.72 760.35h0M288.25 754.84h0M288.04 752.68h0M287.71 764.51h0M287.19 763.22h0M287.36 756.3h0M287.97 764.42h0M287.36 746.37h0M287.46 773.34h0M287.29 755.44h0M288.14 749.05h0M287.28 768.68h0M287.71 733.6h0M287.71 786.4h0" stroke="#c97cf2" stroke-width="2.6" stroke-linecap="round" fill="none"/>
<path d="M284.61 757.9h6.2" stroke="#c97cf2" stroke-opacity="0.8" stroke-width="1.0"/>
<text x="284.76" y="709.4" font-size="6.4" text-anchor="middle" fill="#333">***</text>
<text x="0" y="0" font-size="7.6" text-anchor="end" fill="#333" transform="translate(289.76 853.2) rotate(-60)">CTNNB1</text>
<path d="M299.18 847.1v2.2" stroke="#333" stroke-width="0.8"/>
<rect x="293.13" y="815.8" width="6.2" height="5.3" fill="#68f0c6" fill-opacity="0.18" stroke="#68f0c6" stroke-opacity="0.75" stroke-width="0.7"/>
<path d="M296.23 800.3V815.8M296.23 821.1V827.9" stroke="#68f0c6" stroke-opacity="0.75" stroke-width="0.7"/>
<path d="M295.95 823.72h0M296.23 805.64h0M295.73 818.74h0M295.7 805.37h0M295.97 817.7h0M296.1 821.19h0M296.55 824.8h0M295.71 812.99h0M296.03 820.47h0M296.28 821.24h0M295.9 819.59h0M295.94 821h0M296.02 817.28h0M296.63 809.08h0M295.74 818.95h0M295.97 822.52h0M296.33 815.84h0M296.13 823.14h0M296.26 825.06h0M295.73 815.58h0M296.03 825.22h0M296.41 815.89h0M295.86 825.05h0M296.59 820.86h0M295.74 820.37h0M296.59 820.75h0M296.69 813.5h0M296.42 813.92h0M296.75 823.43h0M296.65 821.62h0M295.83 823.58h0M296.54 823.66h0M295.72 823.91h0M296.63 808.25h0M295.89 817.55h0M296.59 827.42h0M296.06 821.23h0M296.01 813.52h0M296.66 815.54h0M296.48 806.57h0M295.81 815.03h0M296.31 823.29h0M296.74 816.73h0M296.72 818.23h0M296.71 805.62h0M295.91 804.09h0M296.29 808.58h0M296.65 818.65h0M296.71 818.51h0M296.04 827.6h0M296.5 815.07h0M295.8 812.64h0M296.44 818.95h0M296.31 818.16h0M295.86 815.41h0M296.25 822.69h0M296.08 820.63h0M296.19 819.29h0M295.73 815.51h0M296.55 822.67h0M295.96 818.05h0M296.73 813.8h0M295.69 825.85h0M295.92 820.35h0M296.54 825.53h0M296.57 813.72h0M296.18 816.32h0M295.87 813.87h0M296.31 821.45h0M296.23 800.3h0M296.23 827.9h0" stroke="#68f0c6" stroke-width="2.6" stroke-linecap="round" fill="none"/>
<path d="M293.13 818.3h6.2" stroke="#68f0c6" stroke-opacity="0.8" stroke-width="1.0"/>
<rect x="299.03" y="811" width="6.2" height="10.1" fill="#c97cf2" fill-opacity="0.18" stroke="#c97cf2" stroke-opacity="0.75" stroke-width="0.7"/>
<path d="M302.13 795.3V811M302.13 821.1V830" stroke="#c97cf2" stroke-opacity="0.75" stroke-width="0.7"/>
<path d="M302.59 800.25h0M302.09 823.67h0M302.43 810.25h0M301.59 803.94h0M301.68 802.63h0M302.67 813.43h0M301.69 818.14h0M301.69 818.83h0M302.07 826.3h0M301.83 819.28h0M301.89 814.15h0M302.29 813.11h0M302.01 808.68h0M302.4 821.01h0M301.74 813.12h0M301.6 820.94h0M301.68 818.38h0M301.75 795.84h0M302.64 800.17h0M302.68 811.96h0M301.86 812.79h0M301.7 820.07h0M301.99 806.72h0M302.21 813.67h0M302.11 809.89h0M302.19 816.64h0M302.01 819.46h0M301.68 804.14h0M302.21 814.96h0M302.22 799.53h0M302.05 817.08h0M302.42 818.75h0M302.41 816.4h0M302.01 804.58h0M301.67 812.72h0M301.68 816.13h0M302.34 812.74h0M302.34 814.8h0M301.83 805.34h0M302.33 805.79h0M302.44 796.75h0M302.25 826.95h0M302.56 819.95h0M301.69 799.45h0M301.93 812.97h0M302.2 813.17h0M302.01 804.71h0M301.87 825.16h0M302.25 819.81h0M302.64 813.65h0M301.81 807.04h0M302.64 817.48h0M302.39 821.6h0M302.41 802.69h0M302.36 819.93h0M301.69 819.74h0M302.45 829.77h0M301.92 822.23h0M302.61 824.84h0M302.66 814.49h0M302.58 798.7h0M301.94 819.27h0M302.64 807.49h0M302.37 813.46h0M302.48 823.62h0M301.96 827.6h0M302.22 814.95h0M301.68 816.26h0M302.63 820.39h0M302.06 808.6h0M301.72 808.86h0M302.43 797.22h0M302.01 820.83h0M302.12 814.21h0M302.37 826.55h0M302.59 810.31h0M302.09 815.64h0M301.71 818.89h0M302.23 824.69h0M301.59 811.13h0M301.9 829.04h0M301.76 822.63h0M302.32 808.84h0M302.13 795.3h0M302.13 830h0" stroke="#c97cf2" stroke-width="2.6" stroke-linecap="round" fill="none"/>
<path d="M299.03 816.1h6.2" stroke="#c97cf2" stroke-opacity="0.8" stroke-width="1.0"/>
<text x="0" y="0" font-size="7.6" text-anchor="end" fill="#333" transform="translate(304.18 853.2) rotate(-60)">ZNF304</text>
<rect x="113" y="677" width="100" height="18" fill="#fefcfe"/>
<text x="118" y="688.7" font-size="7" fill="#222">Type</text>
<path d="M142.7 681v2.6M142.7 689v2.6" stroke="#68f0c6" stroke-width="0.8"/>
<rect x="138.1" y="683.6" width="9.2" height="5.4" fill="#68f0c6" fill-opacity="0.15" stroke="#68f0c6" stroke-width="0.8"/>
<path d="M138.1 686.3h9.2" stroke="#68f0c6" stroke-width="1"/>
<circle cx="142.7" cy="686.3" r="0.9" fill="#68f0c6"/>
<text x="152" y="688.4" font-size="6.1" fill="#222">Control</text>
<path d="M180.8 681v2.6M180.8 689v2.6" stroke="#c97cf2" stroke-width="0.8"/>
<rect x="176.2" y="683.6" width="9.2" height="5.4" fill="#c97cf2" fill-opacity="0.15" stroke="#c97cf2" stroke-width="0.8"/>
<path d="M176.2 686.3h9.2" stroke="#c97cf2" stroke-width="1"/>
<circle cx="180.8" cy="686.3" r="0.9" fill="#c97cf2"/>
<text x="190.3" y="688.4" font-size="6.1" fill="#222">Tumor</text>
<rect x="375.9" y="683" width="237" height="210" fill="#141414"/>
<path fill="#10100e" d="M375.9 683h2.41v14h-2.41zM379.92 683h2.41v14h-2.41zM385.94 683h2.41v14h-2.41zM389.96 683h2.41v14h-2.41zM397.99 683h2.41v14h-2.41zM412.05 683h2.41v14h-2.41zM414.06 683h2.41v14h-2.41zM422.09 683h2.41v14h-2.41zM426.11 683h2.41v14h-2.41zM432.14 683h2.41v14h-2.41zM436.15 683h2.41v14h-2.41zM438.16 683h2.41v14h-2.41zM442.18 683h2.41v14h-2.41zM456.24 683h2.41v14h-2.41zM458.25 683h2.41v14h-2.41zM460.26 683h2.41v14h-2.41zM466.28 683h2.41v14h-2.41zM468.29 683h2.41v14h-2.41zM482.35 683h2.41v14h-2.41zM484.36 683h2.41v14h-2.41zM494.4 683h2.41v14h-2.41zM498.42 683h2.41v14h-2.41zM502.43 683h2.41v14h-2.41zM508.46 683h2.41v14h-2.41zM512.48 683h2.41v14h-2.41zM518.5 683h2.41v14h-2.41zM520.51 683h2.41v14h-2.41zM522.52 683h2.41v14h-2.41zM532.56 683h2.41v14h-2.41zM546.62 683h2.41v14h-2.41zM552.65 683h2.41v14h-2.41zM558.67 683h2.41v14h-2.41zM586.79 683h2.41v14h-2.41zM592.82 683h2.41v14h-2.41zM598.84 683h2.41v14h-2.41zM375.9 697h2.41v14h-2.41zM377.91 697h2.41v14h-2.41zM379.92 697h2.41v14h-2.41zM383.93 697h2.41v14h-2.41zM391.97 697h2.41v14h-2.41zM397.99 697h2.41v14h-2.41zM404.02 697h2.41v14h-2.41zM412.05 697h2.41v14h-2.41zM422.09 697h2.41v14h-2.41zM424.1 697h2.41v14h-2.41zM426.11 697h2.41v14h-2.41zM428.12 697h2.41v14h-2.41zM438.16 697h2.41v14h-2.41zM444.19 697h2.41v14h-2.41zM446.2 697h2.41v14h-2.41zM460.26 697h2.41v14h-2.41zM466.28 697h2.41v14h-2.41zM472.31 697h2.41v14h-2.41zM478.33 697h2.41v14h-2.41zM480.34 697h2.41v14h-2.41zM484.36 697h2.41v14h-2.41zM488.37 697h2.41v14h-2.41zM490.38 697h2.41v14h-2.41zM510.47 697h2.41v14h-2.41zM512.48 697h2.41v14h-2.41zM516.49 697h2.41v14h-2.41zM530.55 697h2.41v14h-2.41zM538.59 697h2.41v14h-2.41zM542.6 697h2.41v14h-2.41zM548.63 697h2.41v14h-2.41zM554.65 697h2.41v14h-2.41zM558.67 697h2.41v14h-2.41zM574.74 697h2.41v14h-2.41zM578.76 697h2.41v14h-2.41zM580.76 697h2.41v14h-2.41zM588.8 697h2.41v14h-2.41zM606.87 697h2.41v14h-2.41zM381.93 711h2.41v14h-2.41zM391.97 711h2.41v14h-2.41zM404.02 711h2.41v14h-2.41zM416.07 711h2.41v14h-2.41zM418.08 711h2.41v14h-2.41zM428.12 711h2.41v14h-2.41zM430.13 711h2.41v14h-2.41zM444.19 711h2.41v14h-2.41zM446.2 711h2.41v14h-2.41zM448.21 711h2.41v14h-2.41zM452.22 711h2.41v14h-2.41zM458.25 711h2.41v14h-2.41zM460.26 711h2.41v14h-2.41zM472.31 711h2.41v14h-2.41zM474.32 711h2.41v14h-2.41zM480.34 711h2.41v14h-2.41zM490.38 711h2.41v14h-2.41zM494.4 711h2.41v14h-2.41zM496.41 711h2.41v14h-2.41zM522.52 711h2.41v14h-2.41zM524.53 711h2.41v14h-2.41zM536.58 711h2.41v14h-2.41zM544.61 711h2.41v14h-2.41zM548.63 711h2.41v14h-2.41zM554.65 711h2.41v14h-2.41zM564.7 711h2.41v14h-2.41zM590.81 711h2.41v14h-2.41zM604.87 711h2.41v14h-2.41zM606.87 711h2.41v14h-2.41zM610.89 711h2.01v14h-2.01zM375.9 725h2.41v14h-2.41zM377.91 725h2.41v14h-2.41zM385.94 725h2.41v14h-2.41zM387.95 725h2.41v14h-2.41zM389.96 725h2.41v14h-2.41zM400 725h2.41v14h-2.41zM416.07 725h2.41v14h-2.41zM418.08 725h2.41v14h-2.41zM422.09 725h2.41v14h-2.41zM424.1 725h2.41v14h-2.41zM430.13 725h2.41v14h-2.41zM432.14 725h2.41v14h-2.41zM436.15 725h2.41v14h-2.41zM446.2 725h2.41v14h-2.41zM450.21 725h2.41v14h-2.41zM464.27 725h2.41v14h-2.41zM468.29 725h2.41v14h-2.41zM470.3 725h2.41v14h-2.41zM474.32 725h2.41v14h-2.41zM484.36 725h2.41v14h-2.41zM490.38 725h2.41v14h-2.41zM492.39 725h2.41v14h-2.41zM498.42 725h2.41v14h-2.41zM500.43 725h2.41v14h-2.41zM518.5 725h2.41v14h-2.41zM550.64 725h2.41v14h-2.41zM566.71 725h2.41v14h-2.41zM584.78 725h2.41v14h-2.41zM592.82 725h2.41v14h-2.41zM375.9 739h2.41v14h-2.41zM377.91 739h2.41v14h-2.41zM381.93 739h2.41v14h-2.41zM383.93 739h2.41v14h-2.41zM387.95 739h2.41v14h-2.41zM391.97 739h2.41v14h-2.41zM395.98 739h2.41v14h-2.41zM397.99 739h2.41v14h-2.41zM404.02 739h2.41v14h-2.41zM408.04 739h2.41v14h-2.41zM414.06 739h2.41v14h-2.41zM416.07 739h2.41v14h-2.41zM418.08 739h2.41v14h-2.41zM426.11 739h2.41v14h-2.41zM436.15 739h2.41v14h-2.41zM438.16 739h2.41v14h-2.41zM440.17 739h2.41v14h-2.41zM452.22 739h2.41v14h-2.41zM458.25 739h2.41v14h-2.41zM460.26 739h2.41v14h-2.41zM462.26 739h2.41v14h-2.41zM474.32 739h2.41v14h-2.41zM478.33 739h2.41v14h-2.41zM484.36 739h2.41v14h-2.41zM486.37 739h2.41v14h-2.41zM494.4 739h2.41v14h-2.41zM496.41 739h2.41v14h-2.41zM498.42 739h2.41v14h-2.41zM504.44 739h2.41v14h-2.41zM506.45 739h2.41v14h-2.41zM514.48 739h2.41v14h-2.41zM516.49 739h2.41v14h-2.41zM522.52 739h2.41v14h-2.41zM526.54 739h2.41v14h-2.41zM544.61 739h2.41v14h-2.41zM548.63 739h2.41v14h-2.41zM562.69 739h2.41v14h-2.41zM570.72 739h2.41v14h-2.41zM582.77 739h2.41v14h-2.41zM592.82 739h2.41v14h-2.41zM598.84 739h2.41v14h-2.41zM600.85 739h2.41v14h-2.41zM377.91 753h2.41v14h-2.41zM379.92 753h2.41v14h-2.41zM389.96 753h2.41v14h-2.41zM393.98 753h2.41v14h-2.41zM395.98 753h2.41v14h-2.41zM404.02 753h2.41v14h-2.41zM412.05 753h2.41v14h-2.41zM414.06 753h2.41v14h-2.41zM420.09 753h2.41v14h-2.41zM422.09 753h2.41v14h-2.41zM428.12 753h2.41v14h-2.41zM434.15 753h2.41v14h-2.41zM444.19 753h2.41v14h-2.41zM450.21 753h2.41v14h-2.41zM452.22 753h2.41v14h-2.41zM454.23 753h2.41v14h-2.41zM460.26 753h2.41v14h-2.41zM462.26 753h2.41v14h-2.41zM464.27 753h2.41v14h-2.41zM476.32 753h2.41v14h-2.41zM484.36 753h2.41v14h-2.41zM488.37 753h2.41v14h-2.41zM500.43 753h2.41v14h-2.41zM506.45 753h2.41v14h-2.41zM522.52 753h2.41v14h-2.41zM528.54 753h2.41v14h-2.41zM534.57 753h2.41v14h-2.41zM538.59 753h2.41v14h-2.41zM542.6 753h2.41v14h-2.41zM546.62 753h2.41v14h-2.41zM548.63 753h2.41v14h-2.41zM550.64 753h2.41v14h-2.41zM556.66 753h2.41v14h-2.41zM558.67 753h2.41v14h-2.41zM566.71 753h2.41v14h-2.41zM576.75 753h2.41v14h-2.41zM578.76 753h2.41v14h-2.41zM584.78 753h2.41v14h-2.41zM588.8 753h2.41v14h-2.41zM594.82 753h2.41v14h-2.41zM610.89 753h2.01v14h-2.01zM375.9 767h2.41v14h-2.41zM377.91 767h2.41v14h-2.41zM381.93 767h2.41v14h-2.41zM387.95 767h2.41v14h-2.41zM389.96 767h2.41v14h-2.41zM391.97 767h2.41v14h-2.41zM397.99 767h2.41v14h-2.41zM402.01 767h2.41v14h-2.41zM416.07 767h2.41v14h-2.41zM424.1 767h2.41v14h-2.41zM432.14 767h2.41v14h-2.41zM436.15 767h2.41v14h-2.41zM444.19 767h2.41v14h-2.41zM452.22 767h2.41v14h-2.41zM458.25 767h2.41v14h-2.41zM468.29 767h2.41v14h-2.41zM478.33 767h2.41v14h-2.41zM494.4 767h2.41v14h-2.41zM498.42 767h2.41v14h-2.41zM506.45 767h2.41v14h-2.41zM514.48 767h2.41v14h-2.41zM528.54 767h2.41v14h-2.41zM540.59 767h2.41v14h-2.41zM548.63 767h2.41v14h-2.41zM554.65 767h2.41v14h-2.41zM566.71 767h2.41v14h-2.41zM574.74 767h2.41v14h-2.41zM576.75 767h2.41v14h-2.41zM580.76 767h2.41v14h-2.41zM594.82 767h2.41v14h-2.41zM600.85 767h2.41v14h-2.41zM604.87 767h2.41v14h-2.41zM608.88 767h2.41v14h-2.41zM375.9 781h2.41v14h-2.41zM381.93 781h2.41v14h-2.41zM395.98 781h2.41v14h-2.41zM400 781h2.41v14h-2.41zM404.02 781h2.41v14h-2.41zM414.06 781h2.41v14h-2.41zM422.09 781h2.41v14h-2.41zM426.11 781h2.41v14h-2.41zM432.14 781h2.41v14h-2.41zM438.16 781h2.41v14h-2.41zM440.17 781h2.41v14h-2.41zM442.18 781h2.41v14h-2.41zM448.21 781h2.41v14h-2.41zM454.23 781h2.41v14h-2.41zM456.24 781h2.41v14h-2.41zM470.3 781h2.41v14h-2.41zM472.31 781h2.41v14h-2.41zM488.37 781h2.41v14h-2.41zM490.38 781h2.41v14h-2.41zM504.44 781h2.41v14h-2.41zM506.45 781h2.41v14h-2.41zM508.46 781h2.41v14h-2.41zM514.48 781h2.41v14h-2.41zM516.49 781h2.41v14h-2.41zM520.51 781h2.41v14h-2.41zM524.53 781h2.41v14h-2.41zM526.54 781h2.41v14h-2.41zM532.56 781h2.41v14h-2.41zM534.57 781h2.41v14h-2.41zM536.58 781h2.41v14h-2.41zM538.59 781h2.41v14h-2.41zM558.67 781h2.41v14h-2.41zM566.71 781h2.41v14h-2.41zM592.82 781h2.41v14h-2.41zM596.83 781h2.41v14h-2.41zM379.92 795h2.41v14h-2.41zM381.93 795h2.41v14h-2.41zM383.93 795h2.41v14h-2.41zM387.95 795h2.41v14h-2.41zM389.96 795h2.41v14h-2.41zM406.03 795h2.41v14h-2.41zM418.08 795h2.41v14h-2.41zM420.09 795h2.41v14h-2.41zM436.15 795h2.41v14h-2.41zM440.17 795h2.41v14h-2.41zM450.21 795h2.41v14h-2.41zM454.23 795h2.41v14h-2.41zM482.35 795h2.41v14h-2.41zM486.37 795h2.41v14h-2.41zM490.38 795h2.41v14h-2.41zM494.4 795h2.41v14h-2.41zM496.41 795h2.41v14h-2.41zM502.43 795h2.41v14h-2.41zM508.46 795h2.41v14h-2.41zM512.48 795h2.41v14h-2.41zM514.48 795h2.41v14h-2.41zM516.49 795h2.41v14h-2.41zM518.5 795h2.41v14h-2.41zM522.52 795h2.41v14h-2.41zM526.54 795h2.41v14h-2.41zM528.54 795h2.41v14h-2.41zM534.57 795h2.41v14h-2.41zM544.61 795h2.41v14h-2.41zM558.67 795h2.41v14h-2.41zM560.68 795h2.41v14h-2.41zM562.69 795h2.41v14h-2.41zM582.77 795h2.41v14h-2.41zM588.8 795h2.41v14h-2.41zM608.88 795h2.41v14h-2.41zM610.89 795h2.01v14h-2.01zM379.92 809h2.41v14h-2.41zM383.93 809h2.41v14h-2.41zM391.97 809h2.41v14h-2.41zM400 809h2.41v14h-2.41zM408.04 809h2.41v14h-2.41zM410.04 809h2.41v14h-2.41zM412.05 809h2.41v14h-2.41zM416.07 809h2.41v14h-2.41zM418.08 809h2.41v14h-2.41zM428.12 809h2.41v14h-2.41zM430.13 809h2.41v14h-2.41zM438.16 809h2.41v14h-2.41zM450.21 809h2.41v14h-2.41zM456.24 809h2.41v14h-2.41zM460.26 809h2.41v14h-2.41zM466.28 809h2.41v14h-2.41zM468.29 809h2.41v14h-2.41zM490.38 809h2.41v14h-2.41zM492.39 809h2.41v14h-2.41zM498.42 809h2.41v14h-2.41zM504.44 809h2.41v14h-2.41zM506.45 809h2.41v14h-2.41zM510.47 809h2.41v14h-2.41zM512.48 809h2.41v14h-2.41zM536.58 809h2.41v14h-2.41zM550.64 809h2.41v14h-2.41zM556.66 809h2.41v14h-2.41zM558.67 809h2.41v14h-2.41zM560.68 809h2.41v14h-2.41zM562.69 809h2.41v14h-2.41zM578.76 809h2.41v14h-2.41zM580.76 809h2.41v14h-2.41zM582.77 809h2.41v14h-2.41zM594.82 809h2.41v14h-2.41zM600.85 809h2.41v14h-2.41zM606.87 809h2.41v14h-2.41zM608.88 809h2.41v14h-2.41zM375.9 823h2.41v14h-2.41zM377.91 823h2.41v14h-2.41zM381.93 823h2.41v14h-2.41zM385.94 823h2.41v14h-2.41zM391.97 823h2.41v14h-2.41zM395.98 823h2.41v14h-2.41zM406.03 823h2.41v14h-2.41zM412.05 823h2.41v14h-2.41zM414.06 823h2.41v14h-2.41zM416.07 823h2.41v14h-2.41zM422.09 823h2.41v14h-2.41zM430.13 823h2.41v14h-2.41zM436.15 823h2.41v14h-2.41zM438.16 823h2.41v14h-2.41zM442.18 823h2.41v14h-2.41zM452.22 823h2.41v14h-2.41zM456.24 823h2.41v14h-2.41zM462.26 823h2.41v14h-2.41zM464.27 823h2.41v14h-2.41zM472.31 823h2.41v14h-2.41zM478.33 823h2.41v14h-2.41zM480.34 823h2.41v14h-2.41zM490.38 823h2.41v14h-2.41zM506.45 823h2.41v14h-2.41zM508.46 823h2.41v14h-2.41zM510.47 823h2.41v14h-2.41zM514.48 823h2.41v14h-2.41zM526.54 823h2.41v14h-2.41zM530.55 823h2.41v14h-2.41zM534.57 823h2.41v14h-2.41zM540.59 823h2.41v14h-2.41zM542.6 823h2.41v14h-2.41zM550.64 823h2.41v14h-2.41zM552.65 823h2.41v14h-2.41zM556.66 823h2.41v14h-2.41zM558.67 823h2.41v14h-2.41zM564.7 823h2.41v14h-2.41zM566.71 823h2.41v14h-2.41zM570.72 823h2.41v14h-2.41zM572.73 823h2.41v14h-2.41zM582.77 823h2.41v14h-2.41zM588.8 823h2.41v14h-2.41zM590.81 823h2.41v14h-2.41zM592.82 823h2.41v14h-2.41zM594.82 823h2.41v14h-2.41zM596.83 823h2.41v14h-2.41zM608.88 823h2.41v14h-2.41zM610.89 823h2.01v14h-2.01zM375.9 837h2.41v14h-2.41zM381.93 837h2.41v14h-2.41zM393.98 837h2.41v14h-2.41zM395.98 837h2.41v14h-2.41zM404.02 837h2.41v14h-2.41zM408.04 837h2.41v14h-2.41zM414.06 837h2.41v14h-2.41zM416.07 837h2.41v14h-2.41zM428.12 837h2.41v14h-2.41zM434.15 837h2.41v14h-2.41zM440.17 837h2.41v14h-2.41zM442.18 837h2.41v14h-2.41zM452.22 837h2.41v14h-2.41zM460.26 837h2.41v14h-2.41zM466.28 837h2.41v14h-2.41zM474.32 837h2.41v14h-2.41zM482.35 837h2.41v14h-2.41zM488.37 837h2.41v14h-2.41zM498.42 837h2.41v14h-2.41zM500.43 837h2.41v14h-2.41zM504.44 837h2.41v14h-2.41zM514.48 837h2.41v14h-2.41zM538.59 837h2.41v14h-2.41zM542.6 837h2.41v14h-2.41zM546.62 837h2.41v14h-2.41zM548.63 837h2.41v14h-2.41zM552.65 837h2.41v14h-2.41zM556.66 837h2.41v14h-2.41zM558.67 837h2.41v14h-2.41zM574.74 837h2.41v14h-2.41zM576.75 837h2.41v14h-2.41zM582.77 837h2.41v14h-2.41zM584.78 837h2.41v14h-2.41zM588.8 837h2.41v14h-2.41zM594.82 837h2.41v14h-2.41zM600.85 837h2.41v14h-2.41zM602.86 837h2.41v14h-2.41zM606.87 837h2.41v14h-2.41zM375.9 851h2.41v14h-2.41zM379.92 851h2.41v14h-2.41zM381.93 851h2.41v14h-2.41zM385.94 851h2.41v14h-2.41zM397.99 851h2.41v14h-2.41zM400 851h2.41v14h-2.41zM410.04 851h2.41v14h-2.41zM416.07 851h2.41v14h-2.41zM418.08 851h2.41v14h-2.41zM420.09 851h2.41v14h-2.41zM422.09 851h2.41v14h-2.41zM432.14 851h2.41v14h-2.41zM436.15 851h2.41v14h-2.41zM444.19 851h2.41v14h-2.41zM448.21 851h2.41v14h-2.41zM450.21 851h2.41v14h-2.41zM458.25 851h2.41v14h-2.41zM464.27 851h2.41v14h-2.41zM476.32 851h2.41v14h-2.41zM478.33 851h2.41v14h-2.41zM482.35 851h2.41v14h-2.41zM484.36 851h2.41v14h-2.41zM490.38 851h2.41v14h-2.41zM498.42 851h2.41v14h-2.41zM504.44 851h2.41v14h-2.41zM506.45 851h2.41v14h-2.41zM516.49 851h2.41v14h-2.41zM518.5 851h2.41v14h-2.41zM520.51 851h2.41v14h-2.41zM524.53 851h2.41v14h-2.41zM532.56 851h2.41v14h-2.41zM536.58 851h2.41v14h-2.41zM542.6 851h2.41v14h-2.41zM544.61 851h2.41v14h-2.41zM546.62 851h2.41v14h-2.41zM548.63 851h2.41v14h-2.41zM564.7 851h2.41v14h-2.41zM578.76 851h2.41v14h-2.41zM584.78 851h2.41v14h-2.41zM588.8 851h2.41v14h-2.41zM592.82 851h2.41v14h-2.41zM598.84 851h2.41v14h-2.41zM600.85 851h2.41v14h-2.41zM602.86 851h2.41v14h-2.41zM606.87 851h2.41v14h-2.41zM610.89 851h2.01v14h-2.01zM387.95 865h2.41v14h-2.41zM397.99 865h2.41v14h-2.41zM402.01 865h2.41v14h-2.41zM406.03 865h2.41v14h-2.41zM416.07 865h2.41v14h-2.41zM422.09 865h2.41v14h-2.41zM424.1 865h2.41v14h-2.41zM426.11 865h2.41v14h-2.41zM428.12 865h2.41v14h-2.41zM436.15 865h2.41v14h-2.41zM454.23 865h2.41v14h-2.41zM456.24 865h2.41v14h-2.41zM470.3 865h2.41v14h-2.41zM472.31 865h2.41v14h-2.41zM476.32 865h2.41v14h-2.41zM504.44 865h2.41v14h-2.41zM508.46 865h2.41v14h-2.41zM518.5 865h2.41v14h-2.41zM524.53 865h2.41v14h-2.41zM528.54 865h2.41v14h-2.41zM532.56 865h2.41v14h-2.41zM536.58 865h2.41v14h-2.41zM542.6 865h2.41v14h-2.41zM546.62 865h2.41v14h-2.41zM564.7 865h2.41v14h-2.41zM572.73 865h2.41v14h-2.41zM580.76 865h2.41v14h-2.41zM582.77 865h2.41v14h-2.41zM584.78 865h2.41v14h-2.41zM590.81 865h2.41v14h-2.41zM598.84 865h2.41v14h-2.41zM604.87 865h2.41v14h-2.41zM606.87 865h2.41v14h-2.41zM379.92 879h2.41v14h-2.41zM393.98 879h2.41v14h-2.41zM404.02 879h2.41v14h-2.41zM406.03 879h2.41v14h-2.41zM408.04 879h2.41v14h-2.41zM426.11 879h2.41v14h-2.41zM432.14 879h2.41v14h-2.41zM442.18 879h2.41v14h-2.41zM456.24 879h2.41v14h-2.41zM466.28 879h2.41v14h-2.41zM470.3 879h2.41v14h-2.41zM472.31 879h2.41v14h-2.41zM478.33 879h2.41v14h-2.41zM482.35 879h2.41v14h-2.41zM484.36 879h2.41v14h-2.41zM492.39 879h2.41v14h-2.41zM526.54 879h2.41v14h-2.41zM528.54 879h2.41v14h-2.41zM532.56 879h2.41v14h-2.41zM534.57 879h2.41v14h-2.41zM538.59 879h2.41v14h-2.41zM540.59 879h2.41v14h-2.41zM542.6 879h2.41v14h-2.41zM546.62 879h2.41v14h-2.41zM548.63 879h2.41v14h-2.41zM550.64 879h2.41v14h-2.41zM552.65 879h2.41v14h-2.41zM554.65 879h2.41v14h-2.41zM558.67 879h2.41v14h-2.41zM574.74 879h2.41v14h-2.41zM576.75 879h2.41v14h-2.41zM578.76 879h2.41v14h-2.41zM580.76 879h2.41v14h-2.41zM592.82 879h2.41v14h-2.41zM598.84 879h2.41v14h-2.41zM600.85 879h2.41v14h-2.41zM608.88 879h2.41v14h-2.41zM610.89 879h2.01v14h-2.01z"/>
<path fill="#30100e" d="M377.91 683h2.41v14h-2.41zM450.21 683h2.41v14h-2.41zM504.44 683h2.41v14h-2.41zM506.45 683h2.41v14h-2.41zM544.61 683h2.41v14h-2.41zM550.64 683h2.41v14h-2.41zM556.66 683h2.41v14h-2.41zM562.69 683h2.41v14h-2.41zM395.98 697h2.41v14h-2.41zM400 697h2.41v14h-2.41zM454.23 697h2.41v14h-2.41zM462.26 697h2.41v14h-2.41zM514.48 697h2.41v14h-2.41zM552.65 697h2.41v14h-2.41zM406.03 711h2.41v14h-2.41zM408.04 711h2.41v14h-2.41zM414.06 711h2.41v14h-2.41zM420.09 711h2.41v14h-2.41zM432.14 711h2.41v14h-2.41zM450.21 711h2.41v14h-2.41zM478.33 711h2.41v14h-2.41zM393.98 725h2.41v14h-2.41zM402.01 725h2.41v14h-2.41zM406.03 725h2.41v14h-2.41zM410.04 725h2.41v14h-2.41zM412.05 725h2.41v14h-2.41zM440.17 725h2.41v14h-2.41zM454.23 725h2.41v14h-2.41zM512.48 725h2.41v14h-2.41zM402.01 739h2.41v14h-2.41zM410.04 739h2.41v14h-2.41zM466.28 739h2.41v14h-2.41zM430.13 753h2.41v14h-2.41zM498.42 753h2.41v14h-2.41zM606.87 753h2.41v14h-2.41zM385.94 767h2.41v14h-2.41zM408.04 767h2.41v14h-2.41zM496.41 767h2.41v14h-2.41zM510.47 767h2.41v14h-2.41zM536.58 767h2.41v14h-2.41zM538.59 767h2.41v14h-2.41zM592.82 767h2.41v14h-2.41zM602.86 767h2.41v14h-2.41zM434.15 781h2.41v14h-2.41zM498.42 781h2.41v14h-2.41zM502.43 781h2.41v14h-2.41zM530.55 781h2.41v14h-2.41zM542.6 781h2.41v14h-2.41zM550.64 781h2.41v14h-2.41zM578.76 781h2.41v14h-2.41zM600.85 781h2.41v14h-2.41zM492.39 795h2.41v14h-2.41zM524.53 795h2.41v14h-2.41zM550.64 795h2.41v14h-2.41zM552.65 795h2.41v14h-2.41zM568.71 795h2.41v14h-2.41zM576.75 795h2.41v14h-2.41zM586.79 795h2.41v14h-2.41zM426.11 809h2.41v14h-2.41zM514.48 809h2.41v14h-2.41zM518.5 809h2.41v14h-2.41zM534.57 809h2.41v14h-2.41zM568.71 809h2.41v14h-2.41zM576.75 809h2.41v14h-2.41zM598.84 809h2.41v14h-2.41zM602.86 809h2.41v14h-2.41zM604.87 809h2.41v14h-2.41zM387.95 823h2.41v14h-2.41zM528.54 823h2.41v14h-2.41zM462.26 837h2.41v14h-2.41zM486.37 837h2.41v14h-2.41zM530.55 837h2.41v14h-2.41zM532.56 837h2.41v14h-2.41zM544.61 837h2.41v14h-2.41zM596.83 837h2.41v14h-2.41zM598.84 837h2.41v14h-2.41zM604.87 837h2.41v14h-2.41zM424.1 851h2.41v14h-2.41zM434.15 851h2.41v14h-2.41zM452.22 851h2.41v14h-2.41zM488.37 851h2.41v14h-2.41zM502.43 851h2.41v14h-2.41zM522.52 851h2.41v14h-2.41zM528.54 851h2.41v14h-2.41zM538.59 851h2.41v14h-2.41zM558.67 851h2.41v14h-2.41zM562.69 851h2.41v14h-2.41zM566.71 851h2.41v14h-2.41zM576.75 851h2.41v14h-2.41zM590.81 851h2.41v14h-2.41zM594.82 851h2.41v14h-2.41zM596.83 851h2.41v14h-2.41zM377.91 865h2.41v14h-2.41zM570.72 865h2.41v14h-2.41zM594.82 865h2.41v14h-2.41zM602.86 865h2.41v14h-2.41zM610.89 865h2.01v14h-2.01zM389.96 879h2.41v14h-2.41zM397.99 879h2.41v14h-2.41zM446.2 879h2.41v14h-2.41zM454.23 879h2.41v14h-2.41zM494.4 879h2.41v14h-2.41zM506.45 879h2.41v14h-2.41zM512.48 879h2.41v14h-2.41zM518.5 879h2.41v14h-2.41zM536.58 879h2.41v14h-2.41zM544.61 879h2.41v14h-2.41zM568.71 879h2.41v14h-2.41zM588.8 879h2.41v14h-2.41z"/>
<path fill="#40100e" d="M381.93 683h2.41v14h-2.41zM404.02 683h2.41v14h-2.41zM406.03 683h2.41v14h-2.41zM576.75 683h2.41v14h-2.41zM393.98 697h2.41v14h-2.41zM402.01 697h2.41v14h-2.41zM406.03 697h2.41v14h-2.41zM430.13 697h2.41v14h-2.41zM432.14 697h2.41v14h-2.41zM434.15 697h2.41v14h-2.41zM476.32 697h2.41v14h-2.41zM492.39 697h2.41v14h-2.41zM504.44 697h2.41v14h-2.41zM385.94 711h2.41v14h-2.41zM395.98 711h2.41v14h-2.41zM410.04 711h2.41v14h-2.41zM412.05 711h2.41v14h-2.41zM426.11 711h2.41v14h-2.41zM436.15 711h2.41v14h-2.41zM514.48 711h2.41v14h-2.41zM383.93 725h2.41v14h-2.41zM397.99 725h2.41v14h-2.41zM404.02 725h2.41v14h-2.41zM462.26 725h2.41v14h-2.41zM472.31 725h2.41v14h-2.41zM476.32 725h2.41v14h-2.41zM486.37 725h2.41v14h-2.41zM379.92 739h2.41v14h-2.41zM454.23 739h2.41v14h-2.41zM472.31 739h2.41v14h-2.41zM408.04 753h2.41v14h-2.41zM472.31 753h2.41v14h-2.41zM514.48 753h2.41v14h-2.41zM544.61 753h2.41v14h-2.41zM552.65 753h2.41v14h-2.41zM554.65 753h2.41v14h-2.41zM564.7 753h2.41v14h-2.41zM602.86 753h2.41v14h-2.41zM410.04 767h2.41v14h-2.41zM502.43 767h2.41v14h-2.41zM508.46 767h2.41v14h-2.41zM534.57 767h2.41v14h-2.41zM560.68 767h2.41v14h-2.41zM572.73 767h2.41v14h-2.41zM578.76 767h2.41v14h-2.41zM496.41 781h2.41v14h-2.41zM554.65 781h2.41v14h-2.41zM582.77 781h2.41v14h-2.41zM586.79 781h2.41v14h-2.41zM532.56 795h2.41v14h-2.41zM538.59 795h2.41v14h-2.41zM572.73 795h2.41v14h-2.41zM590.81 795h2.41v14h-2.41zM508.46 809h2.41v14h-2.41zM610.89 809h2.01v14h-2.01zM516.49 823h2.41v14h-2.41zM578.76 823h2.41v14h-2.41zM604.87 823h2.41v14h-2.41zM520.51 837h2.41v14h-2.41zM524.53 837h2.41v14h-2.41zM526.54 837h2.41v14h-2.41zM560.68 837h2.41v14h-2.41zM566.71 837h2.41v14h-2.41zM460.26 851h2.41v14h-2.41zM472.31 851h2.41v14h-2.41zM494.4 851h2.41v14h-2.41zM496.41 851h2.41v14h-2.41zM550.64 851h2.41v14h-2.41zM568.71 851h2.41v14h-2.41zM574.74 851h2.41v14h-2.41zM582.77 851h2.41v14h-2.41zM478.33 865h2.41v14h-2.41zM494.4 865h2.41v14h-2.41zM540.59 865h2.41v14h-2.41zM550.64 865h2.41v14h-2.41zM554.65 865h2.41v14h-2.41zM558.67 865h2.41v14h-2.41zM586.79 865h2.41v14h-2.41zM592.82 865h2.41v14h-2.41zM608.88 865h2.41v14h-2.41zM496.41 879h2.41v14h-2.41zM502.43 879h2.41v14h-2.41zM504.44 879h2.41v14h-2.41zM582.77 879h2.41v14h-2.41zM590.81 879h2.41v14h-2.41zM604.87 879h2.41v14h-2.41z"/>
<path fill="#80100e" d="M383.93 683h2.41v14h-2.41zM508.46 711h2.41v14h-2.41zM562.69 753h2.41v14h-2.41zM532.56 767h2.41v14h-2.41zM542.6 809h2.41v14h-2.41zM576.75 865h2.41v14h-2.41z"/>
<path fill="#10200e" d="M387.95 683h2.41v14h-2.41zM391.97 683h2.41v14h-2.41zM400 683h2.41v14h-2.41zM424.1 683h2.41v14h-2.41zM430.13 683h2.41v14h-2.41zM470.3 683h2.41v14h-2.41zM490.38 683h2.41v14h-2.41zM492.39 683h2.41v14h-2.41zM500.43 683h2.41v14h-2.41zM516.49 683h2.41v14h-2.41zM526.54 683h2.41v14h-2.41zM560.68 683h2.41v14h-2.41zM564.7 683h2.41v14h-2.41zM566.71 683h2.41v14h-2.41zM568.71 683h2.41v14h-2.41zM578.76 683h2.41v14h-2.41zM604.87 683h2.41v14h-2.41zM450.21 697h2.41v14h-2.41zM526.54 697h2.41v14h-2.41zM532.56 697h2.41v14h-2.41zM536.58 697h2.41v14h-2.41zM546.62 697h2.41v14h-2.41zM560.68 697h2.41v14h-2.41zM584.78 697h2.41v14h-2.41zM602.86 697h2.41v14h-2.41zM608.88 697h2.41v14h-2.41zM610.89 697h2.01v14h-2.01zM379.92 711h2.41v14h-2.41zM383.93 711h2.41v14h-2.41zM387.95 711h2.41v14h-2.41zM512.48 711h2.41v14h-2.41zM520.51 711h2.41v14h-2.41zM538.59 711h2.41v14h-2.41zM566.71 711h2.41v14h-2.41zM574.74 711h2.41v14h-2.41zM582.77 711h2.41v14h-2.41zM592.82 711h2.41v14h-2.41zM598.84 711h2.41v14h-2.41zM608.88 711h2.41v14h-2.41zM379.92 725h2.41v14h-2.41zM381.93 725h2.41v14h-2.41zM434.15 725h2.41v14h-2.41zM458.25 725h2.41v14h-2.41zM514.48 725h2.41v14h-2.41zM528.54 725h2.41v14h-2.41zM610.89 725h2.01v14h-2.01zM400 739h2.41v14h-2.41zM420.09 739h2.41v14h-2.41zM456.24 739h2.41v14h-2.41zM488.37 739h2.41v14h-2.41zM490.38 739h2.41v14h-2.41zM500.43 739h2.41v14h-2.41zM512.48 739h2.41v14h-2.41zM518.5 739h2.41v14h-2.41zM532.56 739h2.41v14h-2.41zM552.65 739h2.41v14h-2.41zM576.75 739h2.41v14h-2.41zM584.78 739h2.41v14h-2.41zM588.8 739h2.41v14h-2.41zM385.94 753h2.41v14h-2.41zM416.07 753h2.41v14h-2.41zM418.08 753h2.41v14h-2.41zM442.18 753h2.41v14h-2.41zM448.21 753h2.41v14h-2.41zM456.24 753h2.41v14h-2.41zM470.3 753h2.41v14h-2.41zM474.32 753h2.41v14h-2.41zM478.33 753h2.41v14h-2.41zM490.38 753h2.41v14h-2.41zM494.4 753h2.41v14h-2.41zM530.55 753h2.41v14h-2.41zM532.56 753h2.41v14h-2.41zM536.58 753h2.41v14h-2.41zM574.74 753h2.41v14h-2.41zM383.93 767h2.41v14h-2.41zM406.03 767h2.41v14h-2.41zM420.09 767h2.41v14h-2.41zM428.12 767h2.41v14h-2.41zM438.16 767h2.41v14h-2.41zM440.17 767h2.41v14h-2.41zM450.21 767h2.41v14h-2.41zM454.23 767h2.41v14h-2.41zM464.27 767h2.41v14h-2.41zM492.39 767h2.41v14h-2.41zM504.44 767h2.41v14h-2.41zM544.61 767h2.41v14h-2.41zM546.62 767h2.41v14h-2.41zM598.84 767h2.41v14h-2.41zM606.87 767h2.41v14h-2.41zM410.04 781h2.41v14h-2.41zM418.08 781h2.41v14h-2.41zM420.09 781h2.41v14h-2.41zM428.12 781h2.41v14h-2.41zM452.22 781h2.41v14h-2.41zM458.25 781h2.41v14h-2.41zM462.26 781h2.41v14h-2.41zM468.29 781h2.41v14h-2.41zM474.32 781h2.41v14h-2.41zM476.32 781h2.41v14h-2.41zM482.35 781h2.41v14h-2.41zM486.37 781h2.41v14h-2.41zM540.59 781h2.41v14h-2.41zM564.7 781h2.41v14h-2.41zM375.9 795h2.41v14h-2.41zM393.98 795h2.41v14h-2.41zM402.01 795h2.41v14h-2.41zM404.02 795h2.41v14h-2.41zM412.05 795h2.41v14h-2.41zM430.13 795h2.41v14h-2.41zM432.14 795h2.41v14h-2.41zM444.19 795h2.41v14h-2.41zM446.2 795h2.41v14h-2.41zM448.21 795h2.41v14h-2.41zM452.22 795h2.41v14h-2.41zM468.29 795h2.41v14h-2.41zM474.32 795h2.41v14h-2.41zM498.42 795h2.41v14h-2.41zM556.66 795h2.41v14h-2.41zM375.9 809h2.41v14h-2.41zM381.93 809h2.41v14h-2.41zM395.98 809h2.41v14h-2.41zM397.99 809h2.41v14h-2.41zM404.02 809h2.41v14h-2.41zM434.15 809h2.41v14h-2.41zM444.19 809h2.41v14h-2.41zM446.2 809h2.41v14h-2.41zM454.23 809h2.41v14h-2.41zM462.26 809h2.41v14h-2.41zM464.27 809h2.41v14h-2.41zM482.35 809h2.41v14h-2.41zM488.37 809h2.41v14h-2.41zM496.41 809h2.41v14h-2.41zM526.54 809h2.41v14h-2.41zM540.59 809h2.41v14h-2.41zM564.7 809h2.41v14h-2.41zM418.08 823h2.41v14h-2.41zM426.11 823h2.41v14h-2.41zM432.14 823h2.41v14h-2.41zM446.2 823h2.41v14h-2.41zM448.21 823h2.41v14h-2.41zM458.25 823h2.41v14h-2.41zM466.28 823h2.41v14h-2.41zM470.3 823h2.41v14h-2.41zM476.32 823h2.41v14h-2.41zM484.36 823h2.41v14h-2.41zM488.37 823h2.41v14h-2.41zM496.41 823h2.41v14h-2.41zM498.42 823h2.41v14h-2.41zM520.51 823h2.41v14h-2.41zM522.52 823h2.41v14h-2.41zM580.76 823h2.41v14h-2.41zM586.79 823h2.41v14h-2.41zM383.93 837h2.41v14h-2.41zM397.99 837h2.41v14h-2.41zM402.01 837h2.41v14h-2.41zM412.05 837h2.41v14h-2.41zM422.09 837h2.41v14h-2.41zM426.11 837h2.41v14h-2.41zM456.24 837h2.41v14h-2.41zM464.27 837h2.41v14h-2.41zM478.33 837h2.41v14h-2.41zM490.38 837h2.41v14h-2.41zM512.48 837h2.41v14h-2.41zM568.71 837h2.41v14h-2.41zM383.93 851h2.41v14h-2.41zM414.06 851h2.41v14h-2.41zM446.2 851h2.41v14h-2.41zM474.32 851h2.41v14h-2.41zM480.34 851h2.41v14h-2.41zM512.48 851h2.41v14h-2.41zM514.48 851h2.41v14h-2.41zM540.59 851h2.41v14h-2.41zM385.94 865h2.41v14h-2.41zM418.08 865h2.41v14h-2.41zM434.15 865h2.41v14h-2.41zM452.22 865h2.41v14h-2.41zM458.25 865h2.41v14h-2.41zM466.28 865h2.41v14h-2.41zM468.29 865h2.41v14h-2.41zM482.35 865h2.41v14h-2.41zM516.49 865h2.41v14h-2.41zM596.83 865h2.41v14h-2.41zM377.91 879h2.41v14h-2.41zM400 879h2.41v14h-2.41zM416.07 879h2.41v14h-2.41zM424.1 879h2.41v14h-2.41zM428.12 879h2.41v14h-2.41zM436.15 879h2.41v14h-2.41zM444.19 879h2.41v14h-2.41zM486.37 879h2.41v14h-2.41zM498.42 879h2.41v14h-2.41zM522.52 879h2.41v14h-2.41zM524.53 879h2.41v14h-2.41zM602.86 879h2.41v14h-2.41z"/>
<path fill="#10400e" d="M393.98 683h2.41v14h-2.41zM478.33 683h2.41v14h-2.41zM486.37 683h2.41v14h-2.41zM534.57 683h2.41v14h-2.41zM540.59 683h2.41v14h-2.41zM554.65 683h2.41v14h-2.41zM572.73 683h2.41v14h-2.41zM574.74 683h2.41v14h-2.41zM600.85 683h2.41v14h-2.41zM602.86 683h2.41v14h-2.41zM608.88 683h2.41v14h-2.41zM456.24 697h2.41v14h-2.41zM498.42 697h2.41v14h-2.41zM502.43 697h2.41v14h-2.41zM524.53 697h2.41v14h-2.41zM556.66 697h2.41v14h-2.41zM592.82 697h2.41v14h-2.41zM594.82 697h2.41v14h-2.41zM596.83 697h2.41v14h-2.41zM504.44 711h2.41v14h-2.41zM532.56 711h2.41v14h-2.41zM594.82 711h2.41v14h-2.41zM420.09 725h2.41v14h-2.41zM460.26 725h2.41v14h-2.41zM482.35 725h2.41v14h-2.41zM522.52 725h2.41v14h-2.41zM534.57 725h2.41v14h-2.41zM536.58 725h2.41v14h-2.41zM570.72 725h2.41v14h-2.41zM572.73 725h2.41v14h-2.41zM582.77 725h2.41v14h-2.41zM385.94 739h2.41v14h-2.41zM412.05 739h2.41v14h-2.41zM434.15 739h2.41v14h-2.41zM450.21 739h2.41v14h-2.41zM464.27 739h2.41v14h-2.41zM468.29 739h2.41v14h-2.41zM502.43 739h2.41v14h-2.41zM538.59 739h2.41v14h-2.41zM546.62 739h2.41v14h-2.41zM566.71 739h2.41v14h-2.41zM590.81 739h2.41v14h-2.41zM608.88 739h2.41v14h-2.41zM610.89 739h2.01v14h-2.01zM375.9 753h2.41v14h-2.41zM432.14 753h2.41v14h-2.41zM446.2 753h2.41v14h-2.41zM466.28 753h2.41v14h-2.41zM482.35 753h2.41v14h-2.41zM512.48 753h2.41v14h-2.41zM608.88 753h2.41v14h-2.41zM379.92 767h2.41v14h-2.41zM404.02 767h2.41v14h-2.41zM426.11 767h2.41v14h-2.41zM460.26 767h2.41v14h-2.41zM466.28 767h2.41v14h-2.41zM385.94 781h2.41v14h-2.41zM391.97 781h2.41v14h-2.41zM446.2 781h2.41v14h-2.41zM450.21 781h2.41v14h-2.41zM464.27 781h2.41v14h-2.41zM478.33 781h2.41v14h-2.41zM522.52 781h2.41v14h-2.41zM546.62 781h2.41v14h-2.41zM428.12 795h2.41v14h-2.41zM434.15 795h2.41v14h-2.41zM500.43 795h2.41v14h-2.41zM540.59 795h2.41v14h-2.41zM387.95 809h2.41v14h-2.41zM389.96 809h2.41v14h-2.41zM402.01 809h2.41v14h-2.41zM432.14 809h2.41v14h-2.41zM480.34 809h2.41v14h-2.41zM500.43 809h2.41v14h-2.41zM548.63 809h2.41v14h-2.41zM566.71 809h2.41v14h-2.41zM590.81 809h2.41v14h-2.41zM444.19 823h2.41v14h-2.41zM486.37 823h2.41v14h-2.41zM504.44 823h2.41v14h-2.41zM546.62 823h2.41v14h-2.41zM560.68 823h2.41v14h-2.41zM391.97 837h2.41v14h-2.41zM410.04 837h2.41v14h-2.41zM424.1 837h2.41v14h-2.41zM432.14 837h2.41v14h-2.41zM454.23 837h2.41v14h-2.41zM470.3 837h2.41v14h-2.41zM476.32 837h2.41v14h-2.41zM484.36 837h2.41v14h-2.41zM492.39 837h2.41v14h-2.41zM540.59 837h2.41v14h-2.41zM402.01 851h2.41v14h-2.41zM412.05 851h2.41v14h-2.41zM442.18 851h2.41v14h-2.41zM570.72 851h2.41v14h-2.41zM572.73 851h2.41v14h-2.41zM604.87 851h2.41v14h-2.41zM391.97 865h2.41v14h-2.41zM393.98 865h2.41v14h-2.41zM400 865h2.41v14h-2.41zM408.04 865h2.41v14h-2.41zM414.06 865h2.41v14h-2.41zM420.09 865h2.41v14h-2.41zM432.14 865h2.41v14h-2.41zM440.17 865h2.41v14h-2.41zM450.21 865h2.41v14h-2.41zM480.34 865h2.41v14h-2.41zM484.36 865h2.41v14h-2.41zM496.41 865h2.41v14h-2.41zM498.42 865h2.41v14h-2.41zM502.43 865h2.41v14h-2.41zM568.71 865h2.41v14h-2.41zM395.98 879h2.41v14h-2.41zM402.01 879h2.41v14h-2.41zM420.09 879h2.41v14h-2.41zM440.17 879h2.41v14h-2.41zM586.79 879h2.41v14h-2.41z"/>
<path fill="#10300e" d="M395.98 683h2.41v14h-2.41zM408.04 683h2.41v14h-2.41zM448.21 683h2.41v14h-2.41zM570.72 683h2.41v14h-2.41zM408.04 697h2.41v14h-2.41zM482.35 697h2.41v14h-2.41zM496.41 697h2.41v14h-2.41zM520.51 697h2.41v14h-2.41zM540.59 697h2.41v14h-2.41zM568.71 697h2.41v14h-2.41zM397.99 711h2.41v14h-2.41zM516.49 711h2.41v14h-2.41zM518.5 711h2.41v14h-2.41zM528.54 711h2.41v14h-2.41zM560.68 711h2.41v14h-2.41zM568.71 711h2.41v14h-2.41zM570.72 711h2.41v14h-2.41zM572.73 711h2.41v14h-2.41zM584.78 711h2.41v14h-2.41zM414.06 725h2.41v14h-2.41zM444.19 725h2.41v14h-2.41zM452.22 725h2.41v14h-2.41zM466.28 725h2.41v14h-2.41zM480.34 725h2.41v14h-2.41zM504.44 725h2.41v14h-2.41zM520.51 725h2.41v14h-2.41zM552.65 725h2.41v14h-2.41zM560.68 725h2.41v14h-2.41zM562.69 725h2.41v14h-2.41zM588.8 725h2.41v14h-2.41zM594.82 725h2.41v14h-2.41zM422.09 739h2.41v14h-2.41zM424.1 739h2.41v14h-2.41zM432.14 739h2.41v14h-2.41zM444.19 739h2.41v14h-2.41zM476.32 739h2.41v14h-2.41zM492.39 739h2.41v14h-2.41zM534.57 739h2.41v14h-2.41zM550.64 739h2.41v14h-2.41zM558.67 739h2.41v14h-2.41zM381.93 753h2.41v14h-2.41zM387.95 753h2.41v14h-2.41zM406.03 753h2.41v14h-2.41zM426.11 753h2.41v14h-2.41zM458.25 753h2.41v14h-2.41zM486.37 753h2.41v14h-2.41zM492.39 753h2.41v14h-2.41zM508.46 753h2.41v14h-2.41zM570.72 753h2.41v14h-2.41zM582.77 753h2.41v14h-2.41zM596.83 753h2.41v14h-2.41zM400 767h2.41v14h-2.41zM414.06 767h2.41v14h-2.41zM430.13 767h2.41v14h-2.41zM434.15 767h2.41v14h-2.41zM530.55 767h2.41v14h-2.41zM586.79 767h2.41v14h-2.41zM610.89 767h2.01v14h-2.01zM387.95 781h2.41v14h-2.41zM412.05 781h2.41v14h-2.41zM424.1 781h2.41v14h-2.41zM466.28 781h2.41v14h-2.41zM560.68 781h2.41v14h-2.41zM576.75 781h2.41v14h-2.41zM590.81 781h2.41v14h-2.41zM608.88 781h2.41v14h-2.41zM385.94 795h2.41v14h-2.41zM400 795h2.41v14h-2.41zM408.04 795h2.41v14h-2.41zM410.04 795h2.41v14h-2.41zM414.06 795h2.41v14h-2.41zM424.1 795h2.41v14h-2.41zM426.11 795h2.41v14h-2.41zM442.18 795h2.41v14h-2.41zM456.24 795h2.41v14h-2.41zM460.26 795h2.41v14h-2.41zM462.26 795h2.41v14h-2.41zM478.33 795h2.41v14h-2.41zM480.34 795h2.41v14h-2.41zM488.37 795h2.41v14h-2.41zM542.6 795h2.41v14h-2.41zM578.76 795h2.41v14h-2.41zM604.87 795h2.41v14h-2.41zM420.09 809h2.41v14h-2.41zM436.15 809h2.41v14h-2.41zM442.18 809h2.41v14h-2.41zM452.22 809h2.41v14h-2.41zM470.3 809h2.41v14h-2.41zM478.33 809h2.41v14h-2.41zM484.36 809h2.41v14h-2.41zM544.61 809h2.41v14h-2.41zM554.65 809h2.41v14h-2.41zM592.82 809h2.41v14h-2.41zM383.93 823h2.41v14h-2.41zM389.96 823h2.41v14h-2.41zM408.04 823h2.41v14h-2.41zM410.04 823h2.41v14h-2.41zM420.09 823h2.41v14h-2.41zM440.17 823h2.41v14h-2.41zM460.26 823h2.41v14h-2.41zM482.35 823h2.41v14h-2.41zM494.4 823h2.41v14h-2.41zM500.43 823h2.41v14h-2.41zM502.43 823h2.41v14h-2.41zM584.78 823h2.41v14h-2.41zM598.84 823h2.41v14h-2.41zM377.91 837h2.41v14h-2.41zM379.92 837h2.41v14h-2.41zM385.94 837h2.41v14h-2.41zM389.96 837h2.41v14h-2.41zM438.16 837h2.41v14h-2.41zM448.21 837h2.41v14h-2.41zM450.21 837h2.41v14h-2.41zM506.45 837h2.41v14h-2.41zM592.82 837h2.41v14h-2.41zM391.97 851h2.41v14h-2.41zM393.98 851h2.41v14h-2.41zM408.04 851h2.41v14h-2.41zM428.12 851h2.41v14h-2.41zM430.13 851h2.41v14h-2.41zM456.24 851h2.41v14h-2.41zM462.26 851h2.41v14h-2.41zM470.3 851h2.41v14h-2.41zM486.37 851h2.41v14h-2.41zM492.39 851h2.41v14h-2.41zM379.92 865h2.41v14h-2.41zM410.04 865h2.41v14h-2.41zM444.19 865h2.41v14h-2.41zM462.26 865h2.41v14h-2.41zM490.38 865h2.41v14h-2.41zM510.47 865h2.41v14h-2.41zM385.94 879h2.41v14h-2.41zM412.05 879h2.41v14h-2.41zM438.16 879h2.41v14h-2.41zM474.32 879h2.41v14h-2.41zM514.48 879h2.41v14h-2.41zM566.71 879h2.41v14h-2.41z"/>
<path fill="#50ff10" d="M402.01 683h2.41v14h-2.41zM528.54 739h2.41v14h-2.41z"/>
<path fill="#309010" d="M410.04 683h2.41v14h-2.41zM476.32 683h2.41v14h-2.41zM500.43 697h2.41v14h-2.41zM522.52 697h2.41v14h-2.41zM602.86 711h2.41v14h-2.41zM606.87 725h2.41v14h-2.41zM428.12 739h2.41v14h-2.41zM586.79 739h2.41v14h-2.41zM524.53 753h2.41v14h-2.41zM442.18 767h2.41v14h-2.41zM466.28 795h2.41v14h-2.41zM446.2 837h2.41v14h-2.41zM375.9 865h2.41v14h-2.41zM474.32 865h2.41v14h-2.41zM520.51 865h2.41v14h-2.41z"/>
<path fill="#10500e" d="M416.07 683h2.41v14h-2.41zM440.17 683h2.41v14h-2.41zM606.87 683h2.41v14h-2.41zM588.8 711h2.41v14h-2.41zM494.4 725h2.41v14h-2.41zM526.54 725h2.41v14h-2.41zM546.62 725h2.41v14h-2.41zM383.93 753h2.41v14h-2.41zM510.47 753h2.41v14h-2.41zM412.05 767h2.41v14h-2.41zM490.38 767h2.41v14h-2.41zM393.98 809h2.41v14h-2.41zM422.09 809h2.41v14h-2.41zM476.32 809h2.41v14h-2.41zM520.51 809h2.41v14h-2.41zM400 823h2.41v14h-2.41zM440.17 851h2.41v14h-2.41zM375.9 879h2.41v14h-2.41zM381.93 879h2.41v14h-2.41zM450.21 879h2.41v14h-2.41zM462.26 879h2.41v14h-2.41z"/>
<path fill="#207010" d="M418.08 683h2.41v14h-2.41zM496.41 683h2.41v14h-2.41zM566.71 697h2.41v14h-2.41zM600.85 697h2.41v14h-2.41zM530.55 711h2.41v14h-2.41zM540.59 711h2.41v14h-2.41zM506.45 725h2.41v14h-2.41zM508.46 725h2.41v14h-2.41zM530.55 725h2.41v14h-2.41zM598.84 725h2.41v14h-2.41zM530.55 739h2.41v14h-2.41zM540.59 753h2.41v14h-2.41zM462.26 767h2.41v14h-2.41zM488.37 767h2.41v14h-2.41zM393.98 781h2.41v14h-2.41zM444.19 781h2.41v14h-2.41zM574.74 781h2.41v14h-2.41zM397.99 795h2.41v14h-2.41zM438.16 795h2.41v14h-2.41zM464.27 795h2.41v14h-2.41zM472.31 795h2.41v14h-2.41zM420.09 837h2.41v14h-2.41zM578.76 837h2.41v14h-2.41zM387.95 851h2.41v14h-2.41zM438.16 851h2.41v14h-2.41zM454.23 851h2.41v14h-2.41zM554.65 851h2.41v14h-2.41zM395.98 865h2.41v14h-2.41zM448.21 865h2.41v14h-2.41zM552.65 865h2.41v14h-2.41zM452.22 879h2.41v14h-2.41zM460.26 879h2.41v14h-2.41z"/>
<path fill="#20100e" d="M420.09 683h2.41v14h-2.41zM428.12 683h2.41v14h-2.41zM444.19 683h2.41v14h-2.41zM446.2 683h2.41v14h-2.41zM452.22 683h2.41v14h-2.41zM464.27 683h2.41v14h-2.41zM474.32 683h2.41v14h-2.41zM480.34 683h2.41v14h-2.41zM524.53 683h2.41v14h-2.41zM528.54 683h2.41v14h-2.41zM538.59 683h2.41v14h-2.41zM542.6 683h2.41v14h-2.41zM548.63 683h2.41v14h-2.41zM584.78 683h2.41v14h-2.41zM590.81 683h2.41v14h-2.41zM610.89 683h2.01v14h-2.01zM381.93 697h2.41v14h-2.41zM410.04 697h2.41v14h-2.41zM414.06 697h2.41v14h-2.41zM418.08 697h2.41v14h-2.41zM436.15 697h2.41v14h-2.41zM440.17 697h2.41v14h-2.41zM458.25 697h2.41v14h-2.41zM464.27 697h2.41v14h-2.41zM468.29 697h2.41v14h-2.41zM486.37 697h2.41v14h-2.41zM494.4 697h2.41v14h-2.41zM550.64 697h2.41v14h-2.41zM402.01 711h2.41v14h-2.41zM422.09 711h2.41v14h-2.41zM424.1 711h2.41v14h-2.41zM438.16 711h2.41v14h-2.41zM442.18 711h2.41v14h-2.41zM454.23 711h2.41v14h-2.41zM456.24 711h2.41v14h-2.41zM462.26 711h2.41v14h-2.41zM466.28 711h2.41v14h-2.41zM488.37 711h2.41v14h-2.41zM492.39 711h2.41v14h-2.41zM526.54 711h2.41v14h-2.41zM558.67 711h2.41v14h-2.41zM391.97 725h2.41v14h-2.41zM408.04 725h2.41v14h-2.41zM428.12 725h2.41v14h-2.41zM442.18 725h2.41v14h-2.41zM488.37 725h2.41v14h-2.41zM538.59 725h2.41v14h-2.41zM430.13 739h2.41v14h-2.41zM470.3 739h2.41v14h-2.41zM508.46 739h2.41v14h-2.41zM556.66 739h2.41v14h-2.41zM580.76 739h2.41v14h-2.41zM602.86 739h2.41v14h-2.41zM397.99 753h2.41v14h-2.41zM400 753h2.41v14h-2.41zM504.44 753h2.41v14h-2.41zM586.79 753h2.41v14h-2.41zM600.85 753h2.41v14h-2.41zM418.08 767h2.41v14h-2.41zM500.43 767h2.41v14h-2.41zM516.49 767h2.41v14h-2.41zM520.51 767h2.41v14h-2.41zM524.53 767h2.41v14h-2.41zM542.6 767h2.41v14h-2.41zM552.65 767h2.41v14h-2.41zM564.7 767h2.41v14h-2.41zM568.71 767h2.41v14h-2.41zM584.78 767h2.41v14h-2.41zM588.8 767h2.41v14h-2.41zM590.81 767h2.41v14h-2.41zM460.26 781h2.41v14h-2.41zM484.36 781h2.41v14h-2.41zM494.4 781h2.41v14h-2.41zM528.54 781h2.41v14h-2.41zM548.63 781h2.41v14h-2.41zM556.66 781h2.41v14h-2.41zM568.71 781h2.41v14h-2.41zM570.72 781h2.41v14h-2.41zM594.82 781h2.41v14h-2.41zM602.86 781h2.41v14h-2.41zM606.87 781h2.41v14h-2.41zM395.98 795h2.41v14h-2.41zM422.09 795h2.41v14h-2.41zM530.55 795h2.41v14h-2.41zM592.82 795h2.41v14h-2.41zM596.83 795h2.41v14h-2.41zM385.94 809h2.41v14h-2.41zM414.06 809h2.41v14h-2.41zM448.21 809h2.41v14h-2.41zM502.43 809h2.41v14h-2.41zM524.53 809h2.41v14h-2.41zM552.65 809h2.41v14h-2.41zM570.72 809h2.41v14h-2.41zM574.74 809h2.41v14h-2.41zM584.78 809h2.41v14h-2.41zM379.92 823h2.41v14h-2.41zM393.98 823h2.41v14h-2.41zM402.01 823h2.41v14h-2.41zM524.53 823h2.41v14h-2.41zM532.56 823h2.41v14h-2.41zM536.58 823h2.41v14h-2.41zM548.63 823h2.41v14h-2.41zM554.65 823h2.41v14h-2.41zM562.69 823h2.41v14h-2.41zM576.75 823h2.41v14h-2.41zM600.85 823h2.41v14h-2.41zM602.86 823h2.41v14h-2.41zM606.87 823h2.41v14h-2.41zM387.95 837h2.41v14h-2.41zM436.15 837h2.41v14h-2.41zM458.25 837h2.41v14h-2.41zM494.4 837h2.41v14h-2.41zM502.43 837h2.41v14h-2.41zM522.52 837h2.41v14h-2.41zM528.54 837h2.41v14h-2.41zM534.57 837h2.41v14h-2.41zM536.58 837h2.41v14h-2.41zM554.65 837h2.41v14h-2.41zM564.7 837h2.41v14h-2.41zM570.72 837h2.41v14h-2.41zM572.73 837h2.41v14h-2.41zM608.88 837h2.41v14h-2.41zM404.02 851h2.41v14h-2.41zM426.11 851h2.41v14h-2.41zM466.28 851h2.41v14h-2.41zM508.46 851h2.41v14h-2.41zM556.66 851h2.41v14h-2.41zM560.68 851h2.41v14h-2.41zM580.76 851h2.41v14h-2.41zM383.93 865h2.41v14h-2.41zM389.96 865h2.41v14h-2.41zM438.16 865h2.41v14h-2.41zM446.2 865h2.41v14h-2.41zM460.26 865h2.41v14h-2.41zM512.48 865h2.41v14h-2.41zM514.48 865h2.41v14h-2.41zM534.57 865h2.41v14h-2.41zM538.59 865h2.41v14h-2.41zM548.63 865h2.41v14h-2.41zM556.66 865h2.41v14h-2.41zM588.8 865h2.41v14h-2.41zM600.85 865h2.41v14h-2.41zM414.06 879h2.41v14h-2.41zM468.29 879h2.41v14h-2.41zM488.37 879h2.41v14h-2.41zM500.43 879h2.41v14h-2.41zM508.46 879h2.41v14h-2.41zM510.47 879h2.41v14h-2.41zM530.55 879h2.41v14h-2.41zM560.68 879h2.41v14h-2.41zM564.7 879h2.41v14h-2.41zM570.72 879h2.41v14h-2.41zM584.78 879h2.41v14h-2.41zM594.82 879h2.41v14h-2.41z"/>
<path fill="#50100e" d="M434.15 683h2.41v14h-2.41zM454.23 683h2.41v14h-2.41zM530.55 683h2.41v14h-2.41zM389.96 697h2.41v14h-2.41zM448.21 697h2.41v14h-2.41zM375.9 711h2.41v14h-2.41zM389.96 711h2.41v14h-2.41zM440.17 711h2.41v14h-2.41zM464.27 711h2.41v14h-2.41zM484.36 711h2.41v14h-2.41zM562.69 711h2.41v14h-2.41zM586.79 711h2.41v14h-2.41zM426.11 725h2.41v14h-2.41zM389.96 739h2.41v14h-2.41zM393.98 739h2.41v14h-2.41zM406.03 739h2.41v14h-2.41zM442.18 739h2.41v14h-2.41zM446.2 739h2.41v14h-2.41zM480.34 739h2.41v14h-2.41zM482.35 739h2.41v14h-2.41zM436.15 753h2.41v14h-2.41zM516.49 753h2.41v14h-2.41zM568.71 753h2.41v14h-2.41zM580.76 753h2.41v14h-2.41zM604.87 753h2.41v14h-2.41zM512.48 767h2.41v14h-2.41zM550.64 767h2.41v14h-2.41zM596.83 767h2.41v14h-2.41zM408.04 781h2.41v14h-2.41zM500.43 781h2.41v14h-2.41zM512.48 781h2.41v14h-2.41zM544.61 781h2.41v14h-2.41zM552.65 781h2.41v14h-2.41zM572.73 781h2.41v14h-2.41zM584.78 781h2.41v14h-2.41zM610.89 781h2.01v14h-2.01zM504.44 795h2.41v14h-2.41zM506.45 795h2.41v14h-2.41zM510.47 795h2.41v14h-2.41zM548.63 795h2.41v14h-2.41zM574.74 795h2.41v14h-2.41zM580.76 795h2.41v14h-2.41zM594.82 795h2.41v14h-2.41zM516.49 809h2.41v14h-2.41zM522.52 809h2.41v14h-2.41zM538.59 809h2.41v14h-2.41zM586.79 809h2.41v14h-2.41zM468.29 823h2.41v14h-2.41zM544.61 823h2.41v14h-2.41zM574.74 823h2.41v14h-2.41zM496.41 837h2.41v14h-2.41zM516.49 837h2.41v14h-2.41zM550.64 837h2.41v14h-2.41zM562.69 837h2.41v14h-2.41zM580.76 837h2.41v14h-2.41zM586.79 837h2.41v14h-2.41zM590.81 837h2.41v14h-2.41zM610.89 837h2.01v14h-2.01zM377.91 851h2.41v14h-2.41zM552.65 851h2.41v14h-2.41zM608.88 851h2.41v14h-2.41zM500.43 865h2.41v14h-2.41zM506.45 865h2.41v14h-2.41zM526.54 865h2.41v14h-2.41zM560.68 865h2.41v14h-2.41zM562.69 865h2.41v14h-2.41zM578.76 865h2.41v14h-2.41zM520.51 879h2.41v14h-2.41zM556.66 879h2.41v14h-2.41zM562.69 879h2.41v14h-2.41zM572.73 879h2.41v14h-2.41zM596.83 879h2.41v14h-2.41z"/>
<path fill="#60100e" d="M462.26 683h2.41v14h-2.41zM536.58 683h2.41v14h-2.41zM387.95 697h2.41v14h-2.41zM416.07 697h2.41v14h-2.41zM442.18 697h2.41v14h-2.41zM452.22 697h2.41v14h-2.41zM506.45 697h2.41v14h-2.41zM470.3 711h2.41v14h-2.41zM546.62 711h2.41v14h-2.41zM448.21 725h2.41v14h-2.41zM478.33 725h2.41v14h-2.41zM540.59 739h2.41v14h-2.41zM520.51 753h2.41v14h-2.41zM526.54 753h2.41v14h-2.41zM590.81 753h2.41v14h-2.41zM592.82 753h2.41v14h-2.41zM518.5 767h2.41v14h-2.41zM522.52 767h2.41v14h-2.41zM526.54 767h2.41v14h-2.41zM558.67 767h2.41v14h-2.41zM562.69 767h2.41v14h-2.41zM570.72 767h2.41v14h-2.41zM518.5 781h2.41v14h-2.41zM562.69 781h2.41v14h-2.41zM604.87 781h2.41v14h-2.41zM520.51 795h2.41v14h-2.41zM566.71 795h2.41v14h-2.41zM606.87 795h2.41v14h-2.41zM474.32 809h2.41v14h-2.41zM572.73 809h2.41v14h-2.41zM418.08 837h2.41v14h-2.41zM510.47 837h2.41v14h-2.41zM526.54 851h2.41v14h-2.41zM530.55 851h2.41v14h-2.41zM586.79 851h2.41v14h-2.41zM522.52 865h2.41v14h-2.41zM574.74 865h2.41v14h-2.41zM516.49 879h2.41v14h-2.41z"/>
<path fill="#20500e" d="M472.31 683h2.41v14h-2.41zM588.8 683h2.41v14h-2.41zM594.82 683h2.41v14h-2.41zM596.83 683h2.41v14h-2.41zM474.32 697h2.41v14h-2.41zM598.84 697h2.41v14h-2.41zM604.87 697h2.41v14h-2.41zM486.37 711h2.41v14h-2.41zM500.43 711h2.41v14h-2.41zM534.57 711h2.41v14h-2.41zM552.65 711h2.41v14h-2.41zM576.75 711h2.41v14h-2.41zM578.76 711h2.41v14h-2.41zM502.43 725h2.41v14h-2.41zM524.53 725h2.41v14h-2.41zM542.6 725h2.41v14h-2.41zM568.71 725h2.41v14h-2.41zM574.74 725h2.41v14h-2.41zM586.79 725h2.41v14h-2.41zM602.86 725h2.41v14h-2.41zM520.51 739h2.41v14h-2.41zM524.53 739h2.41v14h-2.41zM554.65 739h2.41v14h-2.41zM560.68 739h2.41v14h-2.41zM572.73 739h2.41v14h-2.41zM574.74 739h2.41v14h-2.41zM596.83 739h2.41v14h-2.41zM606.87 739h2.41v14h-2.41zM410.04 753h2.41v14h-2.41zM422.09 767h2.41v14h-2.41zM446.2 767h2.41v14h-2.41zM456.24 767h2.41v14h-2.41zM482.35 767h2.41v14h-2.41zM582.77 767h2.41v14h-2.41zM383.93 781h2.41v14h-2.41zM397.99 781h2.41v14h-2.41zM406.03 781h2.41v14h-2.41zM416.07 795h2.41v14h-2.41zM484.36 795h2.41v14h-2.41zM554.65 795h2.41v14h-2.41zM377.91 809h2.41v14h-2.41zM406.03 809h2.41v14h-2.41zM424.1 809h2.41v14h-2.41zM458.25 809h2.41v14h-2.41zM486.37 809h2.41v14h-2.41zM596.83 809h2.41v14h-2.41zM538.59 823h2.41v14h-2.41zM406.03 837h2.41v14h-2.41zM468.29 837h2.41v14h-2.41zM480.34 837h2.41v14h-2.41zM430.13 865h2.41v14h-2.41zM442.18 865h2.41v14h-2.41zM492.39 865h2.41v14h-2.41zM544.61 865h2.41v14h-2.41zM383.93 879h2.41v14h-2.41zM410.04 879h2.41v14h-2.41zM434.15 879h2.41v14h-2.41zM480.34 879h2.41v14h-2.41zM490.38 879h2.41v14h-2.41z"/>
<path fill="#50ff20" d="M488.37 683h2.41v14h-2.41zM590.81 725h2.41v14h-2.41zM438.16 753h2.41v14h-2.41z"/>
<path fill="#70100e" d="M510.47 683h2.41v14h-2.41zM385.94 697h2.41v14h-2.41zM518.5 697h2.41v14h-2.41zM528.54 697h2.41v14h-2.41zM468.29 711h2.41v14h-2.41zM395.98 725h2.41v14h-2.41zM438.16 725h2.41v14h-2.41zM518.5 753h2.41v14h-2.41zM572.73 753h2.41v14h-2.41zM556.66 767h2.41v14h-2.41zM510.47 781h2.41v14h-2.41zM580.76 781h2.41v14h-2.41zM598.84 781h2.41v14h-2.41zM536.58 795h2.41v14h-2.41zM564.7 795h2.41v14h-2.41zM528.54 809h2.41v14h-2.41zM510.47 851h2.41v14h-2.41zM534.57 851h2.41v14h-2.41zM606.87 879h2.41v14h-2.41z"/>
<path fill="#20600e" d="M514.48 683h2.41v14h-2.41zM576.75 697h2.41v14h-2.41zM377.91 711h2.41v14h-2.41zM580.76 711h2.41v14h-2.41zM496.41 725h2.41v14h-2.41zM540.59 725h2.41v14h-2.41zM544.61 725h2.41v14h-2.41zM600.85 725h2.41v14h-2.41zM608.88 725h2.41v14h-2.41zM542.6 739h2.41v14h-2.41zM564.7 739h2.41v14h-2.41zM578.76 739h2.41v14h-2.41zM604.87 739h2.41v14h-2.41zM391.97 753h2.41v14h-2.41zM402.01 753h2.41v14h-2.41zM424.1 753h2.41v14h-2.41zM393.98 767h2.41v14h-2.41zM474.32 767h2.41v14h-2.41zM484.36 767h2.41v14h-2.41zM402.01 781h2.41v14h-2.41zM436.15 781h2.41v14h-2.41zM480.34 781h2.41v14h-2.41zM458.25 795h2.41v14h-2.41zM476.32 795h2.41v14h-2.41zM584.78 795h2.41v14h-2.41zM440.17 809h2.41v14h-2.41zM472.31 809h2.41v14h-2.41zM530.55 809h2.41v14h-2.41zM397.99 823h2.41v14h-2.41zM424.1 823h2.41v14h-2.41zM428.12 823h2.41v14h-2.41zM434.15 823h2.41v14h-2.41zM492.39 823h2.41v14h-2.41zM430.13 837h2.41v14h-2.41zM444.19 837h2.41v14h-2.41zM406.03 851h2.41v14h-2.41zM468.29 851h2.41v14h-2.41zM404.02 865h2.41v14h-2.41zM412.05 865h2.41v14h-2.41zM488.37 865h2.41v14h-2.41z"/>
<path fill="#206010" d="M580.76 683h2.41v14h-2.41zM544.61 697h2.41v14h-2.41zM572.73 697h2.41v14h-2.41zM582.77 697h2.41v14h-2.41zM498.42 711h2.41v14h-2.41zM506.45 711h2.41v14h-2.41zM532.56 725h2.41v14h-2.41zM554.65 725h2.41v14h-2.41zM564.7 725h2.41v14h-2.41zM578.76 725h2.41v14h-2.41zM604.87 725h2.41v14h-2.41zM510.47 739h2.41v14h-2.41zM594.82 739h2.41v14h-2.41zM448.21 767h2.41v14h-2.41zM480.34 767h2.41v14h-2.41zM377.91 795h2.41v14h-2.41zM454.23 823h2.41v14h-2.41zM512.48 823h2.41v14h-2.41zM395.98 851h2.41v14h-2.41zM387.95 879h2.41v14h-2.41zM422.09 879h2.41v14h-2.41zM448.21 879h2.41v14h-2.41z"/>
<path fill="#901010" d="M582.77 683h2.41v14h-2.41zM508.46 697h2.41v14h-2.41zM486.37 767h2.41v14h-2.41zM600.85 795h2.41v14h-2.41zM472.31 837h2.41v14h-2.41zM518.5 837h2.41v14h-2.41z"/>
<path fill="#e01010" d="M420.09 697h2.41v14h-2.41zM496.41 753h2.41v14h-2.41zM508.46 837h2.41v14h-2.41z"/>
<path fill="#d01010" d="M470.3 697h2.41v14h-2.41zM532.56 809h2.41v14h-2.41zM588.8 809h2.41v14h-2.41z"/>
<path fill="#40b010" d="M534.57 697h2.41v14h-2.41z"/>
<path fill="#a01010" d="M562.69 697h2.41v14h-2.41zM400 711h2.41v14h-2.41zM434.15 711h2.41v14h-2.41zM456.24 725h2.41v14h-2.41zM588.8 781h2.41v14h-2.41zM546.62 809h2.41v14h-2.41zM474.32 823h2.41v14h-2.41zM530.55 865h2.41v14h-2.41zM391.97 879h2.41v14h-2.41z"/>
<path fill="#40c010" d="M564.7 697h2.41v14h-2.41zM389.96 781h2.41v14h-2.41zM566.71 865h2.41v14h-2.41z"/>
<path fill="#208010" d="M570.72 697h2.41v14h-2.41zM586.79 697h2.41v14h-2.41zM590.81 697h2.41v14h-2.41zM482.35 711h2.41v14h-2.41zM502.43 711h2.41v14h-2.41zM556.66 711h2.41v14h-2.41zM596.83 711h2.41v14h-2.41zM516.49 725h2.41v14h-2.41zM558.67 725h2.41v14h-2.41zM440.17 753h2.41v14h-2.41zM502.43 753h2.41v14h-2.41zM416.07 781h2.41v14h-2.41zM391.97 795h2.41v14h-2.41zM494.4 809h2.41v14h-2.41zM404.02 823h2.41v14h-2.41zM450.21 823h2.41v14h-2.41zM400 837h2.41v14h-2.41zM381.93 865h2.41v14h-2.41zM486.37 865h2.41v14h-2.41zM464.27 879h2.41v14h-2.41z"/>
<path fill="#b01010" d="M393.98 711h2.41v14h-2.41z"/>
<path fill="#50f010" d="M476.32 711h2.41v14h-2.41zM536.58 739h2.41v14h-2.41z"/>
<path fill="#308010" d="M510.47 711h2.41v14h-2.41zM542.6 711h2.41v14h-2.41zM510.47 725h2.41v14h-2.41zM598.84 753h2.41v14h-2.41zM472.31 767h2.41v14h-2.41zM377.91 781h2.41v14h-2.41zM464.27 865h2.41v14h-2.41zM430.13 879h2.41v14h-2.41z"/>
<path fill="#30b010" d="M550.64 711h2.41v14h-2.41zM576.75 725h2.41v14h-2.41zM395.98 767h2.41v14h-2.41zM570.72 795h2.41v14h-2.41zM568.71 823h2.41v14h-2.41zM418.08 879h2.41v14h-2.41zM476.32 879h2.41v14h-2.41z"/>
<path fill="#30a010" d="M600.85 711h2.41v14h-2.41zM548.63 725h2.41v14h-2.41zM580.76 725h2.41v14h-2.41zM596.83 725h2.41v14h-2.41zM568.71 739h2.41v14h-2.41zM480.34 753h2.41v14h-2.41zM470.3 767h2.41v14h-2.41zM476.32 767h2.41v14h-2.41zM430.13 781h2.41v14h-2.41zM458.25 879h2.41v14h-2.41z"/>
<path fill="#40d010" d="M556.66 725h2.41v14h-2.41zM546.62 795h2.41v14h-2.41zM602.86 795h2.41v14h-2.41z"/>
<path fill="#f01010" d="M448.21 739h2.41v14h-2.41z"/>
<path fill="#40e010" d="M468.29 753h2.41v14h-2.41zM379.92 781h2.41v14h-2.41zM470.3 795h2.41v14h-2.41z"/>
<path fill="#c01010" d="M560.68 753h2.41v14h-2.41zM389.96 851h2.41v14h-2.41z"/>
<path fill="#801010" d="M492.39 781h2.41v14h-2.41zM598.84 795h2.41v14h-2.41zM500.43 851h2.41v14h-2.41z"/>
<path fill="#ff2010" d="M518.5 823h2.41v14h-2.41z"/>
<rect x="375.9" y="892.9" width="237" height="1.1" fill="#bbbbbb"/>
<rect x="375.9" y="676.1" width="118.3" height="4.7" fill="#66f1c2"/>
<rect x="494.2" y="676.1" width="118.7" height="4.7" fill="#fe7196"/>
<text x="615" y="680.4" font-size="4.9" font-weight="bold" fill="#222">Type</text>
<text x="615" y="691.7" font-size="4.9" fill="#444">NTRK2*</text>
<text x="615" y="705.7" font-size="4.9" fill="#444">AKT1**</text>
<text x="615" y="719.7" font-size="4.9" fill="#444">EGFR***</text>
<text x="615" y="733.7" font-size="4.9" fill="#444">SIK1***</text>
<text x="615" y="747.7" font-size="4.9" fill="#444">STAT3**</text>
<text x="615" y="761.7" font-size="4.9" fill="#444">CASP8**</text>
<text x="615" y="775.7" font-size="4.9" fill="#444">PTK2***</text>
<text x="615" y="789.7" font-size="4.9" fill="#444">ITGB1**</text>
<text x="615" y="803.7" font-size="4.9" fill="#444">CTNNB1***</text>
<text x="615" y="817.7" font-size="4.9" fill="#444">BCL2L11*</text>
<text x="615" y="831.7" font-size="4.9" fill="#444">CEACAM5*</text>
<text x="615" y="845.7" font-size="4.9" fill="#444">TLE1***</text>
<text x="615" y="859.7" font-size="4.9" fill="#444">DAPK2**</text>
<text x="615" y="873.7" font-size="4.9" fill="#444">BRMS1***</text>
<text x="615" y="887.7" font-size="4.9" fill="#444">PTRH2**</text>
<path d="M351.3 704H375.9M351.3 718H375.9M351.3 704V718M349.8 732H375.9M349.8 746H375.9M349.8 732V746M348.9 711H351.3M348.9 739H349.8M348.9 711V739M345.8 690H375.9M345.8 725H348.9M345.8 690V725M354.1 788H375.9M354.1 802H375.9M354.1 788V802M351.8 774H375.9M351.8 795H354.1M351.8 774V795M349.8 760H375.9M349.8 784.5H351.8M349.8 760V784.5M348.6 816H375.9M348.6 830H375.9M348.6 816V830M347.4 772.25H349.8M347.4 823H348.6M347.4 772.25V823M353 872H375.9M353 886H375.9M353 872V886M348.2 858H375.9M348.2 879H353M348.2 858V879M346.5 844H375.9M346.5 868.5H348.2M346.5 844V868.5M344.6 797.62H347.4M344.6 856.25H346.5M344.6 797.62V856.25M339.3 707.5H345.8M339.3 826.94H344.6M339.3 707.5V826.94" stroke="#4a4a4a" stroke-width="0.7" fill="none"/>
<defs><linearGradient id="cbF" x1="0" y1="0" x2="0" y2="1"><stop offset="0" stop-color="#ff2222"/><stop offset="0.2" stop-color="#f41c1c"/><stop offset="0.33" stop-color="#8c0c0c"/><stop offset="0.5" stop-color="#101010"/><stop offset="0.58" stop-color="#124a0c"/><stop offset="0.66" stop-color="#4cc820"/><stop offset="0.72" stop-color="#62f020"/><stop offset="1" stop-color="#66ff22"/></linearGradient></defs>
<rect x="644.9" y="675" width="7.3" height="104.5" fill="url(#cbF)"/>
<text x="654.4" y="694.3" font-size="5" fill="#444">4</text>
<text x="654.4" y="711.4" font-size="5" fill="#444">2</text>
<text x="654.4" y="729" font-size="5" fill="#444">0</text>
<text x="654.4" y="746.7" font-size="5" fill="#444">−2</text>
<text x="654.4" y="764" font-size="5" fill="#444">−4</text>
<text x="660.9" y="679.2" font-size="4.9" font-weight="bold" fill="#222">Type</text>
<rect x="660.9" y="680.4" width="6.8" height="7.0" fill="#66f1c2"/>
<rect x="660.9" y="687.4" width="6.8" height="6.9" fill="#fe7196"/>
<text x="669" y="685.9" font-size="5" fill="#444">Control</text>
<text x="669" y="692.8" font-size="5" fill="#444">Tumor</text>
</svg>
</body></html>
